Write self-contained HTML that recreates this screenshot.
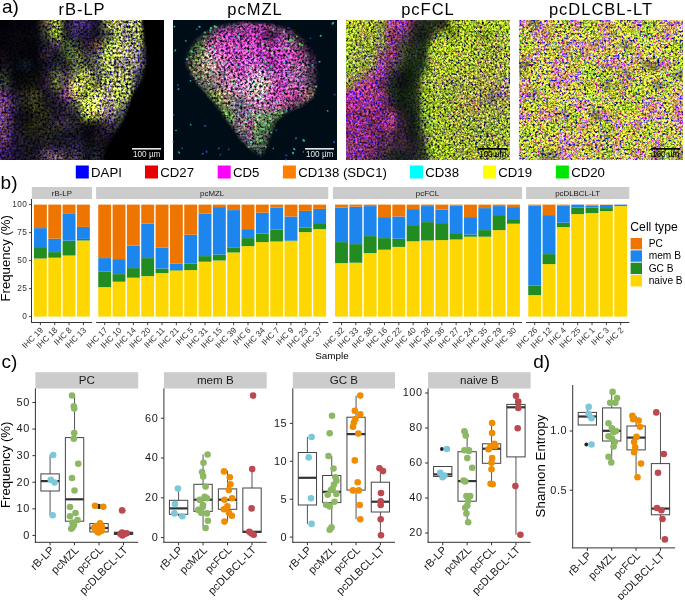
<!DOCTYPE html>
<html><head><meta charset="utf-8"><title>Figure</title>
<style>
html,body{margin:0;padding:0;background:#fff;}
body{width:685px;height:600px;overflow:hidden;}
svg{display:block;font-family:'Liberation Sans', sans-serif;will-change:transform;}
</style></head><body>
<svg width="685" height="600" viewBox="0 0 685 600">
<rect width="685" height="600" fill="#fff"/>
<defs>
<clipPath id="ic0"><rect x="0" y="20" width="164" height="140"/></clipPath>
<filter id="if0" filterUnits="userSpaceOnUse" x="0" y="20" width="164" height="140" color-interpolation-filters="sRGB"><feGaussianBlur in="SourceGraphic" stdDeviation="3.0" result="base"/><feTurbulence type="fractalNoise" baseFrequency="0.42" numOctaves="2" seed="3" result="n"/><feComponentTransfer in="n" result="m"><feFuncR type="linear" slope="-8" intercept="3.76"/><feFuncG type="linear" slope="8" intercept="-4.8"/><feFuncA type="linear" slope="0" intercept="1"/></feComponentTransfer><feColorMatrix in="m" type="matrix" values="-0.3 0.05 1.6 0 -0.245  -0.3 -0.15 1.6 0 -0.225  0.3 0.25 1.6 0 -0.385  0 0 0 0 1" result="nm"/><feComposite in="base" in2="nm" operator="arithmetic" k1="2" k2="0" k3="0" k4="0"/></filter>
<clipPath id="ic1"><rect x="173" y="20" width="164" height="140"/></clipPath>
<filter id="if1" filterUnits="userSpaceOnUse" x="173" y="20" width="164" height="140" color-interpolation-filters="sRGB"><feGaussianBlur in="SourceGraphic" stdDeviation="3.0" result="base"/><feTurbulence type="fractalNoise" baseFrequency="0.42" numOctaves="2" seed="10" result="n"/><feComponentTransfer in="n" result="m"><feFuncR type="linear" slope="-8" intercept="3.76"/><feFuncG type="linear" slope="8" intercept="-4.8"/><feFuncA type="linear" slope="0" intercept="1"/></feComponentTransfer><feColorMatrix in="m" type="matrix" values="-0.3 0.05 1.6 0 -0.245  -0.1 -0.15 1.6 0 -0.265  -0.1 0.25 1.6 0 -0.305  0 0 0 0 1" result="nm"/><feComposite in="base" in2="nm" operator="arithmetic" k1="2" k2="0" k3="0" k4="0"/></filter>
<clipPath id="ic2"><rect x="346" y="20" width="164" height="140"/></clipPath>
<filter id="if2" filterUnits="userSpaceOnUse" x="346" y="20" width="164" height="140" color-interpolation-filters="sRGB"><feGaussianBlur in="SourceGraphic" stdDeviation="3.0" result="base"/><feTurbulence type="fractalNoise" baseFrequency="0.45" numOctaves="2" seed="17" result="n"/><feComponentTransfer in="n" result="m"><feFuncR type="linear" slope="-8" intercept="3.76"/><feFuncG type="linear" slope="8" intercept="-4.8"/><feFuncA type="linear" slope="0" intercept="1"/></feComponentTransfer><feColorMatrix in="m" type="matrix" values="-0.28 0.1 1.3 0 -0.104  -0.28 -0.22 1.3 0 -0.072  0.4 0.35 1.3 0 -0.265  0 0 0 0 1" result="nm"/><feComposite in="base" in2="nm" operator="arithmetic" k1="2" k2="0" k3="0" k4="0"/></filter>
<clipPath id="ic3"><rect x="519" y="20" width="164" height="140"/></clipPath>
<filter id="if3" filterUnits="userSpaceOnUse" x="519" y="20" width="164" height="140" color-interpolation-filters="sRGB"><feGaussianBlur in="SourceGraphic" stdDeviation="2.0" result="base"/><feTurbulence type="fractalNoise" baseFrequency="0.45" numOctaves="2" seed="24" result="n"/><feComponentTransfer in="n" result="m"><feFuncR type="linear" slope="-8" intercept="3.76"/><feFuncG type="linear" slope="8" intercept="-4.8"/><feFuncA type="linear" slope="0" intercept="1"/></feComponentTransfer><feColorMatrix in="m" type="matrix" values="-0.32 0.16 1.1 0 -0.002  -0.32 -0.35 1.1 0 0.049  0.6 0.6 1.1 0 -0.230  0 0 0 0 1" result="nm"/><feComposite in="base" in2="nm" operator="arithmetic" k1="2" k2="0" k3="0" k4="0"/></filter>
</defs>
<g clip-path="url(#ic0)"><g filter="url(#if0)">
<rect x="-10.25" y="10.00" width="10.65" height="10.40" fill="rgb(2, 2, 6)"/>
<rect x="0.00" y="10.00" width="10.65" height="10.40" fill="rgb(2, 2, 6)"/>
<rect x="10.25" y="10.00" width="10.65" height="10.40" fill="rgb(4, 4, 9)"/>
<rect x="20.50" y="10.00" width="10.65" height="10.40" fill="rgb(4, 4, 9)"/>
<rect x="30.75" y="10.00" width="10.65" height="10.40" fill="rgb(6, 4, 11)"/>
<rect x="41.00" y="10.00" width="10.65" height="10.40" fill="rgb(80, 70, 50)"/>
<rect x="51.25" y="10.00" width="10.65" height="10.40" fill="rgb(140, 155, 51)"/>
<rect x="61.50" y="10.00" width="10.65" height="10.40" fill="rgb(27, 20, 41)"/>
<rect x="71.75" y="10.00" width="10.65" height="10.40" fill="rgb(65, 47, 103)"/>
<rect x="82.00" y="10.00" width="10.65" height="10.40" fill="rgb(51, 34, 85)"/>
<rect x="92.25" y="10.00" width="10.65" height="10.40" fill="rgb(18, 15, 37)"/>
<rect x="102.50" y="10.00" width="10.65" height="10.40" fill="rgb(138, 140, 80)"/>
<rect x="112.75" y="10.00" width="10.65" height="10.40" fill="rgb(158, 160, 95)"/>
<rect x="123.00" y="10.00" width="10.65" height="10.40" fill="rgb(139, 142, 101)"/>
<rect x="133.25" y="10.00" width="10.65" height="10.40" fill="rgb(159, 161, 106)"/>
<rect x="143.50" y="10.00" width="10.65" height="10.40" fill="rgb(10, 10, 10)"/>
<rect x="153.75" y="10.00" width="10.65" height="10.40" fill="rgb(0, 0, 0)"/>
<rect x="164.00" y="10.00" width="10.65" height="10.40" fill="rgb(0, 0, 0)"/>
<rect x="-10.25" y="20.00" width="10.65" height="10.40" fill="rgb(2, 2, 6)"/>
<rect x="0.00" y="20.00" width="10.65" height="10.40" fill="rgb(2, 2, 6)"/>
<rect x="10.25" y="20.00" width="10.65" height="10.40" fill="rgb(4, 4, 9)"/>
<rect x="20.50" y="20.00" width="10.65" height="10.40" fill="rgb(4, 4, 9)"/>
<rect x="30.75" y="20.00" width="10.65" height="10.40" fill="rgb(6, 4, 11)"/>
<rect x="41.00" y="20.00" width="10.65" height="10.40" fill="rgb(80, 70, 50)"/>
<rect x="51.25" y="20.00" width="10.65" height="10.40" fill="rgb(140, 155, 51)"/>
<rect x="61.50" y="20.00" width="10.65" height="10.40" fill="rgb(27, 20, 41)"/>
<rect x="71.75" y="20.00" width="10.65" height="10.40" fill="rgb(65, 47, 103)"/>
<rect x="82.00" y="20.00" width="10.65" height="10.40" fill="rgb(51, 34, 85)"/>
<rect x="92.25" y="20.00" width="10.65" height="10.40" fill="rgb(18, 15, 37)"/>
<rect x="102.50" y="20.00" width="10.65" height="10.40" fill="rgb(138, 140, 80)"/>
<rect x="112.75" y="20.00" width="10.65" height="10.40" fill="rgb(158, 160, 95)"/>
<rect x="123.00" y="20.00" width="10.65" height="10.40" fill="rgb(139, 142, 101)"/>
<rect x="133.25" y="20.00" width="10.65" height="10.40" fill="rgb(159, 161, 106)"/>
<rect x="143.50" y="20.00" width="10.65" height="10.40" fill="rgb(10, 10, 10)"/>
<rect x="153.75" y="20.00" width="10.65" height="10.40" fill="rgb(0, 0, 0)"/>
<rect x="164.00" y="20.00" width="10.65" height="10.40" fill="rgb(0, 0, 0)"/>
<rect x="-10.25" y="30.00" width="10.65" height="10.40" fill="rgb(4, 4, 11)"/>
<rect x="0.00" y="30.00" width="10.65" height="10.40" fill="rgb(4, 4, 11)"/>
<rect x="10.25" y="30.00" width="10.65" height="10.40" fill="rgb(9, 7, 16)"/>
<rect x="20.50" y="30.00" width="10.65" height="10.40" fill="rgb(6, 6, 11)"/>
<rect x="30.75" y="30.00" width="10.65" height="10.40" fill="rgb(9, 7, 16)"/>
<rect x="41.00" y="30.00" width="10.65" height="10.40" fill="rgb(44, 53, 44)"/>
<rect x="51.25" y="30.00" width="10.65" height="10.40" fill="rgb(125, 152, 40)"/>
<rect x="61.50" y="30.00" width="10.65" height="10.40" fill="rgb(29, 29, 37)"/>
<rect x="71.75" y="30.00" width="10.65" height="10.40" fill="rgb(52, 39, 78)"/>
<rect x="82.00" y="30.00" width="10.65" height="10.40" fill="rgb(28, 21, 49)"/>
<rect x="92.25" y="30.00" width="10.65" height="10.40" fill="rgb(19, 19, 32)"/>
<rect x="102.50" y="30.00" width="10.65" height="10.40" fill="rgb(55, 55, 64)"/>
<rect x="112.75" y="30.00" width="10.65" height="10.40" fill="rgb(142, 158, 82)"/>
<rect x="123.00" y="30.00" width="10.65" height="10.40" fill="rgb(116, 105, 105)"/>
<rect x="133.25" y="30.00" width="10.65" height="10.40" fill="rgb(142, 158, 82)"/>
<rect x="143.50" y="30.00" width="10.65" height="10.40" fill="rgb(4, 4, 9)"/>
<rect x="153.75" y="30.00" width="10.65" height="10.40" fill="rgb(0, 0, 0)"/>
<rect x="164.00" y="30.00" width="10.65" height="10.40" fill="rgb(0, 0, 0)"/>
<rect x="-10.25" y="40.00" width="10.65" height="10.40" fill="rgb(4, 4, 9)"/>
<rect x="0.00" y="40.00" width="10.65" height="10.40" fill="rgb(4, 4, 9)"/>
<rect x="10.25" y="40.00" width="10.65" height="10.40" fill="rgb(7, 9, 14)"/>
<rect x="20.50" y="40.00" width="10.65" height="10.40" fill="rgb(6, 6, 11)"/>
<rect x="30.75" y="40.00" width="10.65" height="10.40" fill="rgb(4, 4, 9)"/>
<rect x="41.00" y="40.00" width="10.65" height="10.40" fill="rgb(30, 30, 45)"/>
<rect x="51.25" y="40.00" width="10.65" height="10.40" fill="rgb(63, 45, 73)"/>
<rect x="61.50" y="40.00" width="10.65" height="10.40" fill="rgb(60, 80, 50)"/>
<rect x="71.75" y="40.00" width="10.65" height="10.40" fill="rgb(43, 52, 34)"/>
<rect x="82.00" y="40.00" width="10.65" height="10.40" fill="rgb(36, 21, 43)"/>
<rect x="92.25" y="40.00" width="10.65" height="10.40" fill="rgb(89, 59, 59)"/>
<rect x="102.50" y="40.00" width="10.65" height="10.40" fill="rgb(126, 154, 60)"/>
<rect x="112.75" y="40.00" width="10.65" height="10.40" fill="rgb(179, 183, 99)"/>
<rect x="123.00" y="40.00" width="10.65" height="10.40" fill="rgb(159, 161, 106)"/>
<rect x="133.25" y="40.00" width="10.65" height="10.40" fill="rgb(138, 141, 90)"/>
<rect x="143.50" y="40.00" width="10.65" height="10.40" fill="rgb(18, 15, 30)"/>
<rect x="153.75" y="40.00" width="10.65" height="10.40" fill="rgb(0, 0, 0)"/>
<rect x="164.00" y="40.00" width="10.65" height="10.40" fill="rgb(0, 0, 0)"/>
<rect x="-10.25" y="50.00" width="10.65" height="10.40" fill="rgb(15, 7, 18)"/>
<rect x="0.00" y="50.00" width="10.65" height="10.40" fill="rgb(15, 7, 18)"/>
<rect x="10.25" y="50.00" width="10.65" height="10.40" fill="rgb(6, 6, 13)"/>
<rect x="20.50" y="50.00" width="10.65" height="10.40" fill="rgb(4, 4, 9)"/>
<rect x="30.75" y="50.00" width="10.65" height="10.40" fill="rgb(4, 4, 9)"/>
<rect x="41.00" y="50.00" width="10.65" height="10.40" fill="rgb(48, 32, 48)"/>
<rect x="51.25" y="50.00" width="10.65" height="10.40" fill="rgb(19, 19, 25)"/>
<rect x="61.50" y="50.00" width="10.65" height="10.40" fill="rgb(59, 79, 39)"/>
<rect x="71.75" y="50.00" width="10.65" height="10.40" fill="rgb(104, 115, 57)"/>
<rect x="82.00" y="50.00" width="10.65" height="10.40" fill="rgb(52, 43, 52)"/>
<rect x="92.25" y="50.00" width="10.65" height="10.40" fill="rgb(86, 86, 86)"/>
<rect x="102.50" y="50.00" width="10.65" height="10.40" fill="rgb(162, 180, 86)"/>
<rect x="112.75" y="50.00" width="10.65" height="10.40" fill="rgb(179, 183, 110)"/>
<rect x="123.00" y="50.00" width="10.65" height="10.40" fill="rgb(156, 143, 143)"/>
<rect x="133.25" y="50.00" width="10.65" height="10.40" fill="rgb(118, 106, 130)"/>
<rect x="143.50" y="50.00" width="10.65" height="10.40" fill="rgb(10, 10, 21)"/>
<rect x="153.75" y="50.00" width="10.65" height="10.40" fill="rgb(0, 0, 0)"/>
<rect x="164.00" y="50.00" width="10.65" height="10.40" fill="rgb(0, 0, 0)"/>
<rect x="-10.25" y="60.00" width="10.65" height="10.40" fill="rgb(18, 15, 24)"/>
<rect x="0.00" y="60.00" width="10.65" height="10.40" fill="rgb(18, 15, 24)"/>
<rect x="10.25" y="60.00" width="10.65" height="10.40" fill="rgb(6, 6, 13)"/>
<rect x="20.50" y="60.00" width="10.65" height="10.40" fill="rgb(13, 27, 34)"/>
<rect x="30.75" y="60.00" width="10.65" height="10.40" fill="rgb(4, 4, 9)"/>
<rect x="41.00" y="60.00" width="10.65" height="10.40" fill="rgb(18, 15, 30)"/>
<rect x="51.25" y="60.00" width="10.65" height="10.40" fill="rgb(30, 30, 45)"/>
<rect x="61.50" y="60.00" width="10.65" height="10.40" fill="rgb(29, 29, 29)"/>
<rect x="71.75" y="60.00" width="10.65" height="10.40" fill="rgb(88, 99, 66)"/>
<rect x="82.00" y="60.00" width="10.65" height="10.40" fill="rgb(57, 67, 47)"/>
<rect x="92.25" y="60.00" width="10.65" height="10.40" fill="rgb(85, 85, 74)"/>
<rect x="102.50" y="60.00" width="10.65" height="10.40" fill="rgb(183, 203, 90)"/>
<rect x="112.75" y="60.00" width="10.65" height="10.40" fill="rgb(98, 87, 87)"/>
<rect x="123.00" y="60.00" width="10.65" height="10.40" fill="rgb(139, 142, 101)"/>
<rect x="133.25" y="60.00" width="10.65" height="10.40" fill="rgb(118, 106, 130)"/>
<rect x="143.50" y="60.00" width="10.65" height="10.40" fill="rgb(2, 2, 4)"/>
<rect x="153.75" y="60.00" width="10.65" height="10.40" fill="rgb(0, 0, 0)"/>
<rect x="164.00" y="60.00" width="10.65" height="10.40" fill="rgb(0, 0, 0)"/>
<rect x="-10.25" y="70.00" width="10.65" height="10.40" fill="rgb(31, 39, 31)"/>
<rect x="0.00" y="70.00" width="10.65" height="10.40" fill="rgb(31, 39, 31)"/>
<rect x="10.25" y="70.00" width="10.65" height="10.40" fill="rgb(6, 6, 11)"/>
<rect x="20.50" y="70.00" width="10.65" height="10.40" fill="rgb(6, 6, 11)"/>
<rect x="30.75" y="70.00" width="10.65" height="10.40" fill="rgb(10, 10, 10)"/>
<rect x="41.00" y="70.00" width="10.65" height="10.40" fill="rgb(27, 20, 38)"/>
<rect x="51.25" y="70.00" width="10.65" height="10.40" fill="rgb(87, 98, 54)"/>
<rect x="61.50" y="70.00" width="10.65" height="10.40" fill="rgb(63, 45, 73)"/>
<rect x="71.75" y="70.00" width="10.65" height="10.40" fill="rgb(137, 140, 70)"/>
<rect x="82.00" y="70.00" width="10.65" height="10.40" fill="rgb(161, 178, 64)"/>
<rect x="92.25" y="70.00" width="10.65" height="10.40" fill="rgb(85, 85, 74)"/>
<rect x="102.50" y="70.00" width="10.65" height="10.40" fill="rgb(143, 158, 93)"/>
<rect x="112.75" y="70.00" width="10.65" height="10.40" fill="rgb(159, 161, 106)"/>
<rect x="123.00" y="70.00" width="10.65" height="10.40" fill="rgb(138, 141, 90)"/>
<rect x="133.25" y="70.00" width="10.65" height="10.40" fill="rgb(55, 55, 64)"/>
<rect x="143.50" y="70.00" width="10.65" height="10.40" fill="rgb(0, 0, 0)"/>
<rect x="153.75" y="70.00" width="10.65" height="10.40" fill="rgb(0, 0, 0)"/>
<rect x="164.00" y="70.00" width="10.65" height="10.40" fill="rgb(0, 0, 0)"/>
<rect x="-10.25" y="80.00" width="10.65" height="10.40" fill="rgb(44, 53, 44)"/>
<rect x="0.00" y="80.00" width="10.65" height="10.40" fill="rgb(44, 53, 44)"/>
<rect x="10.25" y="80.00" width="10.65" height="10.40" fill="rgb(10, 10, 12)"/>
<rect x="20.50" y="80.00" width="10.65" height="10.40" fill="rgb(14, 14, 11)"/>
<rect x="30.75" y="80.00" width="10.65" height="10.40" fill="rgb(18, 18, 12)"/>
<rect x="41.00" y="80.00" width="10.65" height="10.40" fill="rgb(36, 21, 43)"/>
<rect x="51.25" y="80.00" width="10.65" height="10.40" fill="rgb(87, 98, 54)"/>
<rect x="61.50" y="80.00" width="10.65" height="10.40" fill="rgb(94, 73, 84)"/>
<rect x="71.75" y="80.00" width="10.65" height="10.40" fill="rgb(199, 205, 79)"/>
<rect x="82.00" y="80.00" width="10.65" height="10.40" fill="rgb(141, 156, 61)"/>
<rect x="92.25" y="80.00" width="10.65" height="10.40" fill="rgb(84, 84, 63)"/>
<rect x="102.50" y="80.00" width="10.65" height="10.40" fill="rgb(143, 158, 93)"/>
<rect x="112.75" y="80.00" width="10.65" height="10.40" fill="rgb(158, 160, 95)"/>
<rect x="123.00" y="80.00" width="10.65" height="10.40" fill="rgb(142, 158, 82)"/>
<rect x="133.25" y="80.00" width="10.65" height="10.40" fill="rgb(42, 42, 50)"/>
<rect x="143.50" y="80.00" width="10.65" height="10.40" fill="rgb(0, 0, 0)"/>
<rect x="153.75" y="80.00" width="10.65" height="10.40" fill="rgb(0, 0, 0)"/>
<rect x="164.00" y="80.00" width="10.65" height="10.40" fill="rgb(0, 0, 0)"/>
<rect x="-10.25" y="90.00" width="10.65" height="10.40" fill="rgb(84, 37, 103)"/>
<rect x="0.00" y="90.00" width="10.65" height="10.40" fill="rgb(84, 37, 103)"/>
<rect x="10.25" y="90.00" width="10.65" height="10.40" fill="rgb(27, 20, 41)"/>
<rect x="20.50" y="90.00" width="10.65" height="10.40" fill="rgb(40, 40, 24)"/>
<rect x="30.75" y="90.00" width="10.65" height="10.40" fill="rgb(53, 53, 26)"/>
<rect x="41.00" y="90.00" width="10.65" height="10.40" fill="rgb(19, 19, 25)"/>
<rect x="51.25" y="90.00" width="10.65" height="10.40" fill="rgb(39, 31, 47)"/>
<rect x="61.50" y="90.00" width="10.65" height="10.40" fill="rgb(118, 64, 118)"/>
<rect x="71.75" y="90.00" width="10.65" height="10.40" fill="rgb(173, 162, 85)"/>
<rect x="82.00" y="90.00" width="10.65" height="10.40" fill="rgb(122, 137, 58)"/>
<rect x="92.25" y="90.00" width="10.65" height="10.40" fill="rgb(223, 230, 107)"/>
<rect x="102.50" y="90.00" width="10.65" height="10.40" fill="rgb(136, 124, 136)"/>
<rect x="112.75" y="90.00" width="10.65" height="10.40" fill="rgb(162, 180, 86)"/>
<rect x="123.00" y="90.00" width="10.65" height="10.40" fill="rgb(142, 158, 82)"/>
<rect x="133.25" y="90.00" width="10.65" height="10.40" fill="rgb(0, 0, 0)"/>
<rect x="143.50" y="90.00" width="10.65" height="10.40" fill="rgb(0, 0, 0)"/>
<rect x="153.75" y="90.00" width="10.65" height="10.40" fill="rgb(0, 0, 0)"/>
<rect x="164.00" y="90.00" width="10.65" height="10.40" fill="rgb(0, 0, 0)"/>
<rect x="-10.25" y="100.00" width="10.65" height="10.40" fill="rgb(105, 63, 116)"/>
<rect x="0.00" y="100.00" width="10.65" height="10.40" fill="rgb(105, 63, 116)"/>
<rect x="10.25" y="100.00" width="10.65" height="10.40" fill="rgb(39, 31, 55)"/>
<rect x="20.50" y="100.00" width="10.65" height="10.40" fill="rgb(28, 28, 21)"/>
<rect x="30.75" y="100.00" width="10.65" height="10.40" fill="rgb(53, 53, 22)"/>
<rect x="41.00" y="100.00" width="10.65" height="10.40" fill="rgb(28, 24, 28)"/>
<rect x="51.25" y="100.00" width="10.65" height="10.40" fill="rgb(27, 20, 41)"/>
<rect x="61.50" y="100.00" width="10.65" height="10.40" fill="rgb(39, 31, 47)"/>
<rect x="71.75" y="100.00" width="10.65" height="10.40" fill="rgb(84, 84, 52)"/>
<rect x="82.00" y="100.00" width="10.65" height="10.40" fill="rgb(225, 249, 96)"/>
<rect x="92.25" y="100.00" width="10.65" height="10.40" fill="rgb(224, 231, 119)"/>
<rect x="102.50" y="100.00" width="10.65" height="10.40" fill="rgb(151, 126, 138)"/>
<rect x="112.75" y="100.00" width="10.65" height="10.40" fill="rgb(143, 158, 93)"/>
<rect x="123.00" y="100.00" width="10.65" height="10.40" fill="rgb(55, 55, 55)"/>
<rect x="133.25" y="100.00" width="10.65" height="10.40" fill="rgb(0, 0, 0)"/>
<rect x="143.50" y="100.00" width="10.65" height="10.40" fill="rgb(0, 0, 0)"/>
<rect x="153.75" y="100.00" width="10.65" height="10.40" fill="rgb(0, 0, 0)"/>
<rect x="164.00" y="100.00" width="10.65" height="10.40" fill="rgb(0, 0, 0)"/>
<rect x="-10.25" y="110.00" width="10.65" height="10.40" fill="rgb(89, 49, 108)"/>
<rect x="0.00" y="110.00" width="10.65" height="10.40" fill="rgb(89, 49, 108)"/>
<rect x="10.25" y="110.00" width="10.65" height="10.40" fill="rgb(27, 20, 41)"/>
<rect x="20.50" y="110.00" width="10.65" height="10.40" fill="rgb(10, 10, 15)"/>
<rect x="30.75" y="110.00" width="10.65" height="10.40" fill="rgb(28, 28, 14)"/>
<rect x="41.00" y="110.00" width="10.65" height="10.40" fill="rgb(40, 40, 24)"/>
<rect x="51.25" y="110.00" width="10.65" height="10.40" fill="rgb(27, 20, 34)"/>
<rect x="61.50" y="110.00" width="10.65" height="10.40" fill="rgb(39, 31, 55)"/>
<rect x="71.75" y="110.00" width="10.65" height="10.40" fill="rgb(29, 29, 37)"/>
<rect x="82.00" y="110.00" width="10.65" height="10.40" fill="rgb(161, 178, 64)"/>
<rect x="92.25" y="110.00" width="10.65" height="10.40" fill="rgb(138, 140, 80)"/>
<rect x="102.50" y="110.00" width="10.65" height="10.40" fill="rgb(113, 90, 113)"/>
<rect x="112.75" y="110.00" width="10.65" height="10.40" fill="rgb(86, 86, 86)"/>
<rect x="123.00" y="110.00" width="10.65" height="10.40" fill="rgb(30, 30, 45)"/>
<rect x="133.25" y="110.00" width="10.65" height="10.40" fill="rgb(0, 0, 0)"/>
<rect x="143.50" y="110.00" width="10.65" height="10.40" fill="rgb(0, 0, 0)"/>
<rect x="153.75" y="110.00" width="10.65" height="10.40" fill="rgb(0, 0, 0)"/>
<rect x="164.00" y="110.00" width="10.65" height="10.40" fill="rgb(0, 0, 0)"/>
<rect x="-10.25" y="120.00" width="10.65" height="10.40" fill="rgb(92, 61, 102)"/>
<rect x="0.00" y="120.00" width="10.65" height="10.40" fill="rgb(92, 61, 102)"/>
<rect x="10.25" y="120.00" width="10.65" height="10.40" fill="rgb(27, 20, 41)"/>
<rect x="20.50" y="120.00" width="10.65" height="10.40" fill="rgb(18, 18, 12)"/>
<rect x="30.75" y="120.00" width="10.65" height="10.40" fill="rgb(40, 40, 20)"/>
<rect x="41.00" y="120.00" width="10.65" height="10.40" fill="rgb(28, 28, 21)"/>
<rect x="51.25" y="120.00" width="10.65" height="10.40" fill="rgb(51, 42, 42)"/>
<rect x="61.50" y="120.00" width="10.65" height="10.40" fill="rgb(52, 43, 52)"/>
<rect x="71.75" y="120.00" width="10.65" height="10.40" fill="rgb(29, 29, 37)"/>
<rect x="82.00" y="120.00" width="10.65" height="10.40" fill="rgb(11, 13, 16)"/>
<rect x="92.25" y="120.00" width="10.65" height="10.40" fill="rgb(19, 19, 25)"/>
<rect x="102.50" y="120.00" width="10.65" height="10.40" fill="rgb(52, 43, 61)"/>
<rect x="112.75" y="120.00" width="10.65" height="10.40" fill="rgb(42, 42, 50)"/>
<rect x="123.00" y="120.00" width="10.65" height="10.40" fill="rgb(4, 4, 9)"/>
<rect x="133.25" y="120.00" width="10.65" height="10.40" fill="rgb(0, 0, 0)"/>
<rect x="143.50" y="120.00" width="10.65" height="10.40" fill="rgb(0, 0, 0)"/>
<rect x="153.75" y="120.00" width="10.65" height="10.40" fill="rgb(0, 0, 0)"/>
<rect x="164.00" y="120.00" width="10.65" height="10.40" fill="rgb(0, 0, 0)"/>
<rect x="-10.25" y="130.00" width="10.65" height="10.40" fill="rgb(89, 49, 108)"/>
<rect x="0.00" y="130.00" width="10.65" height="10.40" fill="rgb(89, 49, 108)"/>
<rect x="10.25" y="130.00" width="10.65" height="10.40" fill="rgb(28, 21, 49)"/>
<rect x="20.50" y="130.00" width="10.65" height="10.40" fill="rgb(29, 29, 29)"/>
<rect x="30.75" y="130.00" width="10.65" height="10.40" fill="rgb(28, 28, 21)"/>
<rect x="41.00" y="130.00" width="10.65" height="10.40" fill="rgb(29, 29, 29)"/>
<rect x="51.25" y="130.00" width="10.65" height="10.40" fill="rgb(21, 28, 28)"/>
<rect x="61.50" y="130.00" width="10.65" height="10.40" fill="rgb(19, 19, 32)"/>
<rect x="71.75" y="130.00" width="10.65" height="10.40" fill="rgb(19, 19, 32)"/>
<rect x="82.00" y="130.00" width="10.65" height="10.40" fill="rgb(6, 6, 13)"/>
<rect x="92.25" y="130.00" width="10.65" height="10.40" fill="rgb(25, 16, 29)"/>
<rect x="102.50" y="130.00" width="10.65" height="10.40" fill="rgb(27, 20, 34)"/>
<rect x="112.75" y="130.00" width="10.65" height="10.40" fill="rgb(10, 10, 21)"/>
<rect x="123.00" y="130.00" width="10.65" height="10.40" fill="rgb(2, 2, 4)"/>
<rect x="133.25" y="130.00" width="10.65" height="10.40" fill="rgb(0, 0, 0)"/>
<rect x="143.50" y="130.00" width="10.65" height="10.40" fill="rgb(0, 0, 0)"/>
<rect x="153.75" y="130.00" width="10.65" height="10.40" fill="rgb(0, 0, 0)"/>
<rect x="164.00" y="130.00" width="10.65" height="10.40" fill="rgb(0, 0, 0)"/>
<rect x="-10.25" y="140.00" width="10.65" height="10.40" fill="rgb(72, 36, 90)"/>
<rect x="0.00" y="140.00" width="10.65" height="10.40" fill="rgb(72, 36, 90)"/>
<rect x="10.25" y="140.00" width="10.65" height="10.40" fill="rgb(27, 20, 41)"/>
<rect x="20.50" y="140.00" width="10.65" height="10.40" fill="rgb(27, 20, 34)"/>
<rect x="30.75" y="140.00" width="10.65" height="10.40" fill="rgb(18, 15, 24)"/>
<rect x="41.00" y="140.00" width="10.65" height="10.40" fill="rgb(38, 31, 38)"/>
<rect x="51.25" y="140.00" width="10.65" height="10.40" fill="rgb(27, 20, 41)"/>
<rect x="61.50" y="140.00" width="10.65" height="10.40" fill="rgb(27, 20, 41)"/>
<rect x="71.75" y="140.00" width="10.65" height="10.40" fill="rgb(39, 31, 55)"/>
<rect x="82.00" y="140.00" width="10.65" height="10.40" fill="rgb(15, 18, 21)"/>
<rect x="92.25" y="140.00" width="10.65" height="10.40" fill="rgb(19, 19, 25)"/>
<rect x="102.50" y="140.00" width="10.65" height="10.40" fill="rgb(17, 11, 22)"/>
<rect x="112.75" y="140.00" width="10.65" height="10.40" fill="rgb(2, 2, 6)"/>
<rect x="123.00" y="140.00" width="10.65" height="10.40" fill="rgb(0, 0, 0)"/>
<rect x="133.25" y="140.00" width="10.65" height="10.40" fill="rgb(0, 0, 0)"/>
<rect x="143.50" y="140.00" width="10.65" height="10.40" fill="rgb(0, 0, 0)"/>
<rect x="153.75" y="140.00" width="10.65" height="10.40" fill="rgb(0, 0, 0)"/>
<rect x="164.00" y="140.00" width="10.65" height="10.40" fill="rgb(0, 0, 0)"/>
<rect x="-10.25" y="150.00" width="10.65" height="10.40" fill="rgb(47, 23, 71)"/>
<rect x="0.00" y="150.00" width="10.65" height="10.40" fill="rgb(47, 23, 71)"/>
<rect x="10.25" y="150.00" width="10.65" height="10.40" fill="rgb(27, 16, 47)"/>
<rect x="20.50" y="150.00" width="10.65" height="10.40" fill="rgb(19, 19, 32)"/>
<rect x="30.75" y="150.00" width="10.65" height="10.40" fill="rgb(27, 20, 41)"/>
<rect x="41.00" y="150.00" width="10.65" height="10.40" fill="rgb(78, 59, 78)"/>
<rect x="51.25" y="150.00" width="10.65" height="10.40" fill="rgb(95, 74, 95)"/>
<rect x="61.50" y="150.00" width="10.65" height="10.40" fill="rgb(52, 43, 61)"/>
<rect x="71.75" y="150.00" width="10.65" height="10.40" fill="rgb(53, 44, 70)"/>
<rect x="82.00" y="150.00" width="10.65" height="10.40" fill="rgb(19, 19, 32)"/>
<rect x="92.25" y="150.00" width="10.65" height="10.40" fill="rgb(29, 29, 37)"/>
<rect x="102.50" y="150.00" width="10.65" height="10.40" fill="rgb(10, 10, 15)"/>
<rect x="112.75" y="150.00" width="10.65" height="10.40" fill="rgb(0, 0, 2)"/>
<rect x="123.00" y="150.00" width="10.65" height="10.40" fill="rgb(0, 0, 0)"/>
<rect x="133.25" y="150.00" width="10.65" height="10.40" fill="rgb(0, 0, 0)"/>
<rect x="143.50" y="150.00" width="10.65" height="10.40" fill="rgb(0, 0, 0)"/>
<rect x="153.75" y="150.00" width="10.65" height="10.40" fill="rgb(0, 0, 0)"/>
<rect x="164.00" y="150.00" width="10.65" height="10.40" fill="rgb(0, 0, 0)"/>
<rect x="-10.25" y="160.00" width="10.65" height="10.40" fill="rgb(47, 23, 71)"/>
<rect x="0.00" y="160.00" width="10.65" height="10.40" fill="rgb(47, 23, 71)"/>
<rect x="10.25" y="160.00" width="10.65" height="10.40" fill="rgb(27, 16, 47)"/>
<rect x="20.50" y="160.00" width="10.65" height="10.40" fill="rgb(19, 19, 32)"/>
<rect x="30.75" y="160.00" width="10.65" height="10.40" fill="rgb(27, 20, 41)"/>
<rect x="41.00" y="160.00" width="10.65" height="10.40" fill="rgb(78, 59, 78)"/>
<rect x="51.25" y="160.00" width="10.65" height="10.40" fill="rgb(95, 74, 95)"/>
<rect x="61.50" y="160.00" width="10.65" height="10.40" fill="rgb(52, 43, 61)"/>
<rect x="71.75" y="160.00" width="10.65" height="10.40" fill="rgb(53, 44, 70)"/>
<rect x="82.00" y="160.00" width="10.65" height="10.40" fill="rgb(19, 19, 32)"/>
<rect x="92.25" y="160.00" width="10.65" height="10.40" fill="rgb(29, 29, 37)"/>
<rect x="102.50" y="160.00" width="10.65" height="10.40" fill="rgb(10, 10, 15)"/>
<rect x="112.75" y="160.00" width="10.65" height="10.40" fill="rgb(0, 0, 2)"/>
<rect x="123.00" y="160.00" width="10.65" height="10.40" fill="rgb(0, 0, 0)"/>
<rect x="133.25" y="160.00" width="10.65" height="10.40" fill="rgb(0, 0, 0)"/>
<rect x="143.50" y="160.00" width="10.65" height="10.40" fill="rgb(0, 0, 0)"/>
<rect x="153.75" y="160.00" width="10.65" height="10.40" fill="rgb(0, 0, 0)"/>
<rect x="164.00" y="160.00" width="10.65" height="10.40" fill="rgb(0, 0, 0)"/>
</g></g>
<g clip-path="url(#ic1)"><g filter="url(#if1)">
<rect x="162.75" y="10.00" width="10.65" height="10.40" fill="rgb(5, 10, 25)"/>
<rect x="173.00" y="10.00" width="10.65" height="10.40" fill="rgb(5, 10, 25)"/>
<rect x="183.25" y="10.00" width="10.65" height="10.40" fill="rgb(15, 20, 35)"/>
<rect x="193.50" y="10.00" width="10.65" height="10.40" fill="rgb(5, 10, 25)"/>
<rect x="203.75" y="10.00" width="10.65" height="10.40" fill="rgb(10, 15, 30)"/>
<rect x="214.00" y="10.00" width="10.65" height="10.40" fill="rgb(40, 40, 60)"/>
<rect x="224.25" y="10.00" width="10.65" height="10.40" fill="rgb(80, 60, 90)"/>
<rect x="234.50" y="10.00" width="10.65" height="10.40" fill="rgb(130, 70, 120)"/>
<rect x="244.75" y="10.00" width="10.65" height="10.40" fill="rgb(140, 60, 130)"/>
<rect x="255.00" y="10.00" width="10.65" height="10.40" fill="rgb(140, 50, 140)"/>
<rect x="265.25" y="10.00" width="10.65" height="10.40" fill="rgb(130, 60, 110)"/>
<rect x="275.50" y="10.00" width="10.65" height="10.40" fill="rgb(40, 40, 60)"/>
<rect x="285.75" y="10.00" width="10.65" height="10.40" fill="rgb(10, 15, 30)"/>
<rect x="296.00" y="10.00" width="10.65" height="10.40" fill="rgb(5, 10, 25)"/>
<rect x="306.25" y="10.00" width="10.65" height="10.40" fill="rgb(10, 15, 30)"/>
<rect x="316.50" y="10.00" width="10.65" height="10.40" fill="rgb(5, 10, 25)"/>
<rect x="326.75" y="10.00" width="10.65" height="10.40" fill="rgb(5, 10, 25)"/>
<rect x="337.00" y="10.00" width="10.65" height="10.40" fill="rgb(5, 10, 25)"/>
<rect x="162.75" y="20.00" width="10.65" height="10.40" fill="rgb(5, 10, 25)"/>
<rect x="173.00" y="20.00" width="10.65" height="10.40" fill="rgb(5, 10, 25)"/>
<rect x="183.25" y="20.00" width="10.65" height="10.40" fill="rgb(15, 20, 35)"/>
<rect x="193.50" y="20.00" width="10.65" height="10.40" fill="rgb(5, 10, 25)"/>
<rect x="203.75" y="20.00" width="10.65" height="10.40" fill="rgb(10, 15, 30)"/>
<rect x="214.00" y="20.00" width="10.65" height="10.40" fill="rgb(40, 40, 60)"/>
<rect x="224.25" y="20.00" width="10.65" height="10.40" fill="rgb(80, 60, 90)"/>
<rect x="234.50" y="20.00" width="10.65" height="10.40" fill="rgb(130, 70, 120)"/>
<rect x="244.75" y="20.00" width="10.65" height="10.40" fill="rgb(140, 60, 130)"/>
<rect x="255.00" y="20.00" width="10.65" height="10.40" fill="rgb(140, 50, 140)"/>
<rect x="265.25" y="20.00" width="10.65" height="10.40" fill="rgb(130, 60, 110)"/>
<rect x="275.50" y="20.00" width="10.65" height="10.40" fill="rgb(40, 40, 60)"/>
<rect x="285.75" y="20.00" width="10.65" height="10.40" fill="rgb(10, 15, 30)"/>
<rect x="296.00" y="20.00" width="10.65" height="10.40" fill="rgb(5, 10, 25)"/>
<rect x="306.25" y="20.00" width="10.65" height="10.40" fill="rgb(10, 15, 30)"/>
<rect x="316.50" y="20.00" width="10.65" height="10.40" fill="rgb(5, 10, 25)"/>
<rect x="326.75" y="20.00" width="10.65" height="10.40" fill="rgb(5, 10, 25)"/>
<rect x="337.00" y="20.00" width="10.65" height="10.40" fill="rgb(5, 10, 25)"/>
<rect x="162.75" y="30.00" width="10.65" height="10.40" fill="rgb(20, 40, 50)"/>
<rect x="173.00" y="30.00" width="10.65" height="10.40" fill="rgb(20, 40, 50)"/>
<rect x="183.25" y="30.00" width="10.65" height="10.40" fill="rgb(10, 15, 30)"/>
<rect x="193.50" y="30.00" width="10.65" height="10.40" fill="rgb(30, 40, 40)"/>
<rect x="203.75" y="30.00" width="10.65" height="10.40" fill="rgb(70, 70, 60)"/>
<rect x="214.00" y="30.00" width="10.65" height="10.40" fill="rgb(150, 60, 140)"/>
<rect x="224.25" y="30.00" width="10.65" height="10.40" fill="rgb(170, 60, 160)"/>
<rect x="234.50" y="30.00" width="10.65" height="10.40" fill="rgb(130, 40, 120)"/>
<rect x="244.75" y="30.00" width="10.65" height="10.40" fill="rgb(170, 50, 160)"/>
<rect x="255.00" y="30.00" width="10.65" height="10.40" fill="rgb(140, 40, 140)"/>
<rect x="265.25" y="30.00" width="10.65" height="10.40" fill="rgb(40, 20, 50)"/>
<rect x="275.50" y="30.00" width="10.65" height="10.40" fill="rgb(130, 60, 120)"/>
<rect x="285.75" y="30.00" width="10.65" height="10.40" fill="rgb(80, 50, 80)"/>
<rect x="296.00" y="30.00" width="10.65" height="10.40" fill="rgb(15, 20, 35)"/>
<rect x="306.25" y="30.00" width="10.65" height="10.40" fill="rgb(10, 20, 35)"/>
<rect x="316.50" y="30.00" width="10.65" height="10.40" fill="rgb(5, 10, 25)"/>
<rect x="326.75" y="30.00" width="10.65" height="10.40" fill="rgb(5, 10, 25)"/>
<rect x="337.00" y="30.00" width="10.65" height="10.40" fill="rgb(5, 10, 25)"/>
<rect x="162.75" y="40.00" width="10.65" height="10.40" fill="rgb(5, 10, 25)"/>
<rect x="173.00" y="40.00" width="10.65" height="10.40" fill="rgb(5, 10, 25)"/>
<rect x="183.25" y="40.00" width="10.65" height="10.40" fill="rgb(20, 30, 40)"/>
<rect x="193.50" y="40.00" width="10.65" height="10.40" fill="rgb(60, 90, 50)"/>
<rect x="203.75" y="40.00" width="10.65" height="10.40" fill="rgb(140, 80, 120)"/>
<rect x="214.00" y="40.00" width="10.65" height="10.40" fill="rgb(180, 70, 170)"/>
<rect x="224.25" y="40.00" width="10.65" height="10.40" fill="rgb(190, 70, 170)"/>
<rect x="234.50" y="40.00" width="10.65" height="10.40" fill="rgb(180, 60, 170)"/>
<rect x="244.75" y="40.00" width="10.65" height="10.40" fill="rgb(190, 70, 180)"/>
<rect x="255.00" y="40.00" width="10.65" height="10.40" fill="rgb(170, 50, 170)"/>
<rect x="265.25" y="40.00" width="10.65" height="10.40" fill="rgb(150, 50, 140)"/>
<rect x="275.50" y="40.00" width="10.65" height="10.40" fill="rgb(170, 70, 160)"/>
<rect x="285.75" y="40.00" width="10.65" height="10.40" fill="rgb(150, 90, 130)"/>
<rect x="296.00" y="40.00" width="10.65" height="10.40" fill="rgb(60, 40, 60)"/>
<rect x="306.25" y="40.00" width="10.65" height="10.40" fill="rgb(5, 10, 25)"/>
<rect x="316.50" y="40.00" width="10.65" height="10.40" fill="rgb(5, 10, 25)"/>
<rect x="326.75" y="40.00" width="10.65" height="10.40" fill="rgb(5, 10, 25)"/>
<rect x="337.00" y="40.00" width="10.65" height="10.40" fill="rgb(5, 10, 25)"/>
<rect x="162.75" y="50.00" width="10.65" height="10.40" fill="rgb(5, 10, 25)"/>
<rect x="173.00" y="50.00" width="10.65" height="10.40" fill="rgb(5, 10, 25)"/>
<rect x="183.25" y="50.00" width="10.65" height="10.40" fill="rgb(30, 40, 40)"/>
<rect x="193.50" y="50.00" width="10.65" height="10.40" fill="rgb(90, 110, 70)"/>
<rect x="203.75" y="50.00" width="10.65" height="10.40" fill="rgb(190, 150, 170)"/>
<rect x="214.00" y="50.00" width="10.65" height="10.40" fill="rgb(190, 100, 170)"/>
<rect x="224.25" y="50.00" width="10.65" height="10.40" fill="rgb(190, 80, 170)"/>
<rect x="234.50" y="50.00" width="10.65" height="10.40" fill="rgb(180, 70, 170)"/>
<rect x="244.75" y="50.00" width="10.65" height="10.40" fill="rgb(190, 80, 180)"/>
<rect x="255.00" y="50.00" width="10.65" height="10.40" fill="rgb(170, 50, 170)"/>
<rect x="265.25" y="50.00" width="10.65" height="10.40" fill="rgb(160, 40, 160)"/>
<rect x="275.50" y="50.00" width="10.65" height="10.40" fill="rgb(180, 50, 170)"/>
<rect x="285.75" y="50.00" width="10.65" height="10.40" fill="rgb(180, 60, 170)"/>
<rect x="296.00" y="50.00" width="10.65" height="10.40" fill="rgb(140, 60, 120)"/>
<rect x="306.25" y="50.00" width="10.65" height="10.40" fill="rgb(30, 25, 40)"/>
<rect x="316.50" y="50.00" width="10.65" height="10.40" fill="rgb(10, 20, 35)"/>
<rect x="326.75" y="50.00" width="10.65" height="10.40" fill="rgb(20, 40, 50)"/>
<rect x="337.00" y="50.00" width="10.65" height="10.40" fill="rgb(20, 40, 50)"/>
<rect x="162.75" y="60.00" width="10.65" height="10.40" fill="rgb(5, 10, 25)"/>
<rect x="173.00" y="60.00" width="10.65" height="10.40" fill="rgb(5, 10, 25)"/>
<rect x="183.25" y="60.00" width="10.65" height="10.40" fill="rgb(60, 50, 50)"/>
<rect x="193.50" y="60.00" width="10.65" height="10.40" fill="rgb(120, 120, 80)"/>
<rect x="203.75" y="60.00" width="10.65" height="10.40" fill="rgb(170, 150, 140)"/>
<rect x="214.00" y="60.00" width="10.65" height="10.40" fill="rgb(170, 110, 150)"/>
<rect x="224.25" y="60.00" width="10.65" height="10.40" fill="rgb(160, 80, 150)"/>
<rect x="234.50" y="60.00" width="10.65" height="10.40" fill="rgb(170, 70, 160)"/>
<rect x="244.75" y="60.00" width="10.65" height="10.40" fill="rgb(200, 100, 190)"/>
<rect x="255.00" y="60.00" width="10.65" height="10.40" fill="rgb(170, 80, 170)"/>
<rect x="265.25" y="60.00" width="10.65" height="10.40" fill="rgb(130, 40, 130)"/>
<rect x="275.50" y="60.00" width="10.65" height="10.40" fill="rgb(180, 60, 170)"/>
<rect x="285.75" y="60.00" width="10.65" height="10.40" fill="rgb(160, 80, 150)"/>
<rect x="296.00" y="60.00" width="10.65" height="10.40" fill="rgb(150, 80, 140)"/>
<rect x="306.25" y="60.00" width="10.65" height="10.40" fill="rgb(70, 40, 80)"/>
<rect x="316.50" y="60.00" width="10.65" height="10.40" fill="rgb(5, 10, 25)"/>
<rect x="326.75" y="60.00" width="10.65" height="10.40" fill="rgb(5, 10, 25)"/>
<rect x="337.00" y="60.00" width="10.65" height="10.40" fill="rgb(5, 10, 25)"/>
<rect x="162.75" y="70.00" width="10.65" height="10.40" fill="rgb(5, 10, 25)"/>
<rect x="173.00" y="70.00" width="10.65" height="10.40" fill="rgb(5, 10, 25)"/>
<rect x="183.25" y="70.00" width="10.65" height="10.40" fill="rgb(60, 50, 60)"/>
<rect x="193.50" y="70.00" width="10.65" height="10.40" fill="rgb(100, 90, 70)"/>
<rect x="203.75" y="70.00" width="10.65" height="10.40" fill="rgb(140, 130, 120)"/>
<rect x="214.00" y="70.00" width="10.65" height="10.40" fill="rgb(150, 110, 130)"/>
<rect x="224.25" y="70.00" width="10.65" height="10.40" fill="rgb(180, 110, 160)"/>
<rect x="234.50" y="70.00" width="10.65" height="10.40" fill="rgb(170, 70, 160)"/>
<rect x="244.75" y="70.00" width="10.65" height="10.40" fill="rgb(190, 110, 180)"/>
<rect x="255.00" y="70.00" width="10.65" height="10.40" fill="rgb(200, 150, 190)"/>
<rect x="265.25" y="70.00" width="10.65" height="10.40" fill="rgb(160, 90, 160)"/>
<rect x="275.50" y="70.00" width="10.65" height="10.40" fill="rgb(170, 60, 170)"/>
<rect x="285.75" y="70.00" width="10.65" height="10.40" fill="rgb(160, 100, 160)"/>
<rect x="296.00" y="70.00" width="10.65" height="10.40" fill="rgb(140, 90, 140)"/>
<rect x="306.25" y="70.00" width="10.65" height="10.40" fill="rgb(70, 50, 70)"/>
<rect x="316.50" y="70.00" width="10.65" height="10.40" fill="rgb(5, 10, 25)"/>
<rect x="326.75" y="70.00" width="10.65" height="10.40" fill="rgb(5, 10, 25)"/>
<rect x="337.00" y="70.00" width="10.65" height="10.40" fill="rgb(5, 10, 25)"/>
<rect x="162.75" y="80.00" width="10.65" height="10.40" fill="rgb(5, 10, 25)"/>
<rect x="173.00" y="80.00" width="10.65" height="10.40" fill="rgb(5, 10, 25)"/>
<rect x="183.25" y="80.00" width="10.65" height="10.40" fill="rgb(20, 20, 40)"/>
<rect x="193.50" y="80.00" width="10.65" height="10.40" fill="rgb(80, 80, 70)"/>
<rect x="203.75" y="80.00" width="10.65" height="10.40" fill="rgb(100, 100, 100)"/>
<rect x="214.00" y="80.00" width="10.65" height="10.40" fill="rgb(120, 90, 110)"/>
<rect x="224.25" y="80.00" width="10.65" height="10.40" fill="rgb(190, 120, 170)"/>
<rect x="234.50" y="80.00" width="10.65" height="10.40" fill="rgb(190, 120, 170)"/>
<rect x="244.75" y="80.00" width="10.65" height="10.40" fill="rgb(200, 140, 180)"/>
<rect x="255.00" y="80.00" width="10.65" height="10.40" fill="rgb(210, 200, 160)"/>
<rect x="265.25" y="80.00" width="10.65" height="10.40" fill="rgb(170, 130, 150)"/>
<rect x="275.50" y="80.00" width="10.65" height="10.40" fill="rgb(160, 60, 160)"/>
<rect x="285.75" y="80.00" width="10.65" height="10.40" fill="rgb(150, 80, 150)"/>
<rect x="296.00" y="80.00" width="10.65" height="10.40" fill="rgb(130, 80, 130)"/>
<rect x="306.25" y="80.00" width="10.65" height="10.40" fill="rgb(60, 50, 70)"/>
<rect x="316.50" y="80.00" width="10.65" height="10.40" fill="rgb(10, 15, 30)"/>
<rect x="326.75" y="80.00" width="10.65" height="10.40" fill="rgb(5, 10, 25)"/>
<rect x="337.00" y="80.00" width="10.65" height="10.40" fill="rgb(5, 10, 25)"/>
<rect x="162.75" y="90.00" width="10.65" height="10.40" fill="rgb(5, 8, 20)"/>
<rect x="173.00" y="90.00" width="10.65" height="10.40" fill="rgb(5, 8, 20)"/>
<rect x="183.25" y="90.00" width="10.65" height="10.40" fill="rgb(5, 8, 20)"/>
<rect x="193.50" y="90.00" width="10.65" height="10.40" fill="rgb(10, 10, 25)"/>
<rect x="203.75" y="90.00" width="10.65" height="10.40" fill="rgb(80, 110, 60)"/>
<rect x="214.00" y="90.00" width="10.65" height="10.40" fill="rgb(130, 140, 80)"/>
<rect x="224.25" y="90.00" width="10.65" height="10.40" fill="rgb(150, 120, 120)"/>
<rect x="234.50" y="90.00" width="10.65" height="10.40" fill="rgb(160, 110, 140)"/>
<rect x="244.75" y="90.00" width="10.65" height="10.40" fill="rgb(170, 140, 150)"/>
<rect x="255.00" y="90.00" width="10.65" height="10.40" fill="rgb(190, 160, 170)"/>
<rect x="265.25" y="90.00" width="10.65" height="10.40" fill="rgb(190, 80, 170)"/>
<rect x="275.50" y="90.00" width="10.65" height="10.40" fill="rgb(190, 60, 160)"/>
<rect x="285.75" y="90.00" width="10.65" height="10.40" fill="rgb(170, 60, 140)"/>
<rect x="296.00" y="90.00" width="10.65" height="10.40" fill="rgb(160, 60, 130)"/>
<rect x="306.25" y="90.00" width="10.65" height="10.40" fill="rgb(130, 110, 80)"/>
<rect x="316.50" y="90.00" width="10.65" height="10.40" fill="rgb(30, 30, 40)"/>
<rect x="326.75" y="90.00" width="10.65" height="10.40" fill="rgb(5, 8, 20)"/>
<rect x="337.00" y="90.00" width="10.65" height="10.40" fill="rgb(5, 8, 20)"/>
<rect x="162.75" y="100.00" width="10.65" height="10.40" fill="rgb(5, 8, 20)"/>
<rect x="173.00" y="100.00" width="10.65" height="10.40" fill="rgb(5, 8, 20)"/>
<rect x="183.25" y="100.00" width="10.65" height="10.40" fill="rgb(15, 25, 40)"/>
<rect x="193.50" y="100.00" width="10.65" height="10.40" fill="rgb(15, 20, 35)"/>
<rect x="203.75" y="100.00" width="10.65" height="10.40" fill="rgb(20, 25, 30)"/>
<rect x="214.00" y="100.00" width="10.65" height="10.40" fill="rgb(100, 110, 70)"/>
<rect x="224.25" y="100.00" width="10.65" height="10.40" fill="rgb(120, 110, 100)"/>
<rect x="234.50" y="100.00" width="10.65" height="10.40" fill="rgb(80, 80, 120)"/>
<rect x="244.75" y="100.00" width="10.65" height="10.40" fill="rgb(160, 100, 150)"/>
<rect x="255.00" y="100.00" width="10.65" height="10.40" fill="rgb(170, 100, 160)"/>
<rect x="265.25" y="100.00" width="10.65" height="10.40" fill="rgb(170, 90, 160)"/>
<rect x="275.50" y="100.00" width="10.65" height="10.40" fill="rgb(170, 90, 150)"/>
<rect x="285.75" y="100.00" width="10.65" height="10.40" fill="rgb(100, 60, 90)"/>
<rect x="296.00" y="100.00" width="10.65" height="10.40" fill="rgb(60, 60, 60)"/>
<rect x="306.25" y="100.00" width="10.65" height="10.40" fill="rgb(30, 40, 50)"/>
<rect x="316.50" y="100.00" width="10.65" height="10.40" fill="rgb(5, 8, 20)"/>
<rect x="326.75" y="100.00" width="10.65" height="10.40" fill="rgb(15, 20, 40)"/>
<rect x="337.00" y="100.00" width="10.65" height="10.40" fill="rgb(15, 20, 40)"/>
<rect x="162.75" y="110.00" width="10.65" height="10.40" fill="rgb(10, 15, 30)"/>
<rect x="173.00" y="110.00" width="10.65" height="10.40" fill="rgb(10, 15, 30)"/>
<rect x="183.25" y="110.00" width="10.65" height="10.40" fill="rgb(15, 20, 35)"/>
<rect x="193.50" y="110.00" width="10.65" height="10.40" fill="rgb(5, 8, 20)"/>
<rect x="203.75" y="110.00" width="10.65" height="10.40" fill="rgb(5, 8, 20)"/>
<rect x="214.00" y="110.00" width="10.65" height="10.40" fill="rgb(39, 91, 40)"/>
<rect x="224.25" y="110.00" width="10.65" height="10.40" fill="rgb(101, 144, 72)"/>
<rect x="234.50" y="110.00" width="10.65" height="10.40" fill="rgb(109, 91, 104)"/>
<rect x="244.75" y="110.00" width="10.65" height="10.40" fill="rgb(124, 102, 128)"/>
<rect x="255.00" y="110.00" width="10.65" height="10.40" fill="rgb(117, 133, 112)"/>
<rect x="265.25" y="110.00" width="10.65" height="10.40" fill="rgb(109, 123, 96)"/>
<rect x="275.50" y="110.00" width="10.65" height="10.40" fill="rgb(54, 102, 48)"/>
<rect x="285.75" y="110.00" width="10.65" height="10.40" fill="rgb(10, 15, 25)"/>
<rect x="296.00" y="110.00" width="10.65" height="10.40" fill="rgb(20, 25, 40)"/>
<rect x="306.25" y="110.00" width="10.65" height="10.40" fill="rgb(10, 15, 30)"/>
<rect x="316.50" y="110.00" width="10.65" height="10.40" fill="rgb(5, 8, 20)"/>
<rect x="326.75" y="110.00" width="10.65" height="10.40" fill="rgb(10, 20, 35)"/>
<rect x="337.00" y="110.00" width="10.65" height="10.40" fill="rgb(10, 20, 35)"/>
<rect x="162.75" y="120.00" width="10.65" height="10.40" fill="rgb(5, 8, 20)"/>
<rect x="173.00" y="120.00" width="10.65" height="10.40" fill="rgb(5, 8, 20)"/>
<rect x="183.25" y="120.00" width="10.65" height="10.40" fill="rgb(15, 15, 35)"/>
<rect x="193.50" y="120.00" width="10.65" height="10.40" fill="rgb(5, 10, 20)"/>
<rect x="203.75" y="120.00" width="10.65" height="10.40" fill="rgb(5, 8, 20)"/>
<rect x="214.00" y="120.00" width="10.65" height="10.40" fill="rgb(10, 15, 20)"/>
<rect x="224.25" y="120.00" width="10.65" height="10.40" fill="rgb(62, 91, 56)"/>
<rect x="234.50" y="120.00" width="10.65" height="10.40" fill="rgb(132, 91, 120)"/>
<rect x="244.75" y="120.00" width="10.65" height="10.40" fill="rgb(140, 91, 120)"/>
<rect x="255.00" y="120.00" width="10.65" height="10.40" fill="rgb(93, 133, 72)"/>
<rect x="265.25" y="120.00" width="10.65" height="10.40" fill="rgb(62, 91, 56)"/>
<rect x="275.50" y="120.00" width="10.65" height="10.40" fill="rgb(10, 15, 30)"/>
<rect x="285.75" y="120.00" width="10.65" height="10.40" fill="rgb(10, 15, 30)"/>
<rect x="296.00" y="120.00" width="10.65" height="10.40" fill="rgb(5, 8, 20)"/>
<rect x="306.25" y="120.00" width="10.65" height="10.40" fill="rgb(10, 15, 30)"/>
<rect x="316.50" y="120.00" width="10.65" height="10.40" fill="rgb(20, 30, 40)"/>
<rect x="326.75" y="120.00" width="10.65" height="10.40" fill="rgb(15, 25, 40)"/>
<rect x="337.00" y="120.00" width="10.65" height="10.40" fill="rgb(15, 25, 40)"/>
<rect x="162.75" y="130.00" width="10.65" height="10.40" fill="rgb(5, 8, 20)"/>
<rect x="173.00" y="130.00" width="10.65" height="10.40" fill="rgb(5, 8, 20)"/>
<rect x="183.25" y="130.00" width="10.65" height="10.40" fill="rgb(5, 8, 20)"/>
<rect x="193.50" y="130.00" width="10.65" height="10.40" fill="rgb(5, 8, 20)"/>
<rect x="203.75" y="130.00" width="10.65" height="10.40" fill="rgb(5, 8, 20)"/>
<rect x="214.00" y="130.00" width="10.65" height="10.40" fill="rgb(5, 8, 20)"/>
<rect x="224.25" y="130.00" width="10.65" height="10.40" fill="rgb(30, 40, 50)"/>
<rect x="234.50" y="130.00" width="10.65" height="10.40" fill="rgb(78, 91, 88)"/>
<rect x="244.75" y="130.00" width="10.65" height="10.40" fill="rgb(117, 81, 112)"/>
<rect x="255.00" y="130.00" width="10.65" height="10.40" fill="rgb(78, 112, 72)"/>
<rect x="265.25" y="130.00" width="10.65" height="10.40" fill="rgb(60, 60, 60)"/>
<rect x="275.50" y="130.00" width="10.65" height="10.40" fill="rgb(5, 10, 25)"/>
<rect x="285.75" y="130.00" width="10.65" height="10.40" fill="rgb(5, 8, 20)"/>
<rect x="296.00" y="130.00" width="10.65" height="10.40" fill="rgb(20, 40, 30)"/>
<rect x="306.25" y="130.00" width="10.65" height="10.40" fill="rgb(5, 8, 20)"/>
<rect x="316.50" y="130.00" width="10.65" height="10.40" fill="rgb(10, 15, 30)"/>
<rect x="326.75" y="130.00" width="10.65" height="10.40" fill="rgb(5, 8, 20)"/>
<rect x="337.00" y="130.00" width="10.65" height="10.40" fill="rgb(5, 8, 20)"/>
<rect x="162.75" y="140.00" width="10.65" height="10.40" fill="rgb(5, 8, 20)"/>
<rect x="173.00" y="140.00" width="10.65" height="10.40" fill="rgb(5, 8, 20)"/>
<rect x="183.25" y="140.00" width="10.65" height="10.40" fill="rgb(15, 20, 40)"/>
<rect x="193.50" y="140.00" width="10.65" height="10.40" fill="rgb(5, 8, 20)"/>
<rect x="203.75" y="140.00" width="10.65" height="10.40" fill="rgb(5, 8, 20)"/>
<rect x="214.00" y="140.00" width="10.65" height="10.40" fill="rgb(5, 8, 20)"/>
<rect x="224.25" y="140.00" width="10.65" height="10.40" fill="rgb(5, 10, 25)"/>
<rect x="234.50" y="140.00" width="10.65" height="10.40" fill="rgb(40, 40, 70)"/>
<rect x="244.75" y="140.00" width="10.65" height="10.40" fill="rgb(93, 91, 96)"/>
<rect x="255.00" y="140.00" width="10.65" height="10.40" fill="rgb(62, 91, 64)"/>
<rect x="265.25" y="140.00" width="10.65" height="10.40" fill="rgb(40, 40, 50)"/>
<rect x="275.50" y="140.00" width="10.65" height="10.40" fill="rgb(5, 8, 20)"/>
<rect x="285.75" y="140.00" width="10.65" height="10.40" fill="rgb(20, 30, 40)"/>
<rect x="296.00" y="140.00" width="10.65" height="10.40" fill="rgb(5, 8, 20)"/>
<rect x="306.25" y="140.00" width="10.65" height="10.40" fill="rgb(5, 8, 20)"/>
<rect x="316.50" y="140.00" width="10.65" height="10.40" fill="rgb(5, 8, 20)"/>
<rect x="326.75" y="140.00" width="10.65" height="10.40" fill="rgb(5, 8, 20)"/>
<rect x="337.00" y="140.00" width="10.65" height="10.40" fill="rgb(5, 8, 20)"/>
<rect x="162.75" y="150.00" width="10.65" height="10.40" fill="rgb(5, 8, 20)"/>
<rect x="173.00" y="150.00" width="10.65" height="10.40" fill="rgb(5, 8, 20)"/>
<rect x="183.25" y="150.00" width="10.65" height="10.40" fill="rgb(5, 8, 20)"/>
<rect x="193.50" y="150.00" width="10.65" height="10.40" fill="rgb(5, 8, 20)"/>
<rect x="203.75" y="150.00" width="10.65" height="10.40" fill="rgb(5, 8, 20)"/>
<rect x="214.00" y="150.00" width="10.65" height="10.40" fill="rgb(5, 8, 20)"/>
<rect x="224.25" y="150.00" width="10.65" height="10.40" fill="rgb(5, 8, 20)"/>
<rect x="234.50" y="150.00" width="10.65" height="10.40" fill="rgb(10, 10, 25)"/>
<rect x="244.75" y="150.00" width="10.65" height="10.40" fill="rgb(50, 50, 60)"/>
<rect x="255.00" y="150.00" width="10.65" height="10.40" fill="rgb(50, 60, 60)"/>
<rect x="265.25" y="150.00" width="10.65" height="10.40" fill="rgb(20, 25, 30)"/>
<rect x="275.50" y="150.00" width="10.65" height="10.40" fill="rgb(5, 8, 20)"/>
<rect x="285.75" y="150.00" width="10.65" height="10.40" fill="rgb(5, 8, 20)"/>
<rect x="296.00" y="150.00" width="10.65" height="10.40" fill="rgb(5, 8, 20)"/>
<rect x="306.25" y="150.00" width="10.65" height="10.40" fill="rgb(5, 8, 20)"/>
<rect x="316.50" y="150.00" width="10.65" height="10.40" fill="rgb(5, 8, 20)"/>
<rect x="326.75" y="150.00" width="10.65" height="10.40" fill="rgb(5, 8, 20)"/>
<rect x="337.00" y="150.00" width="10.65" height="10.40" fill="rgb(5, 8, 20)"/>
<rect x="162.75" y="160.00" width="10.65" height="10.40" fill="rgb(5, 8, 20)"/>
<rect x="173.00" y="160.00" width="10.65" height="10.40" fill="rgb(5, 8, 20)"/>
<rect x="183.25" y="160.00" width="10.65" height="10.40" fill="rgb(5, 8, 20)"/>
<rect x="193.50" y="160.00" width="10.65" height="10.40" fill="rgb(5, 8, 20)"/>
<rect x="203.75" y="160.00" width="10.65" height="10.40" fill="rgb(5, 8, 20)"/>
<rect x="214.00" y="160.00" width="10.65" height="10.40" fill="rgb(5, 8, 20)"/>
<rect x="224.25" y="160.00" width="10.65" height="10.40" fill="rgb(5, 8, 20)"/>
<rect x="234.50" y="160.00" width="10.65" height="10.40" fill="rgb(10, 10, 25)"/>
<rect x="244.75" y="160.00" width="10.65" height="10.40" fill="rgb(50, 50, 60)"/>
<rect x="255.00" y="160.00" width="10.65" height="10.40" fill="rgb(50, 60, 60)"/>
<rect x="265.25" y="160.00" width="10.65" height="10.40" fill="rgb(20, 25, 30)"/>
<rect x="275.50" y="160.00" width="10.65" height="10.40" fill="rgb(5, 8, 20)"/>
<rect x="285.75" y="160.00" width="10.65" height="10.40" fill="rgb(5, 8, 20)"/>
<rect x="296.00" y="160.00" width="10.65" height="10.40" fill="rgb(5, 8, 20)"/>
<rect x="306.25" y="160.00" width="10.65" height="10.40" fill="rgb(5, 8, 20)"/>
<rect x="316.50" y="160.00" width="10.65" height="10.40" fill="rgb(5, 8, 20)"/>
<rect x="326.75" y="160.00" width="10.65" height="10.40" fill="rgb(5, 8, 20)"/>
<rect x="337.00" y="160.00" width="10.65" height="10.40" fill="rgb(5, 8, 20)"/>
</g></g>
<g clip-path="url(#ic2)"><g filter="url(#if2)">
<rect x="335.75" y="10.00" width="10.65" height="10.40" fill="rgb(160, 174, 51)"/>
<rect x="346.00" y="10.00" width="10.65" height="10.40" fill="rgb(160, 174, 51)"/>
<rect x="356.25" y="10.00" width="10.65" height="10.40" fill="rgb(170, 174, 51)"/>
<rect x="366.50" y="10.00" width="10.65" height="10.40" fill="rgb(150, 162, 59)"/>
<rect x="376.75" y="10.00" width="10.65" height="10.40" fill="rgb(130, 140, 68)"/>
<rect x="387.00" y="10.00" width="10.65" height="10.40" fill="rgb(160, 60, 140)"/>
<rect x="397.25" y="10.00" width="10.65" height="10.40" fill="rgb(170, 60, 150)"/>
<rect x="407.50" y="10.00" width="10.65" height="10.40" fill="rgb(80, 40, 80)"/>
<rect x="417.75" y="10.00" width="10.65" height="10.40" fill="rgb(50, 60, 40)"/>
<rect x="428.00" y="10.00" width="10.65" height="10.40" fill="rgb(60, 70, 40)"/>
<rect x="438.25" y="10.00" width="10.65" height="10.40" fill="rgb(40, 40, 20)"/>
<rect x="448.50" y="10.00" width="10.65" height="10.40" fill="rgb(130, 151, 34)"/>
<rect x="458.75" y="10.00" width="10.65" height="10.40" fill="rgb(160, 185, 42)"/>
<rect x="469.00" y="10.00" width="10.65" height="10.40" fill="rgb(160, 185, 51)"/>
<rect x="479.25" y="10.00" width="10.65" height="10.40" fill="rgb(160, 185, 51)"/>
<rect x="489.50" y="10.00" width="10.65" height="10.40" fill="rgb(160, 185, 51)"/>
<rect x="499.75" y="10.00" width="10.65" height="10.40" fill="rgb(160, 185, 51)"/>
<rect x="510.00" y="10.00" width="10.65" height="10.40" fill="rgb(160, 185, 51)"/>
<rect x="335.75" y="20.00" width="10.65" height="10.40" fill="rgb(160, 174, 51)"/>
<rect x="346.00" y="20.00" width="10.65" height="10.40" fill="rgb(160, 174, 51)"/>
<rect x="356.25" y="20.00" width="10.65" height="10.40" fill="rgb(170, 174, 51)"/>
<rect x="366.50" y="20.00" width="10.65" height="10.40" fill="rgb(150, 162, 59)"/>
<rect x="376.75" y="20.00" width="10.65" height="10.40" fill="rgb(130, 140, 68)"/>
<rect x="387.00" y="20.00" width="10.65" height="10.40" fill="rgb(160, 60, 140)"/>
<rect x="397.25" y="20.00" width="10.65" height="10.40" fill="rgb(170, 60, 150)"/>
<rect x="407.50" y="20.00" width="10.65" height="10.40" fill="rgb(80, 40, 80)"/>
<rect x="417.75" y="20.00" width="10.65" height="10.40" fill="rgb(50, 60, 40)"/>
<rect x="428.00" y="20.00" width="10.65" height="10.40" fill="rgb(60, 70, 40)"/>
<rect x="438.25" y="20.00" width="10.65" height="10.40" fill="rgb(40, 40, 20)"/>
<rect x="448.50" y="20.00" width="10.65" height="10.40" fill="rgb(130, 151, 34)"/>
<rect x="458.75" y="20.00" width="10.65" height="10.40" fill="rgb(160, 185, 42)"/>
<rect x="469.00" y="20.00" width="10.65" height="10.40" fill="rgb(160, 185, 51)"/>
<rect x="479.25" y="20.00" width="10.65" height="10.40" fill="rgb(160, 185, 51)"/>
<rect x="489.50" y="20.00" width="10.65" height="10.40" fill="rgb(160, 185, 51)"/>
<rect x="499.75" y="20.00" width="10.65" height="10.40" fill="rgb(160, 185, 51)"/>
<rect x="510.00" y="20.00" width="10.65" height="10.40" fill="rgb(160, 185, 51)"/>
<rect x="335.75" y="30.00" width="10.65" height="10.40" fill="rgb(170, 196, 51)"/>
<rect x="346.00" y="30.00" width="10.65" height="10.40" fill="rgb(170, 196, 51)"/>
<rect x="356.25" y="30.00" width="10.65" height="10.40" fill="rgb(150, 151, 68)"/>
<rect x="366.50" y="30.00" width="10.65" height="10.40" fill="rgb(150, 162, 59)"/>
<rect x="376.75" y="30.00" width="10.65" height="10.40" fill="rgb(130, 140, 68)"/>
<rect x="387.00" y="30.00" width="10.65" height="10.40" fill="rgb(120, 40, 100)"/>
<rect x="397.25" y="30.00" width="10.65" height="10.40" fill="rgb(100, 60, 100)"/>
<rect x="407.50" y="30.00" width="10.65" height="10.40" fill="rgb(60, 50, 60)"/>
<rect x="417.75" y="30.00" width="10.65" height="10.40" fill="rgb(20, 30, 20)"/>
<rect x="428.00" y="30.00" width="10.65" height="10.40" fill="rgb(80, 80, 50)"/>
<rect x="438.25" y="30.00" width="10.65" height="10.40" fill="rgb(140, 162, 42)"/>
<rect x="448.50" y="30.00" width="10.65" height="10.40" fill="rgb(110, 129, 34)"/>
<rect x="458.75" y="30.00" width="10.65" height="10.40" fill="rgb(160, 185, 42)"/>
<rect x="469.00" y="30.00" width="10.65" height="10.40" fill="rgb(150, 174, 42)"/>
<rect x="479.25" y="30.00" width="10.65" height="10.40" fill="rgb(110, 129, 34)"/>
<rect x="489.50" y="30.00" width="10.65" height="10.40" fill="rgb(160, 174, 59)"/>
<rect x="499.75" y="30.00" width="10.65" height="10.40" fill="rgb(160, 185, 51)"/>
<rect x="510.00" y="30.00" width="10.65" height="10.40" fill="rgb(160, 185, 51)"/>
<rect x="335.75" y="40.00" width="10.65" height="10.40" fill="rgb(160, 185, 51)"/>
<rect x="346.00" y="40.00" width="10.65" height="10.40" fill="rgb(160, 185, 51)"/>
<rect x="356.25" y="40.00" width="10.65" height="10.40" fill="rgb(150, 162, 68)"/>
<rect x="366.50" y="40.00" width="10.65" height="10.40" fill="rgb(150, 162, 59)"/>
<rect x="376.75" y="40.00" width="10.65" height="10.40" fill="rgb(120, 129, 76)"/>
<rect x="387.00" y="40.00" width="10.65" height="10.40" fill="rgb(120, 60, 110)"/>
<rect x="397.25" y="40.00" width="10.65" height="10.40" fill="rgb(60, 60, 50)"/>
<rect x="407.50" y="40.00" width="10.65" height="10.40" fill="rgb(70, 60, 60)"/>
<rect x="417.75" y="40.00" width="10.65" height="10.40" fill="rgb(40, 60, 40)"/>
<rect x="428.00" y="40.00" width="10.65" height="10.40" fill="rgb(160, 185, 42)"/>
<rect x="438.25" y="40.00" width="10.65" height="10.40" fill="rgb(170, 196, 42)"/>
<rect x="448.50" y="40.00" width="10.65" height="10.40" fill="rgb(170, 196, 42)"/>
<rect x="458.75" y="40.00" width="10.65" height="10.40" fill="rgb(165, 185, 51)"/>
<rect x="469.00" y="40.00" width="10.65" height="10.40" fill="rgb(160, 174, 59)"/>
<rect x="479.25" y="40.00" width="10.65" height="10.40" fill="rgb(160, 174, 59)"/>
<rect x="489.50" y="40.00" width="10.65" height="10.40" fill="rgb(150, 162, 68)"/>
<rect x="499.75" y="40.00" width="10.65" height="10.40" fill="rgb(160, 174, 59)"/>
<rect x="510.00" y="40.00" width="10.65" height="10.40" fill="rgb(160, 174, 59)"/>
<rect x="335.75" y="50.00" width="10.65" height="10.40" fill="rgb(150, 174, 59)"/>
<rect x="346.00" y="50.00" width="10.65" height="10.40" fill="rgb(150, 174, 59)"/>
<rect x="356.25" y="50.00" width="10.65" height="10.40" fill="rgb(140, 151, 68)"/>
<rect x="366.50" y="50.00" width="10.65" height="10.40" fill="rgb(140, 151, 68)"/>
<rect x="376.75" y="50.00" width="10.65" height="10.40" fill="rgb(130, 70, 120)"/>
<rect x="387.00" y="50.00" width="10.65" height="10.40" fill="rgb(140, 50, 130)"/>
<rect x="397.25" y="50.00" width="10.65" height="10.40" fill="rgb(60, 60, 50)"/>
<rect x="407.50" y="50.00" width="10.65" height="10.40" fill="rgb(60, 80, 40)"/>
<rect x="417.75" y="50.00" width="10.65" height="10.40" fill="rgb(40, 60, 40)"/>
<rect x="428.00" y="50.00" width="10.65" height="10.40" fill="rgb(165, 185, 51)"/>
<rect x="438.25" y="50.00" width="10.65" height="10.40" fill="rgb(170, 190, 46)"/>
<rect x="448.50" y="50.00" width="10.65" height="10.40" fill="rgb(165, 185, 51)"/>
<rect x="458.75" y="50.00" width="10.65" height="10.40" fill="rgb(165, 185, 51)"/>
<rect x="469.00" y="50.00" width="10.65" height="10.40" fill="rgb(160, 174, 59)"/>
<rect x="479.25" y="50.00" width="10.65" height="10.40" fill="rgb(160, 174, 59)"/>
<rect x="489.50" y="50.00" width="10.65" height="10.40" fill="rgb(130, 140, 76)"/>
<rect x="499.75" y="50.00" width="10.65" height="10.40" fill="rgb(160, 174, 59)"/>
<rect x="510.00" y="50.00" width="10.65" height="10.40" fill="rgb(160, 174, 59)"/>
<rect x="335.75" y="60.00" width="10.65" height="10.40" fill="rgb(150, 174, 59)"/>
<rect x="346.00" y="60.00" width="10.65" height="10.40" fill="rgb(150, 174, 59)"/>
<rect x="356.25" y="60.00" width="10.65" height="10.40" fill="rgb(140, 151, 68)"/>
<rect x="366.50" y="60.00" width="10.65" height="10.40" fill="rgb(130, 140, 76)"/>
<rect x="376.75" y="60.00" width="10.65" height="10.40" fill="rgb(160, 60, 140)"/>
<rect x="387.00" y="60.00" width="10.65" height="10.40" fill="rgb(90, 60, 80)"/>
<rect x="397.25" y="60.00" width="10.65" height="10.40" fill="rgb(50, 60, 40)"/>
<rect x="407.50" y="60.00" width="10.65" height="10.40" fill="rgb(30, 60, 30)"/>
<rect x="417.75" y="60.00" width="10.65" height="10.40" fill="rgb(40, 60, 40)"/>
<rect x="428.00" y="60.00" width="10.65" height="10.40" fill="rgb(160, 174, 59)"/>
<rect x="438.25" y="60.00" width="10.65" height="10.40" fill="rgb(165, 185, 51)"/>
<rect x="448.50" y="60.00" width="10.65" height="10.40" fill="rgb(165, 185, 51)"/>
<rect x="458.75" y="60.00" width="10.65" height="10.40" fill="rgb(160, 174, 59)"/>
<rect x="469.00" y="60.00" width="10.65" height="10.40" fill="rgb(160, 174, 59)"/>
<rect x="479.25" y="60.00" width="10.65" height="10.40" fill="rgb(160, 162, 68)"/>
<rect x="489.50" y="60.00" width="10.65" height="10.40" fill="rgb(160, 162, 68)"/>
<rect x="499.75" y="60.00" width="10.65" height="10.40" fill="rgb(160, 174, 59)"/>
<rect x="510.00" y="60.00" width="10.65" height="10.40" fill="rgb(160, 174, 59)"/>
<rect x="335.75" y="70.00" width="10.65" height="10.40" fill="rgb(140, 151, 68)"/>
<rect x="346.00" y="70.00" width="10.65" height="10.40" fill="rgb(140, 151, 68)"/>
<rect x="356.25" y="70.00" width="10.65" height="10.40" fill="rgb(140, 140, 76)"/>
<rect x="366.50" y="70.00" width="10.65" height="10.40" fill="rgb(150, 70, 130)"/>
<rect x="376.75" y="70.00" width="10.65" height="10.40" fill="rgb(140, 50, 130)"/>
<rect x="387.00" y="70.00" width="10.65" height="10.40" fill="rgb(40, 40, 50)"/>
<rect x="397.25" y="70.00" width="10.65" height="10.40" fill="rgb(20, 20, 20)"/>
<rect x="407.50" y="70.00" width="10.65" height="10.40" fill="rgb(20, 40, 20)"/>
<rect x="417.75" y="70.00" width="10.65" height="10.40" fill="rgb(100, 129, 42)"/>
<rect x="428.00" y="70.00" width="10.65" height="10.40" fill="rgb(160, 174, 59)"/>
<rect x="438.25" y="70.00" width="10.65" height="10.40" fill="rgb(160, 174, 59)"/>
<rect x="448.50" y="70.00" width="10.65" height="10.40" fill="rgb(160, 174, 59)"/>
<rect x="458.75" y="70.00" width="10.65" height="10.40" fill="rgb(160, 162, 68)"/>
<rect x="469.00" y="70.00" width="10.65" height="10.40" fill="rgb(160, 162, 68)"/>
<rect x="479.25" y="70.00" width="10.65" height="10.40" fill="rgb(160, 162, 68)"/>
<rect x="489.50" y="70.00" width="10.65" height="10.40" fill="rgb(160, 162, 68)"/>
<rect x="499.75" y="70.00" width="10.65" height="10.40" fill="rgb(150, 162, 76)"/>
<rect x="510.00" y="70.00" width="10.65" height="10.40" fill="rgb(150, 162, 76)"/>
<rect x="335.75" y="80.00" width="10.65" height="10.40" fill="rgb(130, 129, 76)"/>
<rect x="346.00" y="80.00" width="10.65" height="10.40" fill="rgb(130, 129, 76)"/>
<rect x="356.25" y="80.00" width="10.65" height="10.40" fill="rgb(160, 60, 140)"/>
<rect x="366.50" y="80.00" width="10.65" height="10.40" fill="rgb(160, 50, 140)"/>
<rect x="376.75" y="80.00" width="10.65" height="10.40" fill="rgb(80, 40, 90)"/>
<rect x="387.00" y="80.00" width="10.65" height="10.40" fill="rgb(30, 40, 30)"/>
<rect x="397.25" y="80.00" width="10.65" height="10.40" fill="rgb(10, 15, 10)"/>
<rect x="407.50" y="80.00" width="10.65" height="10.40" fill="rgb(30, 40, 30)"/>
<rect x="417.75" y="80.00" width="10.65" height="10.40" fill="rgb(140, 162, 51)"/>
<rect x="428.00" y="80.00" width="10.65" height="10.40" fill="rgb(160, 174, 59)"/>
<rect x="438.25" y="80.00" width="10.65" height="10.40" fill="rgb(150, 162, 68)"/>
<rect x="448.50" y="80.00" width="10.65" height="10.40" fill="rgb(120, 129, 76)"/>
<rect x="458.75" y="80.00" width="10.65" height="10.40" fill="rgb(160, 162, 68)"/>
<rect x="469.00" y="80.00" width="10.65" height="10.40" fill="rgb(160, 162, 68)"/>
<rect x="479.25" y="80.00" width="10.65" height="10.40" fill="rgb(160, 151, 76)"/>
<rect x="489.50" y="80.00" width="10.65" height="10.40" fill="rgb(160, 151, 76)"/>
<rect x="499.75" y="80.00" width="10.65" height="10.40" fill="rgb(160, 150, 120)"/>
<rect x="510.00" y="80.00" width="10.65" height="10.40" fill="rgb(160, 150, 120)"/>
<rect x="335.75" y="90.00" width="10.65" height="10.40" fill="rgb(170, 50, 160)"/>
<rect x="346.00" y="90.00" width="10.65" height="10.40" fill="rgb(170, 50, 160)"/>
<rect x="356.25" y="90.00" width="10.65" height="10.40" fill="rgb(160, 50, 150)"/>
<rect x="366.50" y="90.00" width="10.65" height="10.40" fill="rgb(150, 60, 140)"/>
<rect x="376.75" y="90.00" width="10.65" height="10.40" fill="rgb(140, 50, 130)"/>
<rect x="387.00" y="90.00" width="10.65" height="10.40" fill="rgb(30, 40, 30)"/>
<rect x="397.25" y="90.00" width="10.65" height="10.40" fill="rgb(20, 40, 20)"/>
<rect x="407.50" y="90.00" width="10.65" height="10.40" fill="rgb(40, 60, 30)"/>
<rect x="417.75" y="90.00" width="10.65" height="10.40" fill="rgb(130, 162, 42)"/>
<rect x="428.00" y="90.00" width="10.65" height="10.40" fill="rgb(150, 174, 51)"/>
<rect x="438.25" y="90.00" width="10.65" height="10.40" fill="rgb(150, 174, 51)"/>
<rect x="448.50" y="90.00" width="10.65" height="10.40" fill="rgb(150, 162, 59)"/>
<rect x="458.75" y="90.00" width="10.65" height="10.40" fill="rgb(160, 162, 68)"/>
<rect x="469.00" y="90.00" width="10.65" height="10.40" fill="rgb(160, 162, 68)"/>
<rect x="479.25" y="90.00" width="10.65" height="10.40" fill="rgb(150, 140, 76)"/>
<rect x="489.50" y="90.00" width="10.65" height="10.40" fill="rgb(110, 90, 110)"/>
<rect x="499.75" y="90.00" width="10.65" height="10.40" fill="rgb(160, 120, 110)"/>
<rect x="510.00" y="90.00" width="10.65" height="10.40" fill="rgb(160, 120, 110)"/>
<rect x="335.75" y="100.00" width="10.65" height="10.40" fill="rgb(170, 50, 160)"/>
<rect x="346.00" y="100.00" width="10.65" height="10.40" fill="rgb(170, 50, 160)"/>
<rect x="356.25" y="100.00" width="10.65" height="10.40" fill="rgb(140, 50, 140)"/>
<rect x="366.50" y="100.00" width="10.65" height="10.40" fill="rgb(150, 50, 140)"/>
<rect x="376.75" y="100.00" width="10.65" height="10.40" fill="rgb(120, 40, 110)"/>
<rect x="387.00" y="100.00" width="10.65" height="10.40" fill="rgb(40, 30, 40)"/>
<rect x="397.25" y="100.00" width="10.65" height="10.40" fill="rgb(20, 30, 25)"/>
<rect x="407.50" y="100.00" width="10.65" height="10.40" fill="rgb(30, 50, 40)"/>
<rect x="417.75" y="100.00" width="10.65" height="10.40" fill="rgb(120, 151, 51)"/>
<rect x="428.00" y="100.00" width="10.65" height="10.40" fill="rgb(140, 162, 51)"/>
<rect x="438.25" y="100.00" width="10.65" height="10.40" fill="rgb(150, 174, 51)"/>
<rect x="448.50" y="100.00" width="10.65" height="10.40" fill="rgb(150, 162, 59)"/>
<rect x="458.75" y="100.00" width="10.65" height="10.40" fill="rgb(160, 151, 68)"/>
<rect x="469.00" y="100.00" width="10.65" height="10.40" fill="rgb(160, 120, 90)"/>
<rect x="479.25" y="100.00" width="10.65" height="10.40" fill="rgb(150, 151, 76)"/>
<rect x="489.50" y="100.00" width="10.65" height="10.40" fill="rgb(140, 140, 85)"/>
<rect x="499.75" y="100.00" width="10.65" height="10.40" fill="rgb(150, 162, 68)"/>
<rect x="510.00" y="100.00" width="10.65" height="10.40" fill="rgb(150, 162, 68)"/>
<rect x="335.75" y="110.00" width="10.65" height="10.40" fill="rgb(130, 40, 120)"/>
<rect x="346.00" y="110.00" width="10.65" height="10.40" fill="rgb(130, 40, 120)"/>
<rect x="356.25" y="110.00" width="10.65" height="10.40" fill="rgb(120, 50, 110)"/>
<rect x="366.50" y="110.00" width="10.65" height="10.40" fill="rgb(130, 40, 120)"/>
<rect x="376.75" y="110.00" width="10.65" height="10.40" fill="rgb(110, 40, 100)"/>
<rect x="387.00" y="110.00" width="10.65" height="10.40" fill="rgb(150, 60, 140)"/>
<rect x="397.25" y="110.00" width="10.65" height="10.40" fill="rgb(60, 40, 60)"/>
<rect x="407.50" y="110.00" width="10.65" height="10.40" fill="rgb(20, 30, 30)"/>
<rect x="417.75" y="110.00" width="10.65" height="10.40" fill="rgb(110, 140, 51)"/>
<rect x="428.00" y="110.00" width="10.65" height="10.40" fill="rgb(150, 174, 51)"/>
<rect x="438.25" y="110.00" width="10.65" height="10.40" fill="rgb(150, 174, 51)"/>
<rect x="448.50" y="110.00" width="10.65" height="10.40" fill="rgb(150, 162, 59)"/>
<rect x="458.75" y="110.00" width="10.65" height="10.40" fill="rgb(160, 162, 68)"/>
<rect x="469.00" y="110.00" width="10.65" height="10.40" fill="rgb(150, 162, 68)"/>
<rect x="479.25" y="110.00" width="10.65" height="10.40" fill="rgb(150, 162, 68)"/>
<rect x="489.50" y="110.00" width="10.65" height="10.40" fill="rgb(150, 162, 68)"/>
<rect x="499.75" y="110.00" width="10.65" height="10.40" fill="rgb(150, 162, 68)"/>
<rect x="510.00" y="110.00" width="10.65" height="10.40" fill="rgb(150, 162, 68)"/>
<rect x="335.75" y="120.00" width="10.65" height="10.40" fill="rgb(150, 50, 140)"/>
<rect x="346.00" y="120.00" width="10.65" height="10.40" fill="rgb(150, 50, 140)"/>
<rect x="356.25" y="120.00" width="10.65" height="10.40" fill="rgb(150, 50, 140)"/>
<rect x="366.50" y="120.00" width="10.65" height="10.40" fill="rgb(100, 40, 100)"/>
<rect x="376.75" y="120.00" width="10.65" height="10.40" fill="rgb(130, 40, 120)"/>
<rect x="387.00" y="120.00" width="10.65" height="10.40" fill="rgb(160, 60, 150)"/>
<rect x="397.25" y="120.00" width="10.65" height="10.40" fill="rgb(90, 40, 80)"/>
<rect x="407.50" y="120.00" width="10.65" height="10.40" fill="rgb(20, 30, 30)"/>
<rect x="417.75" y="120.00" width="10.65" height="10.40" fill="rgb(100, 129, 51)"/>
<rect x="428.00" y="120.00" width="10.65" height="10.40" fill="rgb(150, 174, 51)"/>
<rect x="438.25" y="120.00" width="10.65" height="10.40" fill="rgb(150, 174, 51)"/>
<rect x="448.50" y="120.00" width="10.65" height="10.40" fill="rgb(150, 162, 59)"/>
<rect x="458.75" y="120.00" width="10.65" height="10.40" fill="rgb(150, 162, 68)"/>
<rect x="469.00" y="120.00" width="10.65" height="10.40" fill="rgb(130, 151, 59)"/>
<rect x="479.25" y="120.00" width="10.65" height="10.40" fill="rgb(150, 162, 68)"/>
<rect x="489.50" y="120.00" width="10.65" height="10.40" fill="rgb(140, 162, 68)"/>
<rect x="499.75" y="120.00" width="10.65" height="10.40" fill="rgb(150, 174, 59)"/>
<rect x="510.00" y="120.00" width="10.65" height="10.40" fill="rgb(150, 174, 59)"/>
<rect x="335.75" y="130.00" width="10.65" height="10.40" fill="rgb(120, 40, 120)"/>
<rect x="346.00" y="130.00" width="10.65" height="10.40" fill="rgb(120, 40, 120)"/>
<rect x="356.25" y="130.00" width="10.65" height="10.40" fill="rgb(140, 50, 130)"/>
<rect x="366.50" y="130.00" width="10.65" height="10.40" fill="rgb(120, 40, 110)"/>
<rect x="376.75" y="130.00" width="10.65" height="10.40" fill="rgb(80, 40, 80)"/>
<rect x="387.00" y="130.00" width="10.65" height="10.40" fill="rgb(100, 40, 90)"/>
<rect x="397.25" y="130.00" width="10.65" height="10.40" fill="rgb(80, 40, 80)"/>
<rect x="407.50" y="130.00" width="10.65" height="10.40" fill="rgb(20, 20, 30)"/>
<rect x="417.75" y="130.00" width="10.65" height="10.40" fill="rgb(90, 100, 60)"/>
<rect x="428.00" y="130.00" width="10.65" height="10.40" fill="rgb(150, 174, 51)"/>
<rect x="438.25" y="130.00" width="10.65" height="10.40" fill="rgb(150, 174, 51)"/>
<rect x="448.50" y="130.00" width="10.65" height="10.40" fill="rgb(150, 162, 59)"/>
<rect x="458.75" y="130.00" width="10.65" height="10.40" fill="rgb(150, 162, 68)"/>
<rect x="469.00" y="130.00" width="10.65" height="10.40" fill="rgb(150, 162, 68)"/>
<rect x="479.25" y="130.00" width="10.65" height="10.40" fill="rgb(130, 151, 68)"/>
<rect x="489.50" y="130.00" width="10.65" height="10.40" fill="rgb(150, 162, 68)"/>
<rect x="499.75" y="130.00" width="10.65" height="10.40" fill="rgb(150, 174, 59)"/>
<rect x="510.00" y="130.00" width="10.65" height="10.40" fill="rgb(150, 174, 59)"/>
<rect x="335.75" y="140.00" width="10.65" height="10.40" fill="rgb(140, 60, 130)"/>
<rect x="346.00" y="140.00" width="10.65" height="10.40" fill="rgb(140, 60, 130)"/>
<rect x="356.25" y="140.00" width="10.65" height="10.40" fill="rgb(130, 50, 120)"/>
<rect x="366.50" y="140.00" width="10.65" height="10.40" fill="rgb(110, 40, 110)"/>
<rect x="376.75" y="140.00" width="10.65" height="10.40" fill="rgb(70, 40, 70)"/>
<rect x="387.00" y="140.00" width="10.65" height="10.40" fill="rgb(90, 50, 90)"/>
<rect x="397.25" y="140.00" width="10.65" height="10.40" fill="rgb(110, 60, 100)"/>
<rect x="407.50" y="140.00" width="10.65" height="10.40" fill="rgb(50, 30, 50)"/>
<rect x="417.75" y="140.00" width="10.65" height="10.40" fill="rgb(80, 80, 60)"/>
<rect x="428.00" y="140.00" width="10.65" height="10.40" fill="rgb(150, 174, 46)"/>
<rect x="438.25" y="140.00" width="10.65" height="10.40" fill="rgb(160, 185, 46)"/>
<rect x="448.50" y="140.00" width="10.65" height="10.40" fill="rgb(150, 174, 51)"/>
<rect x="458.75" y="140.00" width="10.65" height="10.40" fill="rgb(150, 162, 59)"/>
<rect x="469.00" y="140.00" width="10.65" height="10.40" fill="rgb(150, 162, 59)"/>
<rect x="479.25" y="140.00" width="10.65" height="10.40" fill="rgb(150, 162, 59)"/>
<rect x="489.50" y="140.00" width="10.65" height="10.40" fill="rgb(150, 162, 59)"/>
<rect x="499.75" y="140.00" width="10.65" height="10.40" fill="rgb(150, 162, 59)"/>
<rect x="510.00" y="140.00" width="10.65" height="10.40" fill="rgb(150, 162, 59)"/>
<rect x="335.75" y="150.00" width="10.65" height="10.40" fill="rgb(130, 50, 130)"/>
<rect x="346.00" y="150.00" width="10.65" height="10.40" fill="rgb(130, 50, 130)"/>
<rect x="356.25" y="150.00" width="10.65" height="10.40" fill="rgb(120, 50, 120)"/>
<rect x="366.50" y="150.00" width="10.65" height="10.40" fill="rgb(100, 40, 100)"/>
<rect x="376.75" y="150.00" width="10.65" height="10.40" fill="rgb(60, 40, 60)"/>
<rect x="387.00" y="150.00" width="10.65" height="10.40" fill="rgb(50, 50, 50)"/>
<rect x="397.25" y="150.00" width="10.65" height="10.40" fill="rgb(30, 40, 40)"/>
<rect x="407.50" y="150.00" width="10.65" height="10.40" fill="rgb(50, 40, 60)"/>
<rect x="417.75" y="150.00" width="10.65" height="10.40" fill="rgb(70, 80, 60)"/>
<rect x="428.00" y="150.00" width="10.65" height="10.40" fill="rgb(130, 162, 51)"/>
<rect x="438.25" y="150.00" width="10.65" height="10.40" fill="rgb(150, 174, 46)"/>
<rect x="448.50" y="150.00" width="10.65" height="10.40" fill="rgb(150, 174, 51)"/>
<rect x="458.75" y="150.00" width="10.65" height="10.40" fill="rgb(150, 162, 59)"/>
<rect x="469.00" y="150.00" width="10.65" height="10.40" fill="rgb(150, 162, 59)"/>
<rect x="479.25" y="150.00" width="10.65" height="10.40" fill="rgb(150, 162, 59)"/>
<rect x="489.50" y="150.00" width="10.65" height="10.40" fill="rgb(150, 162, 59)"/>
<rect x="499.75" y="150.00" width="10.65" height="10.40" fill="rgb(150, 162, 59)"/>
<rect x="510.00" y="150.00" width="10.65" height="10.40" fill="rgb(150, 162, 59)"/>
<rect x="335.75" y="160.00" width="10.65" height="10.40" fill="rgb(130, 50, 130)"/>
<rect x="346.00" y="160.00" width="10.65" height="10.40" fill="rgb(130, 50, 130)"/>
<rect x="356.25" y="160.00" width="10.65" height="10.40" fill="rgb(120, 50, 120)"/>
<rect x="366.50" y="160.00" width="10.65" height="10.40" fill="rgb(100, 40, 100)"/>
<rect x="376.75" y="160.00" width="10.65" height="10.40" fill="rgb(60, 40, 60)"/>
<rect x="387.00" y="160.00" width="10.65" height="10.40" fill="rgb(50, 50, 50)"/>
<rect x="397.25" y="160.00" width="10.65" height="10.40" fill="rgb(30, 40, 40)"/>
<rect x="407.50" y="160.00" width="10.65" height="10.40" fill="rgb(50, 40, 60)"/>
<rect x="417.75" y="160.00" width="10.65" height="10.40" fill="rgb(70, 80, 60)"/>
<rect x="428.00" y="160.00" width="10.65" height="10.40" fill="rgb(130, 162, 51)"/>
<rect x="438.25" y="160.00" width="10.65" height="10.40" fill="rgb(150, 174, 46)"/>
<rect x="448.50" y="160.00" width="10.65" height="10.40" fill="rgb(150, 174, 51)"/>
<rect x="458.75" y="160.00" width="10.65" height="10.40" fill="rgb(150, 162, 59)"/>
<rect x="469.00" y="160.00" width="10.65" height="10.40" fill="rgb(150, 162, 59)"/>
<rect x="479.25" y="160.00" width="10.65" height="10.40" fill="rgb(150, 162, 59)"/>
<rect x="489.50" y="160.00" width="10.65" height="10.40" fill="rgb(150, 162, 59)"/>
<rect x="499.75" y="160.00" width="10.65" height="10.40" fill="rgb(150, 162, 59)"/>
<rect x="510.00" y="160.00" width="10.65" height="10.40" fill="rgb(150, 162, 59)"/>
</g></g>
<g clip-path="url(#ic3)"><g filter="url(#if3)">
<rect x="508.75" y="10.00" width="10.65" height="10.40" fill="rgb(204, 144, 154)"/>
<rect x="519.00" y="10.00" width="10.65" height="10.40" fill="rgb(204, 144, 154)"/>
<rect x="529.25" y="10.00" width="10.65" height="10.40" fill="rgb(134, 124, 94)"/>
<rect x="539.50" y="10.00" width="10.65" height="10.40" fill="rgb(207, 147, 157)"/>
<rect x="549.75" y="10.00" width="10.65" height="10.40" fill="rgb(195, 185, 85)"/>
<rect x="560.00" y="10.00" width="10.65" height="10.40" fill="rgb(163, 188, 68)"/>
<rect x="570.25" y="10.00" width="10.65" height="10.40" fill="rgb(196, 136, 146)"/>
<rect x="580.50" y="10.00" width="10.65" height="10.40" fill="rgb(159, 184, 64)"/>
<rect x="590.75" y="10.00" width="10.65" height="10.40" fill="rgb(188, 178, 78)"/>
<rect x="601.00" y="10.00" width="10.65" height="10.40" fill="rgb(189, 129, 139)"/>
<rect x="611.25" y="10.00" width="10.65" height="10.40" fill="rgb(200, 190, 90)"/>
<rect x="621.50" y="10.00" width="10.65" height="10.40" fill="rgb(197, 187, 87)"/>
<rect x="631.75" y="10.00" width="10.65" height="10.40" fill="rgb(195, 135, 145)"/>
<rect x="642.00" y="10.00" width="10.65" height="10.40" fill="rgb(160, 185, 65)"/>
<rect x="652.25" y="10.00" width="10.65" height="10.40" fill="rgb(191, 181, 81)"/>
<rect x="662.50" y="10.00" width="10.65" height="10.40" fill="rgb(207, 147, 157)"/>
<rect x="672.75" y="10.00" width="10.65" height="10.40" fill="rgb(210, 150, 160)"/>
<rect x="683.00" y="10.00" width="10.65" height="10.40" fill="rgb(210, 150, 160)"/>
<rect x="508.75" y="20.00" width="10.65" height="10.40" fill="rgb(204, 144, 154)"/>
<rect x="519.00" y="20.00" width="10.65" height="10.40" fill="rgb(204, 144, 154)"/>
<rect x="529.25" y="20.00" width="10.65" height="10.40" fill="rgb(134, 124, 94)"/>
<rect x="539.50" y="20.00" width="10.65" height="10.40" fill="rgb(207, 147, 157)"/>
<rect x="549.75" y="20.00" width="10.65" height="10.40" fill="rgb(195, 185, 85)"/>
<rect x="560.00" y="20.00" width="10.65" height="10.40" fill="rgb(163, 188, 68)"/>
<rect x="570.25" y="20.00" width="10.65" height="10.40" fill="rgb(196, 136, 146)"/>
<rect x="580.50" y="20.00" width="10.65" height="10.40" fill="rgb(159, 184, 64)"/>
<rect x="590.75" y="20.00" width="10.65" height="10.40" fill="rgb(188, 178, 78)"/>
<rect x="601.00" y="20.00" width="10.65" height="10.40" fill="rgb(189, 129, 139)"/>
<rect x="611.25" y="20.00" width="10.65" height="10.40" fill="rgb(200, 190, 90)"/>
<rect x="621.50" y="20.00" width="10.65" height="10.40" fill="rgb(197, 187, 87)"/>
<rect x="631.75" y="20.00" width="10.65" height="10.40" fill="rgb(195, 135, 145)"/>
<rect x="642.00" y="20.00" width="10.65" height="10.40" fill="rgb(160, 185, 65)"/>
<rect x="652.25" y="20.00" width="10.65" height="10.40" fill="rgb(191, 181, 81)"/>
<rect x="662.50" y="20.00" width="10.65" height="10.40" fill="rgb(207, 147, 157)"/>
<rect x="672.75" y="20.00" width="10.65" height="10.40" fill="rgb(210, 150, 160)"/>
<rect x="683.00" y="20.00" width="10.65" height="10.40" fill="rgb(210, 150, 160)"/>
<rect x="508.75" y="30.00" width="10.65" height="10.40" fill="rgb(171, 196, 76)"/>
<rect x="519.00" y="30.00" width="10.65" height="10.40" fill="rgb(171, 196, 76)"/>
<rect x="529.25" y="30.00" width="10.65" height="10.40" fill="rgb(199, 139, 149)"/>
<rect x="539.50" y="30.00" width="10.65" height="10.40" fill="rgb(188, 128, 138)"/>
<rect x="549.75" y="30.00" width="10.65" height="10.40" fill="rgb(188, 178, 78)"/>
<rect x="560.00" y="30.00" width="10.65" height="10.40" fill="rgb(188, 178, 78)"/>
<rect x="570.25" y="30.00" width="10.65" height="10.40" fill="rgb(204, 194, 94)"/>
<rect x="580.50" y="30.00" width="10.65" height="10.40" fill="rgb(201, 191, 91)"/>
<rect x="590.75" y="30.00" width="10.65" height="10.40" fill="rgb(175, 200, 80)"/>
<rect x="601.00" y="30.00" width="10.65" height="10.40" fill="rgb(199, 139, 149)"/>
<rect x="611.25" y="30.00" width="10.65" height="10.40" fill="rgb(187, 177, 77)"/>
<rect x="621.50" y="30.00" width="10.65" height="10.40" fill="rgb(204, 194, 94)"/>
<rect x="631.75" y="30.00" width="10.65" height="10.40" fill="rgb(166, 191, 71)"/>
<rect x="642.00" y="30.00" width="10.65" height="10.40" fill="rgb(167, 192, 72)"/>
<rect x="652.25" y="30.00" width="10.65" height="10.40" fill="rgb(192, 182, 82)"/>
<rect x="662.50" y="30.00" width="10.65" height="10.40" fill="rgb(190, 130, 140)"/>
<rect x="672.75" y="30.00" width="10.65" height="10.40" fill="rgb(206, 196, 96)"/>
<rect x="683.00" y="30.00" width="10.65" height="10.40" fill="rgb(206, 196, 96)"/>
<rect x="508.75" y="40.00" width="10.65" height="10.40" fill="rgb(169, 194, 74)"/>
<rect x="519.00" y="40.00" width="10.65" height="10.40" fill="rgb(169, 194, 74)"/>
<rect x="529.25" y="40.00" width="10.65" height="10.40" fill="rgb(175, 200, 80)"/>
<rect x="539.50" y="40.00" width="10.65" height="10.40" fill="rgb(202, 142, 152)"/>
<rect x="549.75" y="40.00" width="10.65" height="10.40" fill="rgb(172, 197, 77)"/>
<rect x="560.00" y="40.00" width="10.65" height="10.40" fill="rgb(192, 132, 142)"/>
<rect x="570.25" y="40.00" width="10.65" height="10.40" fill="rgb(210, 150, 160)"/>
<rect x="580.50" y="40.00" width="10.65" height="10.40" fill="rgb(202, 142, 152)"/>
<rect x="590.75" y="40.00" width="10.65" height="10.40" fill="rgb(190, 130, 140)"/>
<rect x="601.00" y="40.00" width="10.65" height="10.40" fill="rgb(207, 147, 157)"/>
<rect x="611.25" y="40.00" width="10.65" height="10.40" fill="rgb(191, 181, 81)"/>
<rect x="621.50" y="40.00" width="10.65" height="10.40" fill="rgb(139, 129, 99)"/>
<rect x="631.75" y="40.00" width="10.65" height="10.40" fill="rgb(205, 195, 95)"/>
<rect x="642.00" y="40.00" width="10.65" height="10.40" fill="rgb(181, 206, 86)"/>
<rect x="652.25" y="40.00" width="10.65" height="10.40" fill="rgb(197, 187, 87)"/>
<rect x="662.50" y="40.00" width="10.65" height="10.40" fill="rgb(194, 184, 84)"/>
<rect x="672.75" y="40.00" width="10.65" height="10.40" fill="rgb(163, 188, 68)"/>
<rect x="683.00" y="40.00" width="10.65" height="10.40" fill="rgb(163, 188, 68)"/>
<rect x="508.75" y="50.00" width="10.65" height="10.40" fill="rgb(186, 176, 76)"/>
<rect x="519.00" y="50.00" width="10.65" height="10.40" fill="rgb(186, 176, 76)"/>
<rect x="529.25" y="50.00" width="10.65" height="10.40" fill="rgb(207, 147, 157)"/>
<rect x="539.50" y="50.00" width="10.65" height="10.40" fill="rgb(194, 184, 84)"/>
<rect x="549.75" y="50.00" width="10.65" height="10.40" fill="rgb(184, 174, 74)"/>
<rect x="560.00" y="50.00" width="10.65" height="10.40" fill="rgb(194, 134, 144)"/>
<rect x="570.25" y="50.00" width="10.65" height="10.40" fill="rgb(162, 187, 67)"/>
<rect x="580.50" y="50.00" width="10.65" height="10.40" fill="rgb(196, 136, 146)"/>
<rect x="590.75" y="50.00" width="10.65" height="10.40" fill="rgb(206, 196, 96)"/>
<rect x="601.00" y="50.00" width="10.65" height="10.40" fill="rgb(194, 184, 84)"/>
<rect x="611.25" y="50.00" width="10.65" height="10.40" fill="rgb(211, 151, 161)"/>
<rect x="621.50" y="50.00" width="10.65" height="10.40" fill="rgb(175, 200, 80)"/>
<rect x="631.75" y="50.00" width="10.65" height="10.40" fill="rgb(193, 133, 143)"/>
<rect x="642.00" y="50.00" width="10.65" height="10.40" fill="rgb(202, 192, 92)"/>
<rect x="652.25" y="50.00" width="10.65" height="10.40" fill="rgb(197, 187, 87)"/>
<rect x="662.50" y="50.00" width="10.65" height="10.40" fill="rgb(171, 196, 76)"/>
<rect x="672.75" y="50.00" width="10.65" height="10.40" fill="rgb(190, 180, 80)"/>
<rect x="683.00" y="50.00" width="10.65" height="10.40" fill="rgb(190, 180, 80)"/>
<rect x="508.75" y="60.00" width="10.65" height="10.40" fill="rgb(129, 119, 89)"/>
<rect x="519.00" y="60.00" width="10.65" height="10.40" fill="rgb(129, 119, 89)"/>
<rect x="529.25" y="60.00" width="10.65" height="10.40" fill="rgb(183, 173, 73)"/>
<rect x="539.50" y="60.00" width="10.65" height="10.40" fill="rgb(205, 195, 95)"/>
<rect x="549.75" y="60.00" width="10.65" height="10.40" fill="rgb(202, 142, 152)"/>
<rect x="560.00" y="60.00" width="10.65" height="10.40" fill="rgb(203, 193, 93)"/>
<rect x="570.25" y="60.00" width="10.65" height="10.40" fill="rgb(189, 179, 79)"/>
<rect x="580.50" y="60.00" width="10.65" height="10.40" fill="rgb(181, 206, 86)"/>
<rect x="590.75" y="60.00" width="10.65" height="10.40" fill="rgb(186, 176, 76)"/>
<rect x="601.00" y="60.00" width="10.65" height="10.40" fill="rgb(190, 130, 140)"/>
<rect x="611.25" y="60.00" width="10.65" height="10.40" fill="rgb(198, 138, 148)"/>
<rect x="621.50" y="60.00" width="10.65" height="10.40" fill="rgb(208, 148, 158)"/>
<rect x="631.75" y="60.00" width="10.65" height="10.40" fill="rgb(186, 176, 76)"/>
<rect x="642.00" y="60.00" width="10.65" height="10.40" fill="rgb(130, 120, 90)"/>
<rect x="652.25" y="60.00" width="10.65" height="10.40" fill="rgb(128, 118, 88)"/>
<rect x="662.50" y="60.00" width="10.65" height="10.40" fill="rgb(192, 132, 142)"/>
<rect x="672.75" y="60.00" width="10.65" height="10.40" fill="rgb(175, 200, 80)"/>
<rect x="683.00" y="60.00" width="10.65" height="10.40" fill="rgb(175, 200, 80)"/>
<rect x="508.75" y="70.00" width="10.65" height="10.40" fill="rgb(184, 174, 74)"/>
<rect x="519.00" y="70.00" width="10.65" height="10.40" fill="rgb(184, 174, 74)"/>
<rect x="529.25" y="70.00" width="10.65" height="10.40" fill="rgb(203, 193, 93)"/>
<rect x="539.50" y="70.00" width="10.65" height="10.40" fill="rgb(201, 191, 91)"/>
<rect x="549.75" y="70.00" width="10.65" height="10.40" fill="rgb(199, 139, 149)"/>
<rect x="560.00" y="70.00" width="10.65" height="10.40" fill="rgb(206, 146, 156)"/>
<rect x="570.25" y="70.00" width="10.65" height="10.40" fill="rgb(205, 145, 155)"/>
<rect x="580.50" y="70.00" width="10.65" height="10.40" fill="rgb(174, 199, 79)"/>
<rect x="590.75" y="70.00" width="10.65" height="10.40" fill="rgb(159, 184, 64)"/>
<rect x="601.00" y="70.00" width="10.65" height="10.40" fill="rgb(165, 190, 70)"/>
<rect x="611.25" y="70.00" width="10.65" height="10.40" fill="rgb(190, 180, 80)"/>
<rect x="621.50" y="70.00" width="10.65" height="10.40" fill="rgb(136, 126, 96)"/>
<rect x="631.75" y="70.00" width="10.65" height="10.40" fill="rgb(185, 175, 75)"/>
<rect x="642.00" y="70.00" width="10.65" height="10.40" fill="rgb(195, 185, 85)"/>
<rect x="652.25" y="70.00" width="10.65" height="10.40" fill="rgb(206, 196, 96)"/>
<rect x="662.50" y="70.00" width="10.65" height="10.40" fill="rgb(174, 199, 79)"/>
<rect x="672.75" y="70.00" width="10.65" height="10.40" fill="rgb(136, 126, 96)"/>
<rect x="683.00" y="70.00" width="10.65" height="10.40" fill="rgb(136, 126, 96)"/>
<rect x="508.75" y="80.00" width="10.65" height="10.40" fill="rgb(207, 147, 157)"/>
<rect x="519.00" y="80.00" width="10.65" height="10.40" fill="rgb(207, 147, 157)"/>
<rect x="529.25" y="80.00" width="10.65" height="10.40" fill="rgb(191, 181, 81)"/>
<rect x="539.50" y="80.00" width="10.65" height="10.40" fill="rgb(181, 206, 86)"/>
<rect x="549.75" y="80.00" width="10.65" height="10.40" fill="rgb(189, 129, 139)"/>
<rect x="560.00" y="80.00" width="10.65" height="10.40" fill="rgb(207, 147, 157)"/>
<rect x="570.25" y="80.00" width="10.65" height="10.40" fill="rgb(193, 183, 83)"/>
<rect x="580.50" y="80.00" width="10.65" height="10.40" fill="rgb(183, 173, 73)"/>
<rect x="590.75" y="80.00" width="10.65" height="10.40" fill="rgb(193, 183, 83)"/>
<rect x="601.00" y="80.00" width="10.65" height="10.40" fill="rgb(132, 122, 92)"/>
<rect x="611.25" y="80.00" width="10.65" height="10.40" fill="rgb(163, 188, 68)"/>
<rect x="621.50" y="80.00" width="10.65" height="10.40" fill="rgb(198, 138, 148)"/>
<rect x="631.75" y="80.00" width="10.65" height="10.40" fill="rgb(174, 199, 79)"/>
<rect x="642.00" y="80.00" width="10.65" height="10.40" fill="rgb(200, 190, 90)"/>
<rect x="652.25" y="80.00" width="10.65" height="10.40" fill="rgb(128, 118, 88)"/>
<rect x="662.50" y="80.00" width="10.65" height="10.40" fill="rgb(169, 194, 74)"/>
<rect x="672.75" y="80.00" width="10.65" height="10.40" fill="rgb(206, 196, 96)"/>
<rect x="683.00" y="80.00" width="10.65" height="10.40" fill="rgb(206, 196, 96)"/>
<rect x="508.75" y="90.00" width="10.65" height="10.40" fill="rgb(199, 139, 149)"/>
<rect x="519.00" y="90.00" width="10.65" height="10.40" fill="rgb(199, 139, 149)"/>
<rect x="529.25" y="90.00" width="10.65" height="10.40" fill="rgb(140, 130, 100)"/>
<rect x="539.50" y="90.00" width="10.65" height="10.40" fill="rgb(201, 191, 91)"/>
<rect x="549.75" y="90.00" width="10.65" height="10.40" fill="rgb(201, 191, 91)"/>
<rect x="560.00" y="90.00" width="10.65" height="10.40" fill="rgb(203, 193, 93)"/>
<rect x="570.25" y="90.00" width="10.65" height="10.40" fill="rgb(199, 189, 89)"/>
<rect x="580.50" y="90.00" width="10.65" height="10.40" fill="rgb(180, 205, 85)"/>
<rect x="590.75" y="90.00" width="10.65" height="10.40" fill="rgb(172, 197, 77)"/>
<rect x="601.00" y="90.00" width="10.65" height="10.40" fill="rgb(206, 196, 96)"/>
<rect x="611.25" y="90.00" width="10.65" height="10.40" fill="rgb(183, 173, 73)"/>
<rect x="621.50" y="90.00" width="10.65" height="10.40" fill="rgb(165, 190, 70)"/>
<rect x="631.75" y="90.00" width="10.65" height="10.40" fill="rgb(161, 186, 66)"/>
<rect x="642.00" y="90.00" width="10.65" height="10.40" fill="rgb(184, 174, 74)"/>
<rect x="652.25" y="90.00" width="10.65" height="10.40" fill="rgb(180, 205, 85)"/>
<rect x="662.50" y="90.00" width="10.65" height="10.40" fill="rgb(194, 184, 84)"/>
<rect x="672.75" y="90.00" width="10.65" height="10.40" fill="rgb(210, 150, 160)"/>
<rect x="683.00" y="90.00" width="10.65" height="10.40" fill="rgb(210, 150, 160)"/>
<rect x="508.75" y="100.00" width="10.65" height="10.40" fill="rgb(187, 177, 77)"/>
<rect x="519.00" y="100.00" width="10.65" height="10.40" fill="rgb(187, 177, 77)"/>
<rect x="529.25" y="100.00" width="10.65" height="10.40" fill="rgb(173, 198, 78)"/>
<rect x="539.50" y="100.00" width="10.65" height="10.40" fill="rgb(189, 179, 79)"/>
<rect x="549.75" y="100.00" width="10.65" height="10.40" fill="rgb(190, 180, 80)"/>
<rect x="560.00" y="100.00" width="10.65" height="10.40" fill="rgb(178, 203, 83)"/>
<rect x="570.25" y="100.00" width="10.65" height="10.40" fill="rgb(204, 144, 154)"/>
<rect x="580.50" y="100.00" width="10.65" height="10.40" fill="rgb(202, 142, 152)"/>
<rect x="590.75" y="100.00" width="10.65" height="10.40" fill="rgb(167, 192, 72)"/>
<rect x="601.00" y="100.00" width="10.65" height="10.40" fill="rgb(194, 184, 84)"/>
<rect x="611.25" y="100.00" width="10.65" height="10.40" fill="rgb(172, 197, 77)"/>
<rect x="621.50" y="100.00" width="10.65" height="10.40" fill="rgb(162, 187, 67)"/>
<rect x="631.75" y="100.00" width="10.65" height="10.40" fill="rgb(164, 189, 69)"/>
<rect x="642.00" y="100.00" width="10.65" height="10.40" fill="rgb(211, 151, 161)"/>
<rect x="652.25" y="100.00" width="10.65" height="10.40" fill="rgb(207, 147, 157)"/>
<rect x="662.50" y="100.00" width="10.65" height="10.40" fill="rgb(199, 189, 89)"/>
<rect x="672.75" y="100.00" width="10.65" height="10.40" fill="rgb(200, 140, 150)"/>
<rect x="683.00" y="100.00" width="10.65" height="10.40" fill="rgb(200, 140, 150)"/>
<rect x="508.75" y="110.00" width="10.65" height="10.40" fill="rgb(202, 142, 152)"/>
<rect x="519.00" y="110.00" width="10.65" height="10.40" fill="rgb(202, 142, 152)"/>
<rect x="529.25" y="110.00" width="10.65" height="10.40" fill="rgb(188, 178, 78)"/>
<rect x="539.50" y="110.00" width="10.65" height="10.40" fill="rgb(201, 141, 151)"/>
<rect x="549.75" y="110.00" width="10.65" height="10.40" fill="rgb(195, 135, 145)"/>
<rect x="560.00" y="110.00" width="10.65" height="10.40" fill="rgb(144, 134, 104)"/>
<rect x="570.25" y="110.00" width="10.65" height="10.40" fill="rgb(161, 186, 66)"/>
<rect x="580.50" y="110.00" width="10.65" height="10.40" fill="rgb(202, 192, 92)"/>
<rect x="590.75" y="110.00" width="10.65" height="10.40" fill="rgb(124, 114, 84)"/>
<rect x="601.00" y="110.00" width="10.65" height="10.40" fill="rgb(197, 137, 147)"/>
<rect x="611.25" y="110.00" width="10.65" height="10.40" fill="rgb(188, 178, 78)"/>
<rect x="621.50" y="110.00" width="10.65" height="10.40" fill="rgb(203, 193, 93)"/>
<rect x="631.75" y="110.00" width="10.65" height="10.40" fill="rgb(204, 194, 94)"/>
<rect x="642.00" y="110.00" width="10.65" height="10.40" fill="rgb(201, 141, 151)"/>
<rect x="652.25" y="110.00" width="10.65" height="10.40" fill="rgb(209, 149, 159)"/>
<rect x="662.50" y="110.00" width="10.65" height="10.40" fill="rgb(201, 191, 91)"/>
<rect x="672.75" y="110.00" width="10.65" height="10.40" fill="rgb(189, 129, 139)"/>
<rect x="683.00" y="110.00" width="10.65" height="10.40" fill="rgb(189, 129, 139)"/>
<rect x="508.75" y="120.00" width="10.65" height="10.40" fill="rgb(197, 187, 87)"/>
<rect x="519.00" y="120.00" width="10.65" height="10.40" fill="rgb(197, 187, 87)"/>
<rect x="529.25" y="120.00" width="10.65" height="10.40" fill="rgb(194, 184, 84)"/>
<rect x="539.50" y="120.00" width="10.65" height="10.40" fill="rgb(191, 181, 81)"/>
<rect x="549.75" y="120.00" width="10.65" height="10.40" fill="rgb(166, 191, 71)"/>
<rect x="560.00" y="120.00" width="10.65" height="10.40" fill="rgb(173, 198, 78)"/>
<rect x="570.25" y="120.00" width="10.65" height="10.40" fill="rgb(184, 174, 74)"/>
<rect x="580.50" y="120.00" width="10.65" height="10.40" fill="rgb(200, 140, 150)"/>
<rect x="590.75" y="120.00" width="10.65" height="10.40" fill="rgb(187, 177, 77)"/>
<rect x="601.00" y="120.00" width="10.65" height="10.40" fill="rgb(159, 184, 64)"/>
<rect x="611.25" y="120.00" width="10.65" height="10.40" fill="rgb(199, 139, 149)"/>
<rect x="621.50" y="120.00" width="10.65" height="10.40" fill="rgb(198, 188, 88)"/>
<rect x="631.75" y="120.00" width="10.65" height="10.40" fill="rgb(190, 130, 140)"/>
<rect x="642.00" y="120.00" width="10.65" height="10.40" fill="rgb(195, 185, 85)"/>
<rect x="652.25" y="120.00" width="10.65" height="10.40" fill="rgb(174, 199, 79)"/>
<rect x="662.50" y="120.00" width="10.65" height="10.40" fill="rgb(195, 185, 85)"/>
<rect x="672.75" y="120.00" width="10.65" height="10.40" fill="rgb(207, 147, 157)"/>
<rect x="683.00" y="120.00" width="10.65" height="10.40" fill="rgb(207, 147, 157)"/>
<rect x="508.75" y="130.00" width="10.65" height="10.40" fill="rgb(158, 183, 63)"/>
<rect x="519.00" y="130.00" width="10.65" height="10.40" fill="rgb(158, 183, 63)"/>
<rect x="529.25" y="130.00" width="10.65" height="10.40" fill="rgb(170, 195, 75)"/>
<rect x="539.50" y="130.00" width="10.65" height="10.40" fill="rgb(187, 177, 77)"/>
<rect x="549.75" y="130.00" width="10.65" height="10.40" fill="rgb(194, 184, 84)"/>
<rect x="560.00" y="130.00" width="10.65" height="10.40" fill="rgb(208, 148, 158)"/>
<rect x="570.25" y="130.00" width="10.65" height="10.40" fill="rgb(204, 194, 94)"/>
<rect x="580.50" y="130.00" width="10.65" height="10.40" fill="rgb(188, 178, 78)"/>
<rect x="590.75" y="130.00" width="10.65" height="10.40" fill="rgb(204, 194, 94)"/>
<rect x="601.00" y="130.00" width="10.65" height="10.40" fill="rgb(144, 134, 104)"/>
<rect x="611.25" y="130.00" width="10.65" height="10.40" fill="rgb(192, 182, 82)"/>
<rect x="621.50" y="130.00" width="10.65" height="10.40" fill="rgb(205, 195, 95)"/>
<rect x="631.75" y="130.00" width="10.65" height="10.40" fill="rgb(183, 173, 73)"/>
<rect x="642.00" y="130.00" width="10.65" height="10.40" fill="rgb(172, 197, 77)"/>
<rect x="652.25" y="130.00" width="10.65" height="10.40" fill="rgb(201, 191, 91)"/>
<rect x="662.50" y="130.00" width="10.65" height="10.40" fill="rgb(186, 176, 76)"/>
<rect x="672.75" y="130.00" width="10.65" height="10.40" fill="rgb(195, 185, 85)"/>
<rect x="683.00" y="130.00" width="10.65" height="10.40" fill="rgb(195, 185, 85)"/>
<rect x="508.75" y="140.00" width="10.65" height="10.40" fill="rgb(187, 177, 77)"/>
<rect x="519.00" y="140.00" width="10.65" height="10.40" fill="rgb(187, 177, 77)"/>
<rect x="529.25" y="140.00" width="10.65" height="10.40" fill="rgb(196, 186, 86)"/>
<rect x="539.50" y="140.00" width="10.65" height="10.40" fill="rgb(200, 190, 90)"/>
<rect x="549.75" y="140.00" width="10.65" height="10.40" fill="rgb(191, 181, 81)"/>
<rect x="560.00" y="140.00" width="10.65" height="10.40" fill="rgb(197, 137, 147)"/>
<rect x="570.25" y="140.00" width="10.65" height="10.40" fill="rgb(200, 140, 150)"/>
<rect x="580.50" y="140.00" width="10.65" height="10.40" fill="rgb(191, 181, 81)"/>
<rect x="590.75" y="140.00" width="10.65" height="10.40" fill="rgb(188, 128, 138)"/>
<rect x="601.00" y="140.00" width="10.65" height="10.40" fill="rgb(171, 196, 76)"/>
<rect x="611.25" y="140.00" width="10.65" height="10.40" fill="rgb(203, 143, 153)"/>
<rect x="621.50" y="140.00" width="10.65" height="10.40" fill="rgb(160, 185, 65)"/>
<rect x="631.75" y="140.00" width="10.65" height="10.40" fill="rgb(195, 185, 85)"/>
<rect x="642.00" y="140.00" width="10.65" height="10.40" fill="rgb(195, 185, 85)"/>
<rect x="652.25" y="140.00" width="10.65" height="10.40" fill="rgb(193, 133, 143)"/>
<rect x="662.50" y="140.00" width="10.65" height="10.40" fill="rgb(173, 198, 78)"/>
<rect x="672.75" y="140.00" width="10.65" height="10.40" fill="rgb(201, 191, 91)"/>
<rect x="683.00" y="140.00" width="10.65" height="10.40" fill="rgb(201, 191, 91)"/>
<rect x="508.75" y="150.00" width="10.65" height="10.40" fill="rgb(189, 179, 79)"/>
<rect x="519.00" y="150.00" width="10.65" height="10.40" fill="rgb(189, 179, 79)"/>
<rect x="529.25" y="150.00" width="10.65" height="10.40" fill="rgb(167, 192, 72)"/>
<rect x="539.50" y="150.00" width="10.65" height="10.40" fill="rgb(129, 119, 89)"/>
<rect x="549.75" y="150.00" width="10.65" height="10.40" fill="rgb(134, 124, 94)"/>
<rect x="560.00" y="150.00" width="10.65" height="10.40" fill="rgb(207, 147, 157)"/>
<rect x="570.25" y="150.00" width="10.65" height="10.40" fill="rgb(202, 192, 92)"/>
<rect x="580.50" y="150.00" width="10.65" height="10.40" fill="rgb(200, 190, 90)"/>
<rect x="590.75" y="150.00" width="10.65" height="10.40" fill="rgb(192, 182, 82)"/>
<rect x="601.00" y="150.00" width="10.65" height="10.40" fill="rgb(158, 183, 63)"/>
<rect x="611.25" y="150.00" width="10.65" height="10.40" fill="rgb(196, 186, 86)"/>
<rect x="621.50" y="150.00" width="10.65" height="10.40" fill="rgb(206, 196, 96)"/>
<rect x="631.75" y="150.00" width="10.65" height="10.40" fill="rgb(193, 133, 143)"/>
<rect x="642.00" y="150.00" width="10.65" height="10.40" fill="rgb(202, 192, 92)"/>
<rect x="652.25" y="150.00" width="10.65" height="10.40" fill="rgb(124, 114, 84)"/>
<rect x="662.50" y="150.00" width="10.65" height="10.40" fill="rgb(177, 202, 82)"/>
<rect x="672.75" y="150.00" width="10.65" height="10.40" fill="rgb(134, 124, 94)"/>
<rect x="683.00" y="150.00" width="10.65" height="10.40" fill="rgb(134, 124, 94)"/>
<rect x="508.75" y="160.00" width="10.65" height="10.40" fill="rgb(189, 179, 79)"/>
<rect x="519.00" y="160.00" width="10.65" height="10.40" fill="rgb(189, 179, 79)"/>
<rect x="529.25" y="160.00" width="10.65" height="10.40" fill="rgb(167, 192, 72)"/>
<rect x="539.50" y="160.00" width="10.65" height="10.40" fill="rgb(129, 119, 89)"/>
<rect x="549.75" y="160.00" width="10.65" height="10.40" fill="rgb(134, 124, 94)"/>
<rect x="560.00" y="160.00" width="10.65" height="10.40" fill="rgb(207, 147, 157)"/>
<rect x="570.25" y="160.00" width="10.65" height="10.40" fill="rgb(202, 192, 92)"/>
<rect x="580.50" y="160.00" width="10.65" height="10.40" fill="rgb(200, 190, 90)"/>
<rect x="590.75" y="160.00" width="10.65" height="10.40" fill="rgb(192, 182, 82)"/>
<rect x="601.00" y="160.00" width="10.65" height="10.40" fill="rgb(158, 183, 63)"/>
<rect x="611.25" y="160.00" width="10.65" height="10.40" fill="rgb(196, 186, 86)"/>
<rect x="621.50" y="160.00" width="10.65" height="10.40" fill="rgb(206, 196, 96)"/>
<rect x="631.75" y="160.00" width="10.65" height="10.40" fill="rgb(193, 133, 143)"/>
<rect x="642.00" y="160.00" width="10.65" height="10.40" fill="rgb(202, 192, 92)"/>
<rect x="652.25" y="160.00" width="10.65" height="10.40" fill="rgb(124, 114, 84)"/>
<rect x="662.50" y="160.00" width="10.65" height="10.40" fill="rgb(177, 202, 82)"/>
<rect x="672.75" y="160.00" width="10.65" height="10.40" fill="rgb(134, 124, 94)"/>
<rect x="683.00" y="160.00" width="10.65" height="10.40" fill="rgb(134, 124, 94)"/>
</g></g>
<filter id="sb" x="-5%" y="-5%" width="110%" height="110%"><feGaussianBlur stdDeviation="1.2"/></filter>
<g clip-path="url(#ic0)"><path filter="url(#sb)" fill="#000" d="M142,20 L144,35 L146,50 L147,62 L145,72 L141,82 L134,92 L130,102 L126,115 L120,127 L112,138 L106,150 L103,160 L170,160 L170,14 L142,14 Z"/></g>
<g clip-path="url(#ic1)"><path filter="url(#sb)" fill="rgb(6,9,22)" fill-rule="evenodd" d="M167,14 L343,14 L343,166 L167,166 Z M195.7,39.2 L213.7,26 L244.8,22.4 L273.5,24.8 L292.7,29.6 L307.1,41.5 L316.6,55.9 L317.8,79.9 L314.2,96.6 L302.3,106.2 L285.5,113.4 L275.9,122.9 L271.2,134.9 L266.4,149.3 L261.6,156.5 L252,150.5 L242.4,142.1 L230.5,125.3 L218.5,108.6 L204.1,91.8 L192.2,77.5 L185,63.1 L187.4,51.1 Z"/></g>
<g clip-path="url(#ic2)"><path filter="url(#sb)" fill="rgb(12,22,14)" opacity="0.45" d="M415,20 L442,20 L434,30 L429,45 L424,60 L421,80 L421,100 L421,120 L424,140 L428,160 L388,160 L392,140 L395,120 L398,100 L401,85 L405,62 L409,42 L412,30 Z"/></g>
<ellipse cx="303.4" cy="151.9" rx="0.8" ry="0.8" fill="#2AA7C0" opacity="0.8" transform="rotate(36 303.4 151.9)"/>
<ellipse cx="294.3" cy="149.1" rx="1.5" ry="0.9" fill="#36D0C8" opacity="0.8" transform="rotate(43 294.3 149.1)"/>
<ellipse cx="177.8" cy="85.2" rx="1.1" ry="0.8" fill="#2060B0" opacity="0.8" transform="rotate(81 177.8 85.2)"/>
<ellipse cx="327.7" cy="110.9" rx="0.9" ry="0.8" fill="#36D0C8" opacity="0.8" transform="rotate(37 327.7 110.9)"/>
<ellipse cx="320.7" cy="35.8" rx="1.0" ry="1.1" fill="#3FC8D8" opacity="0.8" transform="rotate(45 320.7 35.8)"/>
<ellipse cx="175.2" cy="50.3" rx="1.5" ry="0.7" fill="#36D0C8" opacity="0.8" transform="rotate(125 175.2 50.3)"/>
<ellipse cx="218.8" cy="148.3" rx="1.2" ry="0.9" fill="#3050C0" opacity="0.8" transform="rotate(128 218.8 148.3)"/>
<ellipse cx="173.3" cy="142.0" rx="0.8" ry="1.0" fill="#3050C0" opacity="0.8" transform="rotate(91 173.3 142.0)"/>
<ellipse cx="334.1" cy="142.1" rx="1.3" ry="1.0" fill="#2060B0" opacity="0.8" transform="rotate(93 334.1 142.1)"/>
<ellipse cx="220.4" cy="154.6" rx="1.3" ry="0.7" fill="#2060B0" opacity="0.8" transform="rotate(124 220.4 154.6)"/>
<ellipse cx="206.6" cy="151.7" rx="1.4" ry="0.9" fill="#3050C0" opacity="0.8" transform="rotate(75 206.6 151.7)"/>
<ellipse cx="286.3" cy="155.3" rx="1.3" ry="0.9" fill="#3050C0" opacity="0.8" transform="rotate(2 286.3 155.3)"/>
<ellipse cx="319.6" cy="61.8" rx="1.2" ry="0.7" fill="#36D0C8" opacity="0.8" transform="rotate(171 319.6 61.8)"/>
<ellipse cx="196.9" cy="29.1" rx="1.1" ry="1.0" fill="#3050C0" opacity="0.8" transform="rotate(165 196.9 29.1)"/>
<ellipse cx="173.6" cy="114.9" rx="1.0" ry="0.9" fill="#3050C0" opacity="0.8" transform="rotate(104 173.6 114.9)"/>
<ellipse cx="288.6" cy="28.0" rx="1.5" ry="0.7" fill="#3050C0" opacity="0.8" transform="rotate(176 288.6 28.0)"/>
<ellipse cx="332.9" cy="23.2" rx="1.6" ry="1.1" fill="#36D0C8" opacity="0.8" transform="rotate(132 332.9 23.2)"/>
<ellipse cx="296.0" cy="138.3" rx="1.2" ry="0.7" fill="#2AA7C0" opacity="0.8" transform="rotate(92 296.0 138.3)"/>
<ellipse cx="176.0" cy="130.3" rx="1.0" ry="0.6" fill="#36D0C8" opacity="0.8" transform="rotate(171 176.0 130.3)"/>
<ellipse cx="174.5" cy="26.5" rx="0.9" ry="1.0" fill="#36D0C8" opacity="0.8" transform="rotate(148 174.5 26.5)"/>
<ellipse cx="202.7" cy="153.7" rx="1.3" ry="0.8" fill="#2060B0" opacity="0.8" transform="rotate(159 202.7 153.7)"/>
<ellipse cx="205.2" cy="125.8" rx="1.4" ry="0.9" fill="#2060B0" opacity="0.8" transform="rotate(7 205.2 125.8)"/>
<ellipse cx="325.5" cy="151.9" rx="0.8" ry="0.8" fill="#2AA7C0" opacity="0.8" transform="rotate(166 325.5 151.9)"/>
<ellipse cx="190.7" cy="124.8" rx="0.9" ry="0.9" fill="#2AA7C0" opacity="0.8" transform="rotate(161 190.7 124.8)"/>
<ellipse cx="303.7" cy="140.4" rx="1.6" ry="1.1" fill="#3FC8D8" opacity="0.8" transform="rotate(42 303.7 140.4)"/>
<ellipse cx="179.0" cy="152.4" rx="1.5" ry="0.7" fill="#3FC8D8" opacity="0.8" transform="rotate(46 179.0 152.4)"/>
<ellipse cx="273.2" cy="148.5" rx="0.9" ry="0.6" fill="#36D0C8" opacity="0.8" transform="rotate(119 273.2 148.5)"/>
<ellipse cx="228.8" cy="149.4" rx="1.0" ry="0.9" fill="#3050C0" opacity="0.8" transform="rotate(151 228.8 149.4)"/>
<ellipse cx="185.8" cy="40.8" rx="0.9" ry="1.1" fill="#2AA7C0" opacity="0.8" transform="rotate(0 185.8 40.8)"/>
<ellipse cx="286.0" cy="159.5" rx="1.1" ry="0.7" fill="#3050C0" opacity="0.8" transform="rotate(104 286.0 159.5)"/>
<ellipse cx="199.5" cy="26.8" rx="1.3" ry="0.9" fill="#3FC8D8" opacity="0.8" transform="rotate(9 199.5 26.8)"/>
<ellipse cx="334.8" cy="94.7" rx="1.3" ry="0.6" fill="#2060B0" opacity="0.8" transform="rotate(139 334.8 94.7)"/>
<ellipse cx="182.1" cy="148.2" rx="1.0" ry="0.9" fill="#2060B0" opacity="0.8" transform="rotate(90 182.1 148.2)"/>
<ellipse cx="178.4" cy="89.1" rx="1.1" ry="1.0" fill="#2AA7C0" opacity="0.8" transform="rotate(164 178.4 89.1)"/>
<ellipse cx="310.5" cy="38.3" rx="1.0" ry="0.7" fill="#2060B0" opacity="0.8" transform="rotate(152 310.5 38.3)"/>
<ellipse cx="293.0" cy="153.0" rx="1.2" ry="1.1" fill="#36D0C8" opacity="0.8" transform="rotate(34 293.0 153.0)"/>
<ellipse cx="276.4" cy="130.3" rx="0.8" ry="1.0" fill="#2060B0" opacity="0.8" transform="rotate(169 276.4 130.3)"/>
<ellipse cx="190.5" cy="80.8" rx="1.0" ry="0.8" fill="#3FC8D8" opacity="0.8" transform="rotate(157 190.5 80.8)"/>
<circle cx="266.2" cy="42.0" r="0.8" fill="#50E0D0" opacity="0.75"/>
<circle cx="263.9" cy="128.9" r="1.2" fill="#50E0D0" opacity="0.75"/>
<circle cx="289.0" cy="57.8" r="0.8" fill="#48D8A8" opacity="0.75"/>
<circle cx="248.2" cy="115.5" r="0.9" fill="#50E0D0" opacity="0.75"/>
<circle cx="196.3" cy="78.9" r="1.2" fill="#48D8A8" opacity="0.75"/>
<circle cx="264.3" cy="100.8" r="0.9" fill="#7CF07C" opacity="0.75"/>
<circle cx="226.1" cy="61.5" r="0.9" fill="#5CE65C" opacity="0.75"/>
<circle cx="231.6" cy="107.1" r="1.0" fill="#50E0D0" opacity="0.75"/>
<circle cx="260.4" cy="141.3" r="1.0" fill="#7CF07C" opacity="0.75"/>
<circle cx="257.6" cy="116.2" r="1.1" fill="#A8F060" opacity="0.75"/>
<circle cx="239.0" cy="34.5" r="0.9" fill="#48D8A8" opacity="0.75"/>
<circle cx="263.5" cy="61.1" r="0.9" fill="#5CE65C" opacity="0.75"/>
<circle cx="214.9" cy="26.5" r="1.1" fill="#50E0D0" opacity="0.75"/>
<circle cx="276.8" cy="101.8" r="1.3" fill="#5CE65C" opacity="0.75"/>
<circle cx="223.5" cy="39.1" r="1.1" fill="#A8F060" opacity="0.75"/>
<circle cx="225.8" cy="113.2" r="1.2" fill="#A8F060" opacity="0.75"/>
<circle cx="285.6" cy="48.0" r="1.1" fill="#7CF07C" opacity="0.75"/>
<circle cx="243.3" cy="30.5" r="0.8" fill="#50E0D0" opacity="0.75"/>
<circle cx="199.0" cy="83.7" r="0.9" fill="#48D8A8" opacity="0.75"/>
<circle cx="246.1" cy="120.0" r="1.2" fill="#48D8A8" opacity="0.75"/>
<circle cx="234.3" cy="83.1" r="1.0" fill="#5CE65C" opacity="0.75"/>
<circle cx="255.2" cy="130.7" r="1.0" fill="#5CE65C" opacity="0.75"/>
<circle cx="257.0" cy="127.6" r="0.9" fill="#5CE65C" opacity="0.75"/>
<circle cx="301.5" cy="80.1" r="1.0" fill="#50E0D0" opacity="0.75"/>
<circle cx="290.3" cy="39.7" r="1.3" fill="#50E0D0" opacity="0.75"/>
<circle cx="252.5" cy="114.9" r="1.1" fill="#A8F060" opacity="0.75"/>
<circle cx="265.3" cy="62.6" r="1.1" fill="#50E0D0" opacity="0.75"/>
<circle cx="250.4" cy="104.7" r="1.1" fill="#5CE65C" opacity="0.75"/>
<circle cx="248.7" cy="116.7" r="1.0" fill="#50E0D0" opacity="0.75"/>
<circle cx="267.9" cy="68.7" r="1.0" fill="#50E0D0" opacity="0.75"/>
<circle cx="239.0" cy="130.6" r="1.1" fill="#A8F060" opacity="0.75"/>
<circle cx="265.9" cy="146.7" r="0.9" fill="#7CF07C" opacity="0.75"/>
<circle cx="240.2" cy="104.1" r="1.2" fill="#5CE65C" opacity="0.75"/>
<circle cx="236.7" cy="47.3" r="1.2" fill="#50E0D0" opacity="0.75"/>
<circle cx="231.8" cy="80.4" r="1.2" fill="#7CF07C" opacity="0.75"/>
<circle cx="189.9" cy="67.8" r="1.2" fill="#5CE65C" opacity="0.75"/>
<circle cx="252.1" cy="89.7" r="1.2" fill="#5CE65C" opacity="0.75"/>
<circle cx="266.2" cy="123.4" r="1.1" fill="#A8F060" opacity="0.75"/>
<circle cx="286.6" cy="110.7" r="0.9" fill="#48D8A8" opacity="0.75"/>
<circle cx="214.3" cy="26.0" r="0.8" fill="#A8F060" opacity="0.75"/>
<circle cx="269.5" cy="115.5" r="1.2" fill="#50E0D0" opacity="0.75"/>
<circle cx="199.2" cy="60.6" r="0.9" fill="#A8F060" opacity="0.75"/>
<circle cx="268.6" cy="125.5" r="1.1" fill="#7CF07C" opacity="0.75"/>
<circle cx="242.2" cy="124.6" r="1.0" fill="#7CF07C" opacity="0.75"/>
<circle cx="277.2" cy="59.6" r="1.1" fill="#48D8A8" opacity="0.75"/>
<circle cx="282.2" cy="92.3" r="0.8" fill="#48D8A8" opacity="0.75"/>
<circle cx="204.8" cy="32.6" r="1.2" fill="#48D8A8" opacity="0.75"/>
<circle cx="211.0" cy="28.1" r="1.3" fill="#48D8A8" opacity="0.75"/>
<circle cx="271.2" cy="132.6" r="1.0" fill="#50E0D0" opacity="0.75"/>
<circle cx="194.8" cy="63.9" r="0.8" fill="#7CF07C" opacity="0.75"/>
<circle cx="248.5" cy="147.1" r="1.0" fill="#A8F060" opacity="0.75"/>
<circle cx="203.5" cy="48.6" r="0.9" fill="#48D8A8" opacity="0.75"/>
<circle cx="292.1" cy="63.8" r="0.9" fill="#48D8A8" opacity="0.75"/>
<circle cx="263.3" cy="51.4" r="1.0" fill="#48D8A8" opacity="0.75"/>
<circle cx="257.1" cy="139.5" r="1.3" fill="#A8F060" opacity="0.75"/>
<circle cx="247.6" cy="50.9" r="1.2" fill="#7CF07C" opacity="0.75"/>
<circle cx="272.1" cy="53.3" r="1.3" fill="#A8F060" opacity="0.75"/>
<circle cx="266.7" cy="92.2" r="1.2" fill="#50E0D0" opacity="0.75"/>
<circle cx="262.1" cy="140.0" r="1.0" fill="#7CF07C" opacity="0.75"/>
<circle cx="223.6" cy="63.5" r="1.3" fill="#48D8A8" opacity="0.75"/>
<circle cx="273.4" cy="29.4" r="0.9" fill="#7CF07C" opacity="0.75"/>
<circle cx="273.3" cy="55.9" r="1.0" fill="#5CE65C" opacity="0.75"/>
<circle cx="297.2" cy="103.0" r="0.8" fill="#7CF07C" opacity="0.75"/>
<circle cx="254.2" cy="56.5" r="1.1" fill="#48D8A8" opacity="0.75"/>
<circle cx="267.8" cy="47.7" r="1.0" fill="#7CF07C" opacity="0.75"/>
<circle cx="238.4" cy="66.7" r="0.9" fill="#48D8A8" opacity="0.75"/>
<circle cx="305.6" cy="66.9" r="0.9" fill="#5CE65C" opacity="0.75"/>
<circle cx="263.7" cy="125.3" r="1.2" fill="#50E0D0" opacity="0.75"/>
<circle cx="316.2" cy="86.6" r="1.1" fill="#7CF07C" opacity="0.75"/>
<circle cx="239.0" cy="37.2" r="1.2" fill="#50E0D0" opacity="0.75"/>
<circle cx="214.2" cy="61.9" r="1.0" fill="#5CE65C" opacity="0.75"/>
<circle cx="243.0" cy="94.3" r="0.9" fill="#50E0D0" opacity="0.75"/>
<circle cx="289.0" cy="78.1" r="0.9" fill="#48D8A8" opacity="0.75"/>
<circle cx="292.5" cy="93.4" r="0.9" fill="#50E0D0" opacity="0.75"/>
<circle cx="244.6" cy="125.1" r="0.8" fill="#A8F060" opacity="0.75"/>
<circle cx="264.5" cy="56.6" r="1.1" fill="#5CE65C" opacity="0.75"/>
<circle cx="302.2" cy="45.2" r="1.1" fill="#5CE65C" opacity="0.75"/>
<circle cx="265.7" cy="61.4" r="1.0" fill="#7CF07C" opacity="0.75"/>
<circle cx="192.0" cy="51.8" r="0.9" fill="#50E0D0" opacity="0.75"/>
<circle cx="209.9" cy="73.0" r="1.0" fill="#A8F060" opacity="0.75"/>
<circle cx="202.9" cy="48.5" r="1.2" fill="#A8F060" opacity="0.75"/>
<circle cx="259.4" cy="110.9" r="1.0" fill="#5CE65C" opacity="0.75"/>
<circle cx="239.4" cy="96.2" r="0.9" fill="#50E0D0" opacity="0.75"/>
<circle cx="281.6" cy="113.3" r="1.2" fill="#7CF07C" opacity="0.75"/>
<circle cx="254.9" cy="82.9" r="1.2" fill="#50E0D0" opacity="0.75"/>
<circle cx="211.6" cy="60.9" r="0.9" fill="#7CF07C" opacity="0.75"/>
<circle cx="258.1" cy="69.5" r="0.9" fill="#48D8A8" opacity="0.75"/>
<circle cx="202.2" cy="76.3" r="1.0" fill="#7CF07C" opacity="0.75"/>
<circle cx="210.3" cy="30.6" r="1.0" fill="#50E0D0" opacity="0.75"/>
<circle cx="288.1" cy="87.3" r="1.2" fill="#A8F060" opacity="0.75"/>
<circle cx="212.3" cy="45.9" r="1.1" fill="#50E0D0" opacity="0.75"/>
<circle cx="255.4" cy="132.2" r="1.2" fill="#5CE65C" opacity="0.75"/>
<circle cx="299.8" cy="44.0" r="1.2" fill="#A8F060" opacity="0.75"/>
<circle cx="292.0" cy="40.6" r="1.1" fill="#5CE65C" opacity="0.75"/>
<circle cx="236.0" cy="65.1" r="1.0" fill="#7CF07C" opacity="0.75"/>
<circle cx="216.3" cy="27.2" r="1.1" fill="#48D8A8" opacity="0.75"/>
<circle cx="258.4" cy="98.0" r="1.1" fill="#50E0D0" opacity="0.75"/>
<circle cx="203.6" cy="36.6" r="0.8" fill="#48D8A8" opacity="0.75"/>
<circle cx="247.5" cy="137.6" r="0.8" fill="#50E0D0" opacity="0.75"/>
<circle cx="256.5" cy="115.2" r="0.9" fill="#5CE65C" opacity="0.75"/>
<circle cx="232.2" cy="45.5" r="1.1" fill="#A8F060" opacity="0.75"/>
<circle cx="312.7" cy="65.1" r="1.1" fill="#48D8A8" opacity="0.75"/>
<circle cx="290.6" cy="39.9" r="1.1" fill="#5CE65C" opacity="0.75"/>
<circle cx="296.7" cy="36.4" r="0.8" fill="#A8F060" opacity="0.75"/>
<circle cx="272.2" cy="49.2" r="0.9" fill="#7CF07C" opacity="0.75"/>
<circle cx="219.1" cy="38.7" r="1.0" fill="#5CE65C" opacity="0.75"/>
<circle cx="262.7" cy="96.4" r="0.8" fill="#7CF07C" opacity="0.75"/>
<circle cx="236.2" cy="111.8" r="0.9" fill="#50E0D0" opacity="0.75"/>
<circle cx="283.9" cy="31.7" r="1.2" fill="#50E0D0" opacity="0.75"/>
<circle cx="262.4" cy="43.8" r="1.2" fill="#7CF07C" opacity="0.75"/>
<circle cx="191.0" cy="56.5" r="1.0" fill="#A8F060" opacity="0.75"/>
<circle cx="250.1" cy="146.5" r="0.9" fill="#48D8A8" opacity="0.75"/>
<circle cx="264.0" cy="50.8" r="1.0" fill="#A8F060" opacity="0.75"/>
<circle cx="270.8" cy="66.7" r="1.2" fill="#48D8A8" opacity="0.75"/>
<circle cx="193.9" cy="72.1" r="1.3" fill="#A8F060" opacity="0.75"/>
<circle cx="232.3" cy="103.1" r="1.0" fill="#50E0D0" opacity="0.75"/>
<circle cx="270.6" cy="72.3" r="1.1" fill="#50E0D0" opacity="0.75"/>
<circle cx="285.4" cy="101.2" r="1.0" fill="#A8F060" opacity="0.75"/>
<circle cx="256.7" cy="35.9" r="1.1" fill="#48D8A8" opacity="0.75"/>
<circle cx="193.6" cy="65.4" r="0.9" fill="#5CE65C" opacity="0.75"/>
<circle cx="244.7" cy="127.9" r="1.0" fill="#A8F060" opacity="0.75"/>
<circle cx="232.9" cy="120.3" r="0.8" fill="#50E0D0" opacity="0.75"/>
<circle cx="234.1" cy="36.5" r="0.9" fill="#50E0D0" opacity="0.75"/>
<circle cx="251.3" cy="142.3" r="1.2" fill="#50E0D0" opacity="0.75"/>
<circle cx="288.5" cy="56.4" r="1.1" fill="#48D8A8" opacity="0.75"/>
<circle cx="284.0" cy="62.3" r="1.3" fill="#50E0D0" opacity="0.75"/>
<circle cx="207.3" cy="71.4" r="0.8" fill="#7CF07C" opacity="0.75"/>
<circle cx="273.3" cy="29.5" r="0.9" fill="#50E0D0" opacity="0.75"/>
<circle cx="305.9" cy="55.8" r="1.3" fill="#48D8A8" opacity="0.75"/>
<circle cx="204.6" cy="41.0" r="0.9" fill="#A8F060" opacity="0.75"/>
<circle cx="283.5" cy="48.6" r="1.1" fill="#7CF07C" opacity="0.75"/>
<circle cx="214.2" cy="50.5" r="1.0" fill="#7CF07C" opacity="0.75"/>
<circle cx="191.4" cy="51.2" r="1.3" fill="#48D8A8" opacity="0.75"/>
<circle cx="245.7" cy="115.0" r="1.0" fill="#50E0D0" opacity="0.75"/>
<circle cx="249.9" cy="111.4" r="1.0" fill="#7CF07C" opacity="0.75"/>
<circle cx="258.7" cy="116.3" r="0.9" fill="#48D8A8" opacity="0.75"/>
<circle cx="276.0" cy="112.8" r="1.1" fill="#A8F060" opacity="0.75"/>
<circle cx="268.5" cy="84.7" r="1.1" fill="#A8F060" opacity="0.75"/>
<circle cx="187.0" cy="59.2" r="1.2" fill="#50E0D0" opacity="0.75"/>
<circle cx="250.4" cy="67.9" r="1.1" fill="#7CF07C" opacity="0.75"/>
<circle cx="202.4" cy="56.4" r="1.0" fill="#A8F060" opacity="0.75"/>
<circle cx="253.2" cy="88.3" r="0.8" fill="#50E0D0" opacity="0.75"/>
<circle cx="299.9" cy="94.4" r="1.2" fill="#7CF07C" opacity="0.75"/>
<circle cx="262.1" cy="78.8" r="0.9" fill="#5CE65C" opacity="0.75"/>
<circle cx="270.7" cy="118.8" r="1.3" fill="#A8F060" opacity="0.75"/>
<circle cx="214.3" cy="99.8" r="0.8" fill="#A8F060" opacity="0.75"/>
<circle cx="234.7" cy="85.6" r="1.2" fill="#7CF07C" opacity="0.75"/>
<rect x="132.00" y="148" width="29" height="1.6" fill="#E6E6E6"/>
<text x="146.70" y="156.7" font-size="8.2" text-anchor="middle" fill="#E6E6E6">100 µm</text>
<rect x="305.00" y="148" width="29" height="1.6" fill="#E6E6E6"/>
<text x="319.70" y="156.7" font-size="8.2" text-anchor="middle" fill="#E6E6E6">100 µm</text>
<rect x="478.00" y="148" width="29" height="1.6" fill="#000"/>
<text x="492.70" y="156.7" font-size="8.2" text-anchor="middle" fill="#000">100 µm</text>
<rect x="651.00" y="148" width="29" height="1.6" fill="#000"/>
<text x="665.70" y="156.7" font-size="8.2" text-anchor="middle" fill="#000">100 µm</text>
<text x="2.00" y="13.20" font-size="19" text-anchor="start" fill="#000" >a)</text>
<text x="82.00" y="14.90" font-size="16.5" text-anchor="middle" fill="#000" letter-spacing="1.0">rB-LP</text>
<text x="255.00" y="14.90" font-size="16.5" text-anchor="middle" fill="#000" letter-spacing="1.0">pcMZL</text>
<text x="428.00" y="14.90" font-size="16.5" text-anchor="middle" fill="#000" letter-spacing="1.0">pcFCL</text>
<text x="601.00" y="14.90" font-size="16.5" text-anchor="middle" fill="#000" letter-spacing="1.0">pcDLCBL-LT</text>
<rect x="75.80" y="165.50" width="13.00" height="13.00" fill="#0000FF" />
<text x="91.10" y="176.90" font-size="13.2" text-anchor="start" fill="#000" >DAPI</text>
<rect x="145.00" y="165.50" width="13.00" height="13.00" fill="#E60000" />
<text x="160.30" y="176.90" font-size="13.2" text-anchor="start" fill="#000" >CD27</text>
<rect x="217.70" y="165.50" width="13.00" height="13.00" fill="#FF00FF" />
<text x="233.00" y="176.90" font-size="13.2" text-anchor="start" fill="#000" >CD5</text>
<rect x="282.90" y="165.50" width="13.00" height="13.00" fill="#FF8000" />
<text x="298.20" y="176.90" font-size="13.2" text-anchor="start" fill="#000" >CD138 (SDC1)</text>
<rect x="410.00" y="165.50" width="13.00" height="13.00" fill="#00FFFF" />
<text x="425.30" y="176.90" font-size="13.2" text-anchor="start" fill="#000" >CD38</text>
<rect x="483.00" y="165.50" width="13.00" height="13.00" fill="#FFFF00" />
<text x="498.30" y="176.90" font-size="13.2" text-anchor="start" fill="#000" >CD19</text>
<rect x="555.90" y="165.50" width="13.00" height="13.00" fill="#00E600" />
<text x="571.20" y="176.90" font-size="13.2" text-anchor="start" fill="#000" >CD20</text>
<text x="0.60" y="189.10" font-size="19" text-anchor="start" fill="#000" >b)</text>
<rect x="31.80" y="187.00" width="60.19" height="12.00" fill="#CCCCCC" />
<text x="61.89" y="195.80" font-size="7.9" text-anchor="middle" fill="#1A1A1A" >rB-LP</text>
<rect x="33.95" y="258.50" width="12.90" height="58.10" fill="#FFD700" />
<rect x="33.95" y="247.10" width="12.90" height="11.40" fill="#228B22" />
<rect x="33.95" y="228.10" width="12.90" height="19.00" fill="#1C86EE" />
<rect x="33.95" y="204.60" width="12.90" height="23.50" fill="#EE7600" />
<line x1="40.40" y1="322.50" x2="40.40" y2="325.20" stroke="#333333" stroke-width="0.9" />
<text transform="translate(39.70,326.70) rotate(-45)" font-size="8.3" text-anchor="end" fill="#333" dy="5.6">IHC 19</text>
<rect x="48.28" y="257.70" width="12.90" height="58.90" fill="#FFD700" />
<rect x="48.28" y="252.10" width="12.90" height="5.60" fill="#228B22" />
<rect x="48.28" y="238.70" width="12.90" height="13.40" fill="#1C86EE" />
<rect x="48.28" y="204.60" width="12.90" height="34.10" fill="#EE7600" />
<line x1="54.73" y1="322.50" x2="54.73" y2="325.20" stroke="#333333" stroke-width="0.9" />
<text transform="translate(54.03,326.70) rotate(-45)" font-size="8.3" text-anchor="end" fill="#333" dy="5.6">IHC 18</text>
<rect x="62.61" y="255.50" width="12.90" height="61.10" fill="#FFD700" />
<rect x="62.61" y="240.70" width="12.90" height="14.80" fill="#228B22" />
<rect x="62.61" y="213.30" width="12.90" height="27.40" fill="#1C86EE" />
<rect x="62.61" y="204.60" width="12.90" height="8.70" fill="#EE7600" />
<line x1="69.06" y1="322.50" x2="69.06" y2="325.20" stroke="#333333" stroke-width="0.9" />
<text transform="translate(68.36,326.70) rotate(-45)" font-size="8.3" text-anchor="end" fill="#333" dy="5.6">IHC 8</text>
<rect x="76.94" y="240.50" width="12.90" height="76.10" fill="#FFD700" />
<rect x="76.94" y="238.90" width="12.90" height="1.60" fill="#228B22" />
<rect x="76.94" y="226.90" width="12.90" height="12.00" fill="#1C86EE" />
<rect x="76.94" y="204.60" width="12.90" height="22.30" fill="#EE7600" />
<line x1="83.39" y1="322.50" x2="83.39" y2="325.20" stroke="#333333" stroke-width="0.9" />
<text transform="translate(82.69,326.70) rotate(-45)" font-size="8.3" text-anchor="end" fill="#333" dy="5.6">IHC 13</text>
<line x1="31.80" y1="322.50" x2="91.99" y2="322.50" stroke="#333333" stroke-width="1.0" />
<rect x="96.10" y="187.00" width="232.15" height="12.00" fill="#CCCCCC" />
<text x="212.17" y="195.80" font-size="7.9" text-anchor="middle" fill="#1A1A1A" >pcMZL</text>
<rect x="98.25" y="287.10" width="12.90" height="29.50" fill="#FFD700" />
<rect x="98.25" y="271.70" width="12.90" height="15.40" fill="#228B22" />
<rect x="98.25" y="258.10" width="12.90" height="13.60" fill="#1C86EE" />
<rect x="98.25" y="204.60" width="12.90" height="53.50" fill="#EE7600" />
<line x1="104.70" y1="322.50" x2="104.70" y2="325.20" stroke="#333333" stroke-width="0.9" />
<text transform="translate(104.00,326.70) rotate(-45)" font-size="8.3" text-anchor="end" fill="#333" dy="5.6">IHC 17</text>
<rect x="112.58" y="281.70" width="12.90" height="34.90" fill="#FFD700" />
<rect x="112.58" y="274.10" width="12.90" height="7.60" fill="#228B22" />
<rect x="112.58" y="259.10" width="12.90" height="15.00" fill="#1C86EE" />
<rect x="112.58" y="204.60" width="12.90" height="54.50" fill="#EE7600" />
<line x1="119.03" y1="322.50" x2="119.03" y2="325.20" stroke="#333333" stroke-width="0.9" />
<text transform="translate(118.33,326.70) rotate(-45)" font-size="8.3" text-anchor="end" fill="#333" dy="5.6">IHC 10</text>
<rect x="126.91" y="277.70" width="12.90" height="38.90" fill="#FFD700" />
<rect x="126.91" y="268.10" width="12.90" height="9.60" fill="#228B22" />
<rect x="126.91" y="245.50" width="12.90" height="22.60" fill="#1C86EE" />
<rect x="126.91" y="204.60" width="12.90" height="40.90" fill="#EE7600" />
<line x1="133.36" y1="322.50" x2="133.36" y2="325.20" stroke="#333333" stroke-width="0.9" />
<text transform="translate(132.66,326.70) rotate(-45)" font-size="8.3" text-anchor="end" fill="#333" dy="5.6">IHC 14</text>
<rect x="141.24" y="276.10" width="12.90" height="40.50" fill="#FFD700" />
<rect x="141.24" y="258.10" width="12.90" height="18.00" fill="#228B22" />
<rect x="141.24" y="223.70" width="12.90" height="34.40" fill="#1C86EE" />
<rect x="141.24" y="204.60" width="12.90" height="19.10" fill="#EE7600" />
<line x1="147.69" y1="322.50" x2="147.69" y2="325.20" stroke="#333333" stroke-width="0.9" />
<text transform="translate(146.99,326.70) rotate(-45)" font-size="8.3" text-anchor="end" fill="#333" dy="5.6">IHC 20</text>
<rect x="155.57" y="273.10" width="12.90" height="43.50" fill="#FFD700" />
<rect x="155.57" y="268.50" width="12.90" height="4.60" fill="#228B22" />
<rect x="155.57" y="247.70" width="12.90" height="20.80" fill="#1C86EE" />
<rect x="155.57" y="204.60" width="12.90" height="43.10" fill="#EE7600" />
<line x1="162.02" y1="322.50" x2="162.02" y2="325.20" stroke="#333333" stroke-width="0.9" />
<text transform="translate(161.32,326.70) rotate(-45)" font-size="8.3" text-anchor="end" fill="#333" dy="5.6">IHC 11</text>
<rect x="169.90" y="270.50" width="12.90" height="46.10" fill="#FFD700" />
<rect x="169.90" y="269.10" width="12.90" height="1.40" fill="#228B22" />
<rect x="169.90" y="263.70" width="12.90" height="5.40" fill="#1C86EE" />
<rect x="169.90" y="204.60" width="12.90" height="59.10" fill="#EE7600" />
<line x1="176.35" y1="322.50" x2="176.35" y2="325.20" stroke="#333333" stroke-width="0.9" />
<text transform="translate(175.65,326.70) rotate(-45)" font-size="8.3" text-anchor="end" fill="#333" dy="5.6">IHC 21</text>
<rect x="184.23" y="270.10" width="12.90" height="46.50" fill="#FFD700" />
<rect x="184.23" y="263.70" width="12.90" height="6.40" fill="#228B22" />
<rect x="184.23" y="234.70" width="12.90" height="29.00" fill="#1C86EE" />
<rect x="184.23" y="204.60" width="12.90" height="30.10" fill="#EE7600" />
<line x1="190.68" y1="322.50" x2="190.68" y2="325.20" stroke="#333333" stroke-width="0.9" />
<text transform="translate(189.98,326.70) rotate(-45)" font-size="8.3" text-anchor="end" fill="#333" dy="5.6">IHC 5</text>
<rect x="198.56" y="261.70" width="12.90" height="54.90" fill="#FFD700" />
<rect x="198.56" y="256.10" width="12.90" height="5.60" fill="#228B22" />
<rect x="198.56" y="213.70" width="12.90" height="42.40" fill="#1C86EE" />
<rect x="198.56" y="204.60" width="12.90" height="9.10" fill="#EE7600" />
<line x1="205.01" y1="322.50" x2="205.01" y2="325.20" stroke="#333333" stroke-width="0.9" />
<text transform="translate(204.31,326.70) rotate(-45)" font-size="8.3" text-anchor="end" fill="#333" dy="5.6">IHC 31</text>
<rect x="212.89" y="260.50" width="12.90" height="56.10" fill="#FFD700" />
<rect x="212.89" y="254.50" width="12.90" height="6.00" fill="#228B22" />
<rect x="212.89" y="207.10" width="12.90" height="47.40" fill="#1C86EE" />
<rect x="212.89" y="204.60" width="12.90" height="2.50" fill="#EE7600" />
<line x1="219.34" y1="322.50" x2="219.34" y2="325.20" stroke="#333333" stroke-width="0.9" />
<text transform="translate(218.64,326.70) rotate(-45)" font-size="8.3" text-anchor="end" fill="#333" dy="5.6">IHC 15</text>
<rect x="227.22" y="252.50" width="12.90" height="64.10" fill="#FFD700" />
<rect x="227.22" y="247.30" width="12.90" height="5.20" fill="#228B22" />
<rect x="227.22" y="210.10" width="12.90" height="37.20" fill="#1C86EE" />
<rect x="227.22" y="204.60" width="12.90" height="5.50" fill="#EE7600" />
<line x1="233.67" y1="322.50" x2="233.67" y2="325.20" stroke="#333333" stroke-width="0.9" />
<text transform="translate(232.97,326.70) rotate(-45)" font-size="8.3" text-anchor="end" fill="#333" dy="5.6">IHC 39</text>
<rect x="241.55" y="246.10" width="12.90" height="70.50" fill="#FFD700" />
<rect x="241.55" y="238.10" width="12.90" height="8.00" fill="#228B22" />
<rect x="241.55" y="229.10" width="12.90" height="9.00" fill="#1C86EE" />
<rect x="241.55" y="204.60" width="12.90" height="24.50" fill="#EE7600" />
<line x1="248.00" y1="322.50" x2="248.00" y2="325.20" stroke="#333333" stroke-width="0.9" />
<text transform="translate(247.30,326.70) rotate(-45)" font-size="8.3" text-anchor="end" fill="#333" dy="5.6">IHC 6</text>
<rect x="255.88" y="242.10" width="12.90" height="74.50" fill="#FFD700" />
<rect x="255.88" y="233.70" width="12.90" height="8.40" fill="#228B22" />
<rect x="255.88" y="212.70" width="12.90" height="21.00" fill="#1C86EE" />
<rect x="255.88" y="204.60" width="12.90" height="8.10" fill="#EE7600" />
<line x1="262.33" y1="322.50" x2="262.33" y2="325.20" stroke="#333333" stroke-width="0.9" />
<text transform="translate(261.63,326.70) rotate(-45)" font-size="8.3" text-anchor="end" fill="#333" dy="5.6">IHC 34</text>
<rect x="270.21" y="241.50" width="12.90" height="75.10" fill="#FFD700" />
<rect x="270.21" y="229.50" width="12.90" height="12.00" fill="#228B22" />
<rect x="270.21" y="207.70" width="12.90" height="21.80" fill="#1C86EE" />
<rect x="270.21" y="204.60" width="12.90" height="3.10" fill="#EE7600" />
<line x1="276.66" y1="322.50" x2="276.66" y2="325.20" stroke="#333333" stroke-width="0.9" />
<text transform="translate(275.96,326.70) rotate(-45)" font-size="8.3" text-anchor="end" fill="#333" dy="5.6">IHC 7</text>
<rect x="284.54" y="241.10" width="12.90" height="75.50" fill="#FFD700" />
<rect x="284.54" y="240.50" width="12.90" height="0.60" fill="#228B22" />
<rect x="284.54" y="216.50" width="12.90" height="24.00" fill="#1C86EE" />
<rect x="284.54" y="204.60" width="12.90" height="11.90" fill="#EE7600" />
<line x1="290.99" y1="322.50" x2="290.99" y2="325.20" stroke="#333333" stroke-width="0.9" />
<text transform="translate(290.29,326.70) rotate(-45)" font-size="8.3" text-anchor="end" fill="#333" dy="5.6">IHC 9</text>
<rect x="298.87" y="232.10" width="12.90" height="84.50" fill="#FFD700" />
<rect x="298.87" y="227.70" width="12.90" height="4.40" fill="#228B22" />
<rect x="298.87" y="210.90" width="12.90" height="16.80" fill="#1C86EE" />
<rect x="298.87" y="204.60" width="12.90" height="6.30" fill="#EE7600" />
<line x1="305.32" y1="322.50" x2="305.32" y2="325.20" stroke="#333333" stroke-width="0.9" />
<text transform="translate(304.62,326.70) rotate(-45)" font-size="8.3" text-anchor="end" fill="#333" dy="5.6">IHC 23</text>
<rect x="313.20" y="229.10" width="12.90" height="87.50" fill="#FFD700" />
<rect x="313.20" y="223.10" width="12.90" height="6.00" fill="#228B22" />
<rect x="313.20" y="208.90" width="12.90" height="14.20" fill="#1C86EE" />
<rect x="313.20" y="204.60" width="12.90" height="4.30" fill="#EE7600" />
<line x1="319.65" y1="322.50" x2="319.65" y2="325.20" stroke="#333333" stroke-width="0.9" />
<text transform="translate(318.95,326.70) rotate(-45)" font-size="8.3" text-anchor="end" fill="#333" dy="5.6">IHC 37</text>
<line x1="96.10" y1="322.50" x2="328.25" y2="322.50" stroke="#333333" stroke-width="1.0" />
<rect x="332.90" y="187.00" width="189.16" height="12.00" fill="#CCCCCC" />
<text x="427.48" y="195.80" font-size="7.9" text-anchor="middle" fill="#1A1A1A" >pcFCL</text>
<rect x="335.05" y="263.10" width="12.90" height="53.50" fill="#FFD700" />
<rect x="335.05" y="242.10" width="12.90" height="21.00" fill="#228B22" />
<rect x="335.05" y="207.70" width="12.90" height="34.40" fill="#1C86EE" />
<rect x="335.05" y="204.60" width="12.90" height="3.10" fill="#EE7600" />
<line x1="341.50" y1="322.50" x2="341.50" y2="325.20" stroke="#333333" stroke-width="0.9" />
<text transform="translate(340.80,326.70) rotate(-45)" font-size="8.3" text-anchor="end" fill="#333" dy="5.6">IHC 32</text>
<rect x="349.38" y="262.70" width="12.90" height="53.90" fill="#FFD700" />
<rect x="349.38" y="244.10" width="12.90" height="18.60" fill="#228B22" />
<rect x="349.38" y="206.70" width="12.90" height="37.40" fill="#1C86EE" />
<rect x="349.38" y="204.60" width="12.90" height="2.10" fill="#EE7600" />
<line x1="355.83" y1="322.50" x2="355.83" y2="325.20" stroke="#333333" stroke-width="0.9" />
<text transform="translate(355.13,326.70) rotate(-45)" font-size="8.3" text-anchor="end" fill="#333" dy="5.6">IHC 33</text>
<rect x="363.71" y="253.10" width="12.90" height="63.50" fill="#FFD700" />
<rect x="363.71" y="236.10" width="12.90" height="17.00" fill="#228B22" />
<rect x="363.71" y="206.10" width="12.90" height="30.00" fill="#1C86EE" />
<rect x="363.71" y="204.60" width="12.90" height="1.50" fill="#EE7600" />
<line x1="370.16" y1="322.50" x2="370.16" y2="325.20" stroke="#333333" stroke-width="0.9" />
<text transform="translate(369.46,326.70) rotate(-45)" font-size="8.3" text-anchor="end" fill="#333" dy="5.6">IHC 38</text>
<rect x="378.04" y="249.70" width="12.90" height="66.90" fill="#FFD700" />
<rect x="378.04" y="238.10" width="12.90" height="11.60" fill="#228B22" />
<rect x="378.04" y="217.10" width="12.90" height="21.00" fill="#1C86EE" />
<rect x="378.04" y="204.60" width="12.90" height="12.50" fill="#EE7600" />
<line x1="384.49" y1="322.50" x2="384.49" y2="325.20" stroke="#333333" stroke-width="0.9" />
<text transform="translate(383.79,326.70) rotate(-45)" font-size="8.3" text-anchor="end" fill="#333" dy="5.6">IHC 16</text>
<rect x="392.37" y="246.90" width="12.90" height="69.70" fill="#FFD700" />
<rect x="392.37" y="238.70" width="12.90" height="8.20" fill="#228B22" />
<rect x="392.37" y="216.50" width="12.90" height="22.20" fill="#1C86EE" />
<rect x="392.37" y="204.60" width="12.90" height="11.90" fill="#EE7600" />
<line x1="398.82" y1="322.50" x2="398.82" y2="325.20" stroke="#333333" stroke-width="0.9" />
<text transform="translate(398.12,326.70) rotate(-45)" font-size="8.3" text-anchor="end" fill="#333" dy="5.6">IHC 22</text>
<rect x="406.70" y="241.30" width="12.90" height="75.30" fill="#FFD700" />
<rect x="406.70" y="225.10" width="12.90" height="16.20" fill="#228B22" />
<rect x="406.70" y="209.10" width="12.90" height="16.00" fill="#1C86EE" />
<rect x="406.70" y="204.60" width="12.90" height="4.50" fill="#EE7600" />
<line x1="413.15" y1="322.50" x2="413.15" y2="325.20" stroke="#333333" stroke-width="0.9" />
<text transform="translate(412.45,326.70) rotate(-45)" font-size="8.3" text-anchor="end" fill="#333" dy="5.6">IHC 40</text>
<rect x="421.03" y="240.50" width="12.90" height="76.10" fill="#FFD700" />
<rect x="421.03" y="222.10" width="12.90" height="18.40" fill="#228B22" />
<rect x="421.03" y="206.10" width="12.90" height="16.00" fill="#1C86EE" />
<rect x="421.03" y="204.60" width="12.90" height="1.50" fill="#EE7600" />
<line x1="427.48" y1="322.50" x2="427.48" y2="325.20" stroke="#333333" stroke-width="0.9" />
<text transform="translate(426.78,326.70) rotate(-45)" font-size="8.3" text-anchor="end" fill="#333" dy="5.6">IHC 28</text>
<rect x="435.36" y="240.10" width="12.90" height="76.50" fill="#FFD700" />
<rect x="435.36" y="223.10" width="12.90" height="17.00" fill="#228B22" />
<rect x="435.36" y="209.70" width="12.90" height="13.40" fill="#1C86EE" />
<rect x="435.36" y="204.60" width="12.90" height="5.10" fill="#EE7600" />
<line x1="441.81" y1="322.50" x2="441.81" y2="325.20" stroke="#333333" stroke-width="0.9" />
<text transform="translate(441.11,326.70) rotate(-45)" font-size="8.3" text-anchor="end" fill="#333" dy="5.6">IHC 36</text>
<rect x="449.69" y="239.50" width="12.90" height="77.10" fill="#FFD700" />
<rect x="449.69" y="233.10" width="12.90" height="6.40" fill="#228B22" />
<rect x="449.69" y="205.70" width="12.90" height="27.40" fill="#1C86EE" />
<rect x="449.69" y="204.60" width="12.90" height="1.10" fill="#EE7600" />
<line x1="456.14" y1="322.50" x2="456.14" y2="325.20" stroke="#333333" stroke-width="0.9" />
<text transform="translate(455.44,326.70) rotate(-45)" font-size="8.3" text-anchor="end" fill="#333" dy="5.6">IHC 27</text>
<rect x="464.02" y="236.70" width="12.90" height="79.90" fill="#FFD700" />
<rect x="464.02" y="234.50" width="12.90" height="2.20" fill="#228B22" />
<rect x="464.02" y="217.10" width="12.90" height="17.40" fill="#1C86EE" />
<rect x="464.02" y="204.60" width="12.90" height="12.50" fill="#EE7600" />
<line x1="470.47" y1="322.50" x2="470.47" y2="325.20" stroke="#333333" stroke-width="0.9" />
<text transform="translate(469.77,326.70) rotate(-45)" font-size="8.3" text-anchor="end" fill="#333" dy="5.6">IHC 24</text>
<rect x="478.35" y="236.70" width="12.90" height="79.90" fill="#FFD700" />
<rect x="478.35" y="230.10" width="12.90" height="6.60" fill="#228B22" />
<rect x="478.35" y="208.10" width="12.90" height="22.00" fill="#1C86EE" />
<rect x="478.35" y="204.60" width="12.90" height="3.50" fill="#EE7600" />
<line x1="484.80" y1="322.50" x2="484.80" y2="325.20" stroke="#333333" stroke-width="0.9" />
<text transform="translate(484.10,326.70) rotate(-45)" font-size="8.3" text-anchor="end" fill="#333" dy="5.6">IHC 35</text>
<rect x="492.68" y="230.10" width="12.90" height="86.50" fill="#FFD700" />
<rect x="492.68" y="215.10" width="12.90" height="15.00" fill="#228B22" />
<rect x="492.68" y="206.10" width="12.90" height="9.00" fill="#1C86EE" />
<rect x="492.68" y="204.60" width="12.90" height="1.50" fill="#EE7600" />
<line x1="499.13" y1="322.50" x2="499.13" y2="325.20" stroke="#333333" stroke-width="0.9" />
<text transform="translate(498.43,326.70) rotate(-45)" font-size="8.3" text-anchor="end" fill="#333" dy="5.6">IHC 29</text>
<rect x="507.01" y="223.70" width="12.90" height="92.90" fill="#FFD700" />
<rect x="507.01" y="219.10" width="12.90" height="4.60" fill="#228B22" />
<rect x="507.01" y="207.10" width="12.90" height="12.00" fill="#1C86EE" />
<rect x="507.01" y="204.60" width="12.90" height="2.50" fill="#EE7600" />
<line x1="513.46" y1="322.50" x2="513.46" y2="325.20" stroke="#333333" stroke-width="0.9" />
<text transform="translate(512.76,326.70) rotate(-45)" font-size="8.3" text-anchor="end" fill="#333" dy="5.6">IHC 30</text>
<line x1="332.90" y1="322.50" x2="522.06" y2="322.50" stroke="#333333" stroke-width="1.0" />
<rect x="526.10" y="187.00" width="103.18" height="12.00" fill="#CCCCCC" />
<text x="577.69" y="195.80" font-size="7.9" text-anchor="middle" fill="#1A1A1A" >pcDLBCL-LT</text>
<rect x="528.25" y="295.10" width="12.90" height="21.50" fill="#FFD700" />
<rect x="528.25" y="285.70" width="12.90" height="9.40" fill="#228B22" />
<rect x="528.25" y="205.50" width="12.90" height="80.20" fill="#1C86EE" />
<rect x="528.25" y="204.60" width="12.90" height="0.90" fill="#EE7600" />
<line x1="534.70" y1="322.50" x2="534.70" y2="325.20" stroke="#333333" stroke-width="0.9" />
<text transform="translate(534.00,326.70) rotate(-45)" font-size="8.3" text-anchor="end" fill="#333" dy="5.6">IHC 26</text>
<rect x="542.58" y="264.10" width="12.90" height="52.50" fill="#FFD700" />
<rect x="542.58" y="254.10" width="12.90" height="10.00" fill="#228B22" />
<rect x="542.58" y="215.10" width="12.90" height="39.00" fill="#1C86EE" />
<rect x="542.58" y="204.60" width="12.90" height="10.50" fill="#EE7600" />
<line x1="549.03" y1="322.50" x2="549.03" y2="325.20" stroke="#333333" stroke-width="0.9" />
<text transform="translate(548.33,326.70) rotate(-45)" font-size="8.3" text-anchor="end" fill="#333" dy="5.6">IHC 12</text>
<rect x="556.91" y="227.10" width="12.90" height="89.50" fill="#FFD700" />
<rect x="556.91" y="222.70" width="12.90" height="4.40" fill="#228B22" />
<rect x="556.91" y="205.70" width="12.90" height="17.00" fill="#1C86EE" />
<rect x="556.91" y="204.60" width="12.90" height="1.10" fill="#EE7600" />
<line x1="563.36" y1="322.50" x2="563.36" y2="325.20" stroke="#333333" stroke-width="0.9" />
<text transform="translate(562.66,326.70) rotate(-45)" font-size="8.3" text-anchor="end" fill="#333" dy="5.6">IHC 4</text>
<rect x="571.24" y="214.10" width="12.90" height="102.50" fill="#FFD700" />
<rect x="571.24" y="207.70" width="12.90" height="6.40" fill="#228B22" />
<rect x="571.24" y="204.60" width="12.90" height="3.10" fill="#1C86EE" />
<line x1="577.69" y1="322.50" x2="577.69" y2="325.20" stroke="#333333" stroke-width="0.9" />
<text transform="translate(576.99,326.70) rotate(-45)" font-size="8.3" text-anchor="end" fill="#333" dy="5.6">IHC 25</text>
<rect x="585.57" y="213.10" width="12.90" height="103.50" fill="#FFD700" />
<rect x="585.57" y="207.70" width="12.90" height="5.40" fill="#228B22" />
<rect x="585.57" y="205.70" width="12.90" height="2.00" fill="#1C86EE" />
<rect x="585.57" y="204.60" width="12.90" height="1.10" fill="#EE7600" />
<line x1="592.02" y1="322.50" x2="592.02" y2="325.20" stroke="#333333" stroke-width="0.9" />
<text transform="translate(591.32,326.70) rotate(-45)" font-size="8.3" text-anchor="end" fill="#333" dy="5.6">IHC 1</text>
<rect x="599.90" y="211.10" width="12.90" height="105.50" fill="#FFD700" />
<rect x="599.90" y="208.10" width="12.90" height="3.00" fill="#228B22" />
<rect x="599.90" y="204.90" width="12.90" height="3.20" fill="#1C86EE" />
<rect x="599.90" y="204.60" width="12.90" height="0.30" fill="#EE7600" />
<line x1="606.35" y1="322.50" x2="606.35" y2="325.20" stroke="#333333" stroke-width="0.9" />
<text transform="translate(605.65,326.70) rotate(-45)" font-size="8.3" text-anchor="end" fill="#333" dy="5.6">IHC 3</text>
<rect x="614.23" y="206.10" width="12.90" height="110.50" fill="#FFD700" />
<rect x="614.23" y="204.60" width="12.90" height="1.50" fill="#1C86EE" />
<line x1="620.68" y1="322.50" x2="620.68" y2="325.20" stroke="#333333" stroke-width="0.9" />
<text transform="translate(619.98,326.70) rotate(-45)" font-size="8.3" text-anchor="end" fill="#333" dy="5.6">IHC 2</text>
<line x1="526.10" y1="322.50" x2="629.28" y2="322.50" stroke="#333333" stroke-width="1.0" />
<line x1="31.50" y1="199.00" x2="31.50" y2="322.90" stroke="#333333" stroke-width="1.0" />
<line x1="29.00" y1="204.60" x2="31.50" y2="204.60" stroke="#333333" stroke-width="0.9" />
<text x="27.40" y="206.90" font-size="8.3" text-anchor="end" fill="#333" letter-spacing="0.45">100</text>
<line x1="29.00" y1="232.60" x2="31.50" y2="232.60" stroke="#333333" stroke-width="0.9" />
<text x="27.40" y="234.90" font-size="8.3" text-anchor="end" fill="#333" letter-spacing="0.45">75</text>
<line x1="29.00" y1="260.60" x2="31.50" y2="260.60" stroke="#333333" stroke-width="0.9" />
<text x="27.40" y="262.90" font-size="8.3" text-anchor="end" fill="#333" letter-spacing="0.45">50</text>
<line x1="29.00" y1="288.60" x2="31.50" y2="288.60" stroke="#333333" stroke-width="0.9" />
<text x="27.40" y="290.90" font-size="8.3" text-anchor="end" fill="#333" letter-spacing="0.45">25</text>
<line x1="29.00" y1="316.60" x2="31.50" y2="316.60" stroke="#333333" stroke-width="0.9" />
<text x="27.40" y="318.90" font-size="8.3" text-anchor="end" fill="#333" letter-spacing="0.45">0</text>
<text transform="translate(10.3,258.3) rotate(-90)" font-size="13.2" text-anchor="middle" fill="#000">Frequency (%)</text>
<text transform="translate(10.3,464.8) rotate(-90)" font-size="13.2" text-anchor="middle" fill="#000">Frequency (%)</text>
<text x="332.00" y="358.90" font-size="9.9" text-anchor="middle" fill="#000" >Sample</text>
<text x="630.30" y="230.70" font-size="12.2" text-anchor="start" fill="#000" >Cell type</text>
<rect x="630.60" y="238.00" width="11.40" height="11.40" fill="#EE7600" />
<text x="648.70" y="247.00" font-size="10.2" text-anchor="start" fill="#000" >PC</text>
<rect x="630.60" y="250.35" width="11.40" height="11.40" fill="#1C86EE" />
<text x="648.70" y="259.35" font-size="10.2" text-anchor="start" fill="#000" >mem B</text>
<rect x="630.60" y="262.70" width="11.40" height="11.40" fill="#228B22" />
<text x="648.70" y="271.70" font-size="10.2" text-anchor="start" fill="#000" >GC B</text>
<rect x="630.60" y="275.05" width="11.40" height="11.40" fill="#FFD700" />
<text x="648.70" y="284.05" font-size="10.2" text-anchor="start" fill="#000" >naive B</text>
<text x="1.50" y="368.40" font-size="19" text-anchor="start" fill="#000" >c)</text>
<rect x="35.40" y="372.20" width="102.80" height="16.30" fill="#CCCCCC" />
<text x="86.80" y="384.20" font-size="11.6" text-anchor="middle" fill="#1A1A1A" >PC</text>
<line x1="50.09" y1="455.00" x2="50.09" y2="473.90" stroke="#555" stroke-width="1.0" />
<line x1="50.09" y1="491.00" x2="50.09" y2="515.30" stroke="#555" stroke-width="1.0" />
<rect x="40.91" y="473.90" width="18.36" height="17.10" fill="none" stroke="#444" stroke-width="1.0"/>
<line x1="40.91" y1="481.10" x2="59.26" y2="481.10" stroke="#333" stroke-width="2.2" />
<line x1="74.56" y1="395.70" x2="74.56" y2="437.60" stroke="#555" stroke-width="1.0" />
<line x1="74.56" y1="521.20" x2="74.56" y2="529.20" stroke="#555" stroke-width="1.0" />
<rect x="65.38" y="437.60" width="18.36" height="83.60" fill="none" stroke="#444" stroke-width="1.0"/>
<line x1="65.38" y1="499.30" x2="83.74" y2="499.30" stroke="#333" stroke-width="2.2" />
<line x1="99.04" y1="523.60" x2="99.04" y2="523.60" stroke="#555" stroke-width="1.0" />
<line x1="99.04" y1="531.90" x2="99.04" y2="531.90" stroke="#555" stroke-width="1.0" />
<rect x="89.86" y="523.60" width="18.36" height="8.30" fill="none" stroke="#444" stroke-width="1.0"/>
<line x1="89.86" y1="528.00" x2="108.22" y2="528.00" stroke="#333" stroke-width="2.2" />
<line x1="123.51" y1="532.20" x2="123.51" y2="532.20" stroke="#555" stroke-width="1.0" />
<line x1="123.51" y1="534.50" x2="123.51" y2="534.50" stroke="#555" stroke-width="1.0" />
<rect x="114.34" y="532.20" width="18.36" height="2.30" fill="none" stroke="#444" stroke-width="1.0"/>
<line x1="114.34" y1="533.20" x2="132.69" y2="533.20" stroke="#333" stroke-width="2.2" />
<circle cx="99.00" cy="505.60" r="1.9" fill="#222"/>
<circle cx="99.00" cy="507.20" r="1.9" fill="#222"/>
<circle cx="123.50" cy="510.40" r="1.9" fill="#222"/>
<circle cx="53.20" cy="455.00" r="3.3" fill="#7CC8D8"/>
<circle cx="50.80" cy="479.80" r="3.3" fill="#7CC8D8"/>
<circle cx="54.60" cy="482.50" r="3.3" fill="#7CC8D8"/>
<circle cx="52.70" cy="515.30" r="3.3" fill="#7CC8D8"/>
<circle cx="72.00" cy="395.50" r="3.3" fill="#8CB864"/>
<circle cx="73.75" cy="406.25" r="3.3" fill="#8CB864"/>
<circle cx="74.25" cy="408.50" r="3.3" fill="#8CB864"/>
<circle cx="74.25" cy="433.00" r="3.3" fill="#8CB864"/>
<circle cx="73.75" cy="438.75" r="3.3" fill="#8CB864"/>
<circle cx="78.25" cy="463.75" r="3.3" fill="#8CB864"/>
<circle cx="72.00" cy="478.00" r="3.3" fill="#8CB864"/>
<circle cx="74.50" cy="490.50" r="3.3" fill="#8CB864"/>
<circle cx="70.00" cy="507.00" r="3.3" fill="#8CB864"/>
<circle cx="75.50" cy="513.00" r="3.3" fill="#8CB864"/>
<circle cx="70.00" cy="516.25" r="3.3" fill="#8CB864"/>
<circle cx="77.50" cy="520.00" r="3.3" fill="#8CB864"/>
<circle cx="72.50" cy="522.50" r="3.3" fill="#8CB864"/>
<circle cx="72.50" cy="527.50" r="3.3" fill="#8CB864"/>
<circle cx="71.25" cy="528.75" r="3.3" fill="#8CB864"/>
<circle cx="74.00" cy="525.00" r="3.3" fill="#8CB864"/>
<circle cx="95.00" cy="505.80" r="3.3" fill="#F08C00"/>
<circle cx="103.30" cy="506.70" r="3.3" fill="#F08C00"/>
<circle cx="100.00" cy="523.30" r="3.3" fill="#F08C00"/>
<circle cx="94.20" cy="527.50" r="3.3" fill="#F08C00"/>
<circle cx="97.50" cy="531.70" r="3.3" fill="#F08C00"/>
<circle cx="101.70" cy="530.80" r="3.3" fill="#F08C00"/>
<circle cx="96.50" cy="526.00" r="3.3" fill="#F08C00"/>
<circle cx="99.00" cy="529.00" r="3.3" fill="#F08C00"/>
<circle cx="95.50" cy="530.00" r="3.3" fill="#F08C00"/>
<circle cx="98.50" cy="532.50" r="3.3" fill="#F08C00"/>
<circle cx="102.00" cy="527.00" r="3.3" fill="#F08C00"/>
<circle cx="122.10" cy="510.40" r="3.3" fill="#BC4850"/>
<circle cx="122.10" cy="532.50" r="3.3" fill="#BC4850"/>
<circle cx="126.70" cy="533.30" r="3.3" fill="#BC4850"/>
<circle cx="122.50" cy="535.50" r="3.3" fill="#BC4850"/>
<circle cx="124.50" cy="534.00" r="3.3" fill="#BC4850"/>
<circle cx="120.50" cy="534.00" r="3.3" fill="#BC4850"/>
<line x1="35.40" y1="388.40" x2="35.40" y2="542.80" stroke="#333333" stroke-width="1.0" />
<line x1="34.90" y1="542.30" x2="138.20" y2="542.30" stroke="#333333" stroke-width="1.0" />
<line x1="32.40" y1="535.40" x2="35.40" y2="535.40" stroke="#333333" stroke-width="1.0" />
<text x="29.80" y="538.80" font-size="10.9" text-anchor="end" fill="#1A1A1A" letter-spacing="0.55">0</text>
<line x1="32.40" y1="508.82" x2="35.40" y2="508.82" stroke="#333333" stroke-width="1.0" />
<text x="29.80" y="512.22" font-size="10.9" text-anchor="end" fill="#1A1A1A" letter-spacing="0.55">10</text>
<line x1="32.40" y1="482.24" x2="35.40" y2="482.24" stroke="#333333" stroke-width="1.0" />
<text x="29.80" y="485.64" font-size="10.9" text-anchor="end" fill="#1A1A1A" letter-spacing="0.55">20</text>
<line x1="32.40" y1="455.66" x2="35.40" y2="455.66" stroke="#333333" stroke-width="1.0" />
<text x="29.80" y="459.06" font-size="10.9" text-anchor="end" fill="#1A1A1A" letter-spacing="0.55">30</text>
<line x1="32.40" y1="429.08" x2="35.40" y2="429.08" stroke="#333333" stroke-width="1.0" />
<text x="29.80" y="432.48" font-size="10.9" text-anchor="end" fill="#1A1A1A" letter-spacing="0.55">40</text>
<line x1="32.40" y1="402.50" x2="35.40" y2="402.50" stroke="#333333" stroke-width="1.0" />
<text x="29.80" y="405.90" font-size="10.9" text-anchor="end" fill="#1A1A1A" letter-spacing="0.55">50</text>
<line x1="50.09" y1="542.30" x2="50.09" y2="545.30" stroke="#333333" stroke-width="1.0" />
<text transform="translate(49.39,545.30) rotate(-45)" font-size="11.0" text-anchor="end" fill="#1A1A1A" dy="7.8">rB-LP</text>
<line x1="74.56" y1="542.30" x2="74.56" y2="545.30" stroke="#333333" stroke-width="1.0" />
<text transform="translate(73.86,545.30) rotate(-45)" font-size="11.0" text-anchor="end" fill="#1A1A1A" dy="7.8">pcMZL</text>
<line x1="99.04" y1="542.30" x2="99.04" y2="545.30" stroke="#333333" stroke-width="1.0" />
<text transform="translate(98.34,545.30) rotate(-45)" font-size="11.0" text-anchor="end" fill="#1A1A1A" dy="7.8">pcFCL</text>
<line x1="123.51" y1="542.30" x2="123.51" y2="545.30" stroke="#333333" stroke-width="1.0" />
<text transform="translate(122.81,545.30) rotate(-45)" font-size="11.0" text-anchor="end" fill="#1A1A1A" dy="7.8">pcDLBCL-LT</text>
<rect x="163.90" y="372.20" width="102.80" height="16.30" fill="#CCCCCC" />
<text x="215.30" y="384.20" font-size="11.6" text-anchor="middle" fill="#1A1A1A" >mem B</text>
<line x1="178.59" y1="488.60" x2="178.59" y2="500.30" stroke="#555" stroke-width="1.0" />
<line x1="178.59" y1="514.30" x2="178.59" y2="516.30" stroke="#555" stroke-width="1.0" />
<rect x="169.41" y="500.30" width="18.36" height="14.00" fill="none" stroke="#444" stroke-width="1.0"/>
<line x1="169.41" y1="508.40" x2="187.76" y2="508.40" stroke="#333" stroke-width="2.2" />
<line x1="203.06" y1="454.50" x2="203.06" y2="484.30" stroke="#555" stroke-width="1.0" />
<line x1="203.06" y1="511.40" x2="203.06" y2="527.40" stroke="#555" stroke-width="1.0" />
<rect x="193.88" y="484.30" width="18.36" height="27.10" fill="none" stroke="#444" stroke-width="1.0"/>
<line x1="193.88" y1="499.70" x2="212.24" y2="499.70" stroke="#333" stroke-width="2.2" />
<line x1="227.54" y1="470.60" x2="227.54" y2="488.90" stroke="#555" stroke-width="1.0" />
<line x1="227.54" y1="509.30" x2="227.54" y2="521.60" stroke="#555" stroke-width="1.0" />
<rect x="218.36" y="488.90" width="18.36" height="20.40" fill="none" stroke="#444" stroke-width="1.0"/>
<line x1="218.36" y1="499.70" x2="236.72" y2="499.70" stroke="#333" stroke-width="2.2" />
<line x1="252.01" y1="469.10" x2="252.01" y2="488.00" stroke="#555" stroke-width="1.0" />
<line x1="252.01" y1="532.30" x2="252.01" y2="534.70" stroke="#555" stroke-width="1.0" />
<rect x="242.84" y="488.00" width="18.36" height="44.30" fill="none" stroke="#444" stroke-width="1.0"/>
<line x1="242.84" y1="531.80" x2="261.19" y2="531.80" stroke="#333" stroke-width="2.2" />
<circle cx="177.90" cy="488.60" r="3.3" fill="#7CC8D8"/>
<circle cx="175.00" cy="504.00" r="3.3" fill="#7CC8D8"/>
<circle cx="174.40" cy="513.40" r="3.3" fill="#7CC8D8"/>
<circle cx="182.30" cy="516.30" r="3.3" fill="#7CC8D8"/>
<circle cx="207.60" cy="454.50" r="3.3" fill="#8CB864"/>
<circle cx="203.50" cy="462.70" r="3.3" fill="#8CB864"/>
<circle cx="202.10" cy="472.00" r="3.3" fill="#8CB864"/>
<circle cx="203.20" cy="476.40" r="3.3" fill="#8CB864"/>
<circle cx="205.60" cy="486.60" r="3.3" fill="#8CB864"/>
<circle cx="199.70" cy="499.70" r="3.3" fill="#8CB864"/>
<circle cx="204.70" cy="496.80" r="3.3" fill="#8CB864"/>
<circle cx="207.00" cy="498.20" r="3.3" fill="#8CB864"/>
<circle cx="202.70" cy="507.00" r="3.3" fill="#8CB864"/>
<circle cx="198.30" cy="509.90" r="3.3" fill="#8CB864"/>
<circle cx="201.20" cy="512.80" r="3.3" fill="#8CB864"/>
<circle cx="207.00" cy="513.40" r="3.3" fill="#8CB864"/>
<circle cx="207.90" cy="520.70" r="3.3" fill="#8CB864"/>
<circle cx="205.60" cy="528.00" r="3.3" fill="#8CB864"/>
<circle cx="200.50" cy="500.00" r="3.3" fill="#8CB864"/>
<circle cx="203.00" cy="505.00" r="3.3" fill="#8CB864"/>
<circle cx="224.00" cy="471.40" r="3.3" fill="#F08C00"/>
<circle cx="229.80" cy="477.30" r="3.3" fill="#F08C00"/>
<circle cx="230.40" cy="484.30" r="3.3" fill="#F08C00"/>
<circle cx="228.90" cy="490.10" r="3.3" fill="#F08C00"/>
<circle cx="224.50" cy="499.70" r="3.3" fill="#F08C00"/>
<circle cx="232.10" cy="498.20" r="3.3" fill="#F08C00"/>
<circle cx="227.40" cy="506.40" r="3.3" fill="#F08C00"/>
<circle cx="223.90" cy="509.30" r="3.3" fill="#F08C00"/>
<circle cx="228.90" cy="512.80" r="3.3" fill="#F08C00"/>
<circle cx="231.80" cy="515.70" r="3.3" fill="#F08C00"/>
<circle cx="224.50" cy="521.60" r="3.3" fill="#F08C00"/>
<circle cx="253.10" cy="395.60" r="3.3" fill="#BC4850"/>
<circle cx="252.20" cy="469.10" r="3.3" fill="#BC4850"/>
<circle cx="251.60" cy="508.40" r="3.3" fill="#BC4850"/>
<circle cx="249.30" cy="531.80" r="3.3" fill="#BC4850"/>
<circle cx="253.70" cy="534.70" r="3.3" fill="#BC4850"/>
<circle cx="251.50" cy="533.50" r="3.3" fill="#BC4850"/>
<line x1="163.90" y1="388.40" x2="163.90" y2="542.80" stroke="#333333" stroke-width="1.0" />
<line x1="163.40" y1="542.30" x2="266.70" y2="542.30" stroke="#333333" stroke-width="1.0" />
<line x1="160.90" y1="537.60" x2="163.90" y2="537.60" stroke="#333333" stroke-width="1.0" />
<text x="158.30" y="541.00" font-size="10.9" text-anchor="end" fill="#1A1A1A" letter-spacing="0.55">0</text>
<line x1="160.90" y1="497.80" x2="163.90" y2="497.80" stroke="#333333" stroke-width="1.0" />
<text x="158.30" y="501.20" font-size="10.9" text-anchor="end" fill="#1A1A1A" letter-spacing="0.55">20</text>
<line x1="160.90" y1="458.00" x2="163.90" y2="458.00" stroke="#333333" stroke-width="1.0" />
<text x="158.30" y="461.40" font-size="10.9" text-anchor="end" fill="#1A1A1A" letter-spacing="0.55">40</text>
<line x1="160.90" y1="418.20" x2="163.90" y2="418.20" stroke="#333333" stroke-width="1.0" />
<text x="158.30" y="421.60" font-size="10.9" text-anchor="end" fill="#1A1A1A" letter-spacing="0.55">60</text>
<line x1="178.59" y1="542.30" x2="178.59" y2="545.30" stroke="#333333" stroke-width="1.0" />
<text transform="translate(177.89,545.30) rotate(-45)" font-size="11.0" text-anchor="end" fill="#1A1A1A" dy="7.8">rB-LP</text>
<line x1="203.06" y1="542.30" x2="203.06" y2="545.30" stroke="#333333" stroke-width="1.0" />
<text transform="translate(202.36,545.30) rotate(-45)" font-size="11.0" text-anchor="end" fill="#1A1A1A" dy="7.8">pcMZL</text>
<line x1="227.54" y1="542.30" x2="227.54" y2="545.30" stroke="#333333" stroke-width="1.0" />
<text transform="translate(226.84,545.30) rotate(-45)" font-size="11.0" text-anchor="end" fill="#1A1A1A" dy="7.8">pcFCL</text>
<line x1="252.01" y1="542.30" x2="252.01" y2="545.30" stroke="#333333" stroke-width="1.0" />
<text transform="translate(251.31,545.30) rotate(-45)" font-size="11.0" text-anchor="end" fill="#1A1A1A" dy="7.8">pcDLBCL-LT</text>
<rect x="292.80" y="372.20" width="102.20" height="16.30" fill="#CCCCCC" />
<text x="343.90" y="384.20" font-size="11.6" text-anchor="middle" fill="#1A1A1A" >GC B</text>
<line x1="307.40" y1="437.00" x2="307.40" y2="452.50" stroke="#555" stroke-width="1.0" />
<line x1="307.40" y1="505.00" x2="307.40" y2="523.90" stroke="#555" stroke-width="1.0" />
<rect x="298.28" y="452.50" width="18.25" height="52.50" fill="none" stroke="#444" stroke-width="1.0"/>
<line x1="298.28" y1="477.80" x2="316.53" y2="477.80" stroke="#333" stroke-width="2.2" />
<line x1="331.73" y1="456.00" x2="331.73" y2="475.50" stroke="#555" stroke-width="1.0" />
<line x1="331.73" y1="502.60" x2="331.73" y2="529.70" stroke="#555" stroke-width="1.0" />
<rect x="322.61" y="475.50" width="18.25" height="27.10" fill="none" stroke="#444" stroke-width="1.0"/>
<line x1="322.61" y1="491.80" x2="340.86" y2="491.80" stroke="#333" stroke-width="2.2" />
<line x1="356.07" y1="395.60" x2="356.07" y2="417.20" stroke="#555" stroke-width="1.0" />
<line x1="356.07" y1="490.10" x2="356.07" y2="519.20" stroke="#555" stroke-width="1.0" />
<rect x="346.94" y="417.20" width="18.25" height="72.90" fill="none" stroke="#444" stroke-width="1.0"/>
<line x1="346.94" y1="434.10" x2="365.19" y2="434.10" stroke="#333" stroke-width="2.2" />
<line x1="380.40" y1="468.20" x2="380.40" y2="482.20" stroke="#555" stroke-width="1.0" />
<line x1="380.40" y1="512.00" x2="380.40" y2="535.30" stroke="#555" stroke-width="1.0" />
<rect x="371.27" y="482.20" width="18.25" height="29.80" fill="none" stroke="#444" stroke-width="1.0"/>
<line x1="371.27" y1="501.70" x2="389.52" y2="501.70" stroke="#333" stroke-width="2.2" />
<circle cx="311.60" cy="437.00" r="3.3" fill="#7CC8D8"/>
<circle cx="308.70" cy="457.40" r="3.3" fill="#7CC8D8"/>
<circle cx="311.00" cy="498.20" r="3.3" fill="#7CC8D8"/>
<circle cx="311.60" cy="523.90" r="3.3" fill="#7CC8D8"/>
<circle cx="332.00" cy="415.80" r="3.3" fill="#8CB864"/>
<circle cx="329.70" cy="433.20" r="3.3" fill="#8CB864"/>
<circle cx="328.50" cy="456.00" r="3.3" fill="#8CB864"/>
<circle cx="333.50" cy="468.50" r="3.3" fill="#8CB864"/>
<circle cx="335.50" cy="477.30" r="3.3" fill="#8CB864"/>
<circle cx="336.40" cy="480.80" r="3.3" fill="#8CB864"/>
<circle cx="334.00" cy="484.50" r="3.3" fill="#8CB864"/>
<circle cx="332.60" cy="488.90" r="3.3" fill="#8CB864"/>
<circle cx="336.40" cy="493.90" r="3.3" fill="#8CB864"/>
<circle cx="327.70" cy="494.70" r="3.3" fill="#8CB864"/>
<circle cx="334.40" cy="501.70" r="3.3" fill="#8CB864"/>
<circle cx="326.20" cy="504.70" r="3.3" fill="#8CB864"/>
<circle cx="329.70" cy="506.40" r="3.3" fill="#8CB864"/>
<circle cx="331.50" cy="527.40" r="3.3" fill="#8CB864"/>
<circle cx="329.70" cy="529.70" r="3.3" fill="#8CB864"/>
<circle cx="331.00" cy="490.00" r="3.3" fill="#8CB864"/>
<circle cx="360.30" cy="395.60" r="3.3" fill="#F08C00"/>
<circle cx="354.80" cy="410.80" r="3.3" fill="#F08C00"/>
<circle cx="360.30" cy="414.30" r="3.3" fill="#F08C00"/>
<circle cx="355.40" cy="419.00" r="3.3" fill="#F08C00"/>
<circle cx="353.90" cy="422.50" r="3.3" fill="#F08C00"/>
<circle cx="353.00" cy="426.80" r="3.3" fill="#F08C00"/>
<circle cx="358.30" cy="433.50" r="3.3" fill="#F08C00"/>
<circle cx="354.80" cy="460.40" r="3.3" fill="#F08C00"/>
<circle cx="357.70" cy="482.20" r="3.3" fill="#F08C00"/>
<circle cx="353.00" cy="490.40" r="3.3" fill="#F08C00"/>
<circle cx="358.80" cy="490.40" r="3.3" fill="#F08C00"/>
<circle cx="359.70" cy="505.00" r="3.3" fill="#F08C00"/>
<circle cx="360.30" cy="519.20" r="3.3" fill="#F08C00"/>
<circle cx="379.50" cy="468.20" r="3.3" fill="#BC4850"/>
<circle cx="383.00" cy="471.10" r="3.3" fill="#BC4850"/>
<circle cx="381.00" cy="493.00" r="3.3" fill="#BC4850"/>
<circle cx="380.70" cy="501.20" r="3.3" fill="#BC4850"/>
<circle cx="380.70" cy="505.00" r="3.3" fill="#BC4850"/>
<circle cx="380.70" cy="519.20" r="3.3" fill="#BC4850"/>
<circle cx="381.00" cy="535.30" r="3.3" fill="#BC4850"/>
<line x1="292.80" y1="388.40" x2="292.80" y2="542.80" stroke="#333333" stroke-width="1.0" />
<line x1="292.30" y1="542.30" x2="395.00" y2="542.30" stroke="#333333" stroke-width="1.0" />
<line x1="289.80" y1="537.10" x2="292.80" y2="537.10" stroke="#333333" stroke-width="1.0" />
<text x="287.20" y="540.50" font-size="10.9" text-anchor="end" fill="#1A1A1A" letter-spacing="0.55">0</text>
<line x1="289.80" y1="499.20" x2="292.80" y2="499.20" stroke="#333333" stroke-width="1.0" />
<text x="287.20" y="502.60" font-size="10.9" text-anchor="end" fill="#1A1A1A" letter-spacing="0.55">5</text>
<line x1="289.80" y1="461.30" x2="292.80" y2="461.30" stroke="#333333" stroke-width="1.0" />
<text x="287.20" y="464.70" font-size="10.9" text-anchor="end" fill="#1A1A1A" letter-spacing="0.55">10</text>
<line x1="289.80" y1="423.40" x2="292.80" y2="423.40" stroke="#333333" stroke-width="1.0" />
<text x="287.20" y="426.80" font-size="10.9" text-anchor="end" fill="#1A1A1A" letter-spacing="0.55">15</text>
<line x1="307.40" y1="542.30" x2="307.40" y2="545.30" stroke="#333333" stroke-width="1.0" />
<text transform="translate(306.70,545.30) rotate(-45)" font-size="11.0" text-anchor="end" fill="#1A1A1A" dy="7.8">rB-LP</text>
<line x1="331.73" y1="542.30" x2="331.73" y2="545.30" stroke="#333333" stroke-width="1.0" />
<text transform="translate(331.03,545.30) rotate(-45)" font-size="11.0" text-anchor="end" fill="#1A1A1A" dy="7.8">pcMZL</text>
<line x1="356.07" y1="542.30" x2="356.07" y2="545.30" stroke="#333333" stroke-width="1.0" />
<text transform="translate(355.37,545.30) rotate(-45)" font-size="11.0" text-anchor="end" fill="#1A1A1A" dy="7.8">pcFCL</text>
<line x1="380.40" y1="542.30" x2="380.40" y2="545.30" stroke="#333333" stroke-width="1.0" />
<text transform="translate(379.70,545.30) rotate(-45)" font-size="11.0" text-anchor="end" fill="#1A1A1A" dy="7.8">pcDLBCL-LT</text>
<rect x="428.10" y="372.20" width="102.50" height="16.30" fill="#CCCCCC" />
<text x="479.35" y="384.20" font-size="11.6" text-anchor="middle" fill="#1A1A1A" >naive B</text>
<line x1="442.74" y1="466.50" x2="442.74" y2="466.50" stroke="#555" stroke-width="1.0" />
<line x1="442.74" y1="476.50" x2="442.74" y2="477.30" stroke="#555" stroke-width="1.0" />
<rect x="433.59" y="466.50" width="18.30" height="10.00" fill="none" stroke="#444" stroke-width="1.0"/>
<line x1="433.59" y1="474.40" x2="451.89" y2="474.40" stroke="#333" stroke-width="2.2" />
<line x1="467.15" y1="431.20" x2="467.15" y2="451.70" stroke="#555" stroke-width="1.0" />
<line x1="467.15" y1="501.20" x2="467.15" y2="522.30" stroke="#555" stroke-width="1.0" />
<rect x="458.00" y="451.70" width="18.30" height="49.50" fill="none" stroke="#444" stroke-width="1.0"/>
<line x1="458.00" y1="481.10" x2="476.30" y2="481.10" stroke="#333" stroke-width="2.2" />
<line x1="491.55" y1="423.10" x2="491.55" y2="443.80" stroke="#555" stroke-width="1.0" />
<line x1="491.55" y1="463.30" x2="491.55" y2="483.70" stroke="#555" stroke-width="1.0" />
<rect x="482.40" y="443.80" width="18.30" height="19.50" fill="none" stroke="#444" stroke-width="1.0"/>
<line x1="482.40" y1="448.70" x2="500.70" y2="448.70" stroke="#333" stroke-width="2.2" />
<line x1="515.96" y1="395.70" x2="515.96" y2="404.40" stroke="#555" stroke-width="1.0" />
<line x1="515.96" y1="456.90" x2="515.96" y2="534.80" stroke="#555" stroke-width="1.0" />
<rect x="506.81" y="404.40" width="18.30" height="52.50" fill="none" stroke="#444" stroke-width="1.0"/>
<line x1="506.81" y1="407.30" x2="525.11" y2="407.30" stroke="#333" stroke-width="2.2" />
<circle cx="441.90" cy="449.00" r="1.9" fill="#222"/>
<circle cx="446.90" cy="449.00" r="3.3" fill="#7CC8D8"/>
<circle cx="440.20" cy="472.70" r="3.3" fill="#7CC8D8"/>
<circle cx="442.50" cy="477.30" r="3.3" fill="#7CC8D8"/>
<circle cx="444.50" cy="475.60" r="3.3" fill="#7CC8D8"/>
<circle cx="464.40" cy="431.20" r="3.3" fill="#8CB864"/>
<circle cx="465.80" cy="435.60" r="3.3" fill="#8CB864"/>
<circle cx="464.40" cy="450.20" r="3.3" fill="#8CB864"/>
<circle cx="468.80" cy="450.20" r="3.3" fill="#8CB864"/>
<circle cx="467.30" cy="458.10" r="3.3" fill="#8CB864"/>
<circle cx="472.20" cy="467.70" r="3.3" fill="#8CB864"/>
<circle cx="465.20" cy="481.40" r="3.3" fill="#8CB864"/>
<circle cx="466.40" cy="496.00" r="3.3" fill="#8CB864"/>
<circle cx="470.20" cy="496.00" r="3.3" fill="#8CB864"/>
<circle cx="468.20" cy="500.70" r="3.3" fill="#8CB864"/>
<circle cx="467.30" cy="505.60" r="3.3" fill="#8CB864"/>
<circle cx="465.20" cy="507.70" r="3.3" fill="#8CB864"/>
<circle cx="466.40" cy="513.50" r="3.3" fill="#8CB864"/>
<circle cx="468.20" cy="522.30" r="3.3" fill="#8CB864"/>
<circle cx="463.50" cy="480.50" r="3.3" fill="#8CB864"/>
<circle cx="469.00" cy="451.00" r="3.3" fill="#8CB864"/>
<circle cx="492.10" cy="423.10" r="3.3" fill="#F08C00"/>
<circle cx="492.10" cy="433.00" r="3.3" fill="#F08C00"/>
<circle cx="494.40" cy="443.80" r="3.3" fill="#F08C00"/>
<circle cx="490.60" cy="446.40" r="3.3" fill="#F08C00"/>
<circle cx="488.60" cy="449.30" r="3.3" fill="#F08C00"/>
<circle cx="495.50" cy="446.00" r="3.3" fill="#F08C00"/>
<circle cx="492.10" cy="458.10" r="3.3" fill="#F08C00"/>
<circle cx="491.50" cy="462.70" r="3.3" fill="#F08C00"/>
<circle cx="491.50" cy="469.20" r="3.3" fill="#F08C00"/>
<circle cx="490.60" cy="483.70" r="3.3" fill="#F08C00"/>
<circle cx="492.70" cy="484.30" r="3.3" fill="#F08C00"/>
<circle cx="516.00" cy="395.70" r="3.3" fill="#BC4850"/>
<circle cx="518.30" cy="401.50" r="3.3" fill="#BC4850"/>
<circle cx="518.30" cy="407.90" r="3.3" fill="#BC4850"/>
<circle cx="517.70" cy="428.30" r="3.3" fill="#BC4850"/>
<circle cx="515.40" cy="486.10" r="3.3" fill="#BC4850"/>
<circle cx="520.40" cy="534.80" r="3.3" fill="#BC4850"/>
<line x1="428.10" y1="388.40" x2="428.10" y2="542.80" stroke="#333333" stroke-width="1.0" />
<line x1="427.60" y1="542.30" x2="530.60" y2="542.30" stroke="#333333" stroke-width="1.0" />
<line x1="425.10" y1="533.00" x2="428.10" y2="533.00" stroke="#333333" stroke-width="1.0" />
<text x="422.50" y="536.40" font-size="10.9" text-anchor="end" fill="#1A1A1A" letter-spacing="0.55">20</text>
<line x1="425.10" y1="498.00" x2="428.10" y2="498.00" stroke="#333333" stroke-width="1.0" />
<text x="422.50" y="501.40" font-size="10.9" text-anchor="end" fill="#1A1A1A" letter-spacing="0.55">40</text>
<line x1="425.10" y1="463.00" x2="428.10" y2="463.00" stroke="#333333" stroke-width="1.0" />
<text x="422.50" y="466.40" font-size="10.9" text-anchor="end" fill="#1A1A1A" letter-spacing="0.55">60</text>
<line x1="425.10" y1="428.00" x2="428.10" y2="428.00" stroke="#333333" stroke-width="1.0" />
<text x="422.50" y="431.40" font-size="10.9" text-anchor="end" fill="#1A1A1A" letter-spacing="0.55">80</text>
<line x1="425.10" y1="393.00" x2="428.10" y2="393.00" stroke="#333333" stroke-width="1.0" />
<text x="422.50" y="396.40" font-size="10.9" text-anchor="end" fill="#1A1A1A" letter-spacing="0.55">100</text>
<line x1="442.74" y1="542.30" x2="442.74" y2="545.30" stroke="#333333" stroke-width="1.0" />
<text transform="translate(442.04,545.30) rotate(-45)" font-size="11.0" text-anchor="end" fill="#1A1A1A" dy="7.8">rB-LP</text>
<line x1="467.15" y1="542.30" x2="467.15" y2="545.30" stroke="#333333" stroke-width="1.0" />
<text transform="translate(466.45,545.30) rotate(-45)" font-size="11.0" text-anchor="end" fill="#1A1A1A" dy="7.8">pcMZL</text>
<line x1="491.55" y1="542.30" x2="491.55" y2="545.30" stroke="#333333" stroke-width="1.0" />
<text transform="translate(490.85,545.30) rotate(-45)" font-size="11.0" text-anchor="end" fill="#1A1A1A" dy="7.8">pcFCL</text>
<line x1="515.96" y1="542.30" x2="515.96" y2="545.30" stroke="#333333" stroke-width="1.0" />
<text transform="translate(515.26,545.30) rotate(-45)" font-size="11.0" text-anchor="end" fill="#1A1A1A" dy="7.8">pcDLBCL-LT</text>
<text x="533.20" y="368.10" font-size="19" text-anchor="start" fill="#000" >d)</text>
<line x1="587.33" y1="408.00" x2="587.33" y2="412.40" stroke="#555" stroke-width="1.0" />
<line x1="587.33" y1="425.00" x2="587.33" y2="425.00" stroke="#555" stroke-width="1.0" />
<rect x="578.19" y="412.40" width="18.29" height="12.60" fill="none" stroke="#444" stroke-width="1.0"/>
<line x1="578.19" y1="416.50" x2="596.47" y2="416.50" stroke="#333" stroke-width="2.2" />
<line x1="611.71" y1="391.90" x2="611.71" y2="407.90" stroke="#555" stroke-width="1.0" />
<line x1="611.71" y1="441.00" x2="611.71" y2="462.50" stroke="#555" stroke-width="1.0" />
<rect x="602.57" y="407.90" width="18.29" height="33.10" fill="none" stroke="#444" stroke-width="1.0"/>
<line x1="602.57" y1="430.80" x2="620.85" y2="430.80" stroke="#333" stroke-width="2.2" />
<line x1="636.09" y1="415.80" x2="636.09" y2="426.00" stroke="#555" stroke-width="1.0" />
<line x1="636.09" y1="449.90" x2="636.09" y2="477.20" stroke="#555" stroke-width="1.0" />
<rect x="626.95" y="426.00" width="18.29" height="23.90" fill="none" stroke="#444" stroke-width="1.0"/>
<line x1="626.95" y1="437.60" x2="645.23" y2="437.60" stroke="#333" stroke-width="2.2" />
<line x1="660.47" y1="412.40" x2="660.47" y2="463.60" stroke="#555" stroke-width="1.0" />
<line x1="660.47" y1="514.80" x2="660.47" y2="539.40" stroke="#555" stroke-width="1.0" />
<rect x="651.33" y="463.60" width="18.29" height="51.20" fill="none" stroke="#444" stroke-width="1.0"/>
<line x1="651.33" y1="508.60" x2="669.61" y2="508.60" stroke="#333" stroke-width="2.2" />
<circle cx="586.30" cy="444.50" r="1.9" fill="#222"/>
<circle cx="588.70" cy="406.90" r="3.3" fill="#7CC8D8"/>
<circle cx="588.70" cy="413.70" r="3.3" fill="#7CC8D8"/>
<circle cx="591.50" cy="418.20" r="3.3" fill="#7CC8D8"/>
<circle cx="591.50" cy="444.50" r="3.3" fill="#7CC8D8"/>
<circle cx="612.60" cy="391.90" r="3.3" fill="#8CB864"/>
<circle cx="617.10" cy="398.00" r="3.3" fill="#8CB864"/>
<circle cx="610.20" cy="402.80" r="3.3" fill="#8CB864"/>
<circle cx="615.40" cy="402.80" r="3.3" fill="#8CB864"/>
<circle cx="608.50" cy="423.30" r="3.3" fill="#8CB864"/>
<circle cx="611.90" cy="428.40" r="3.3" fill="#8CB864"/>
<circle cx="613.50" cy="432.00" r="3.3" fill="#8CB864"/>
<circle cx="608.50" cy="436.30" r="3.3" fill="#8CB864"/>
<circle cx="611.90" cy="438.60" r="3.3" fill="#8CB864"/>
<circle cx="614.70" cy="442.10" r="3.3" fill="#8CB864"/>
<circle cx="613.60" cy="446.50" r="3.3" fill="#8CB864"/>
<circle cx="608.50" cy="456.70" r="3.3" fill="#8CB864"/>
<circle cx="611.30" cy="462.50" r="3.3" fill="#8CB864"/>
<circle cx="616.00" cy="431.00" r="3.3" fill="#8CB864"/>
<circle cx="632.40" cy="415.80" r="3.3" fill="#F08C00"/>
<circle cx="633.10" cy="419.20" r="3.3" fill="#F08C00"/>
<circle cx="638.60" cy="420.60" r="3.3" fill="#F08C00"/>
<circle cx="640.00" cy="426.70" r="3.3" fill="#F08C00"/>
<circle cx="636.50" cy="436.90" r="3.3" fill="#F08C00"/>
<circle cx="634.10" cy="442.10" r="3.3" fill="#F08C00"/>
<circle cx="635.20" cy="447.20" r="3.3" fill="#F08C00"/>
<circle cx="634.10" cy="452.30" r="3.3" fill="#F08C00"/>
<circle cx="641.00" cy="463.60" r="3.3" fill="#F08C00"/>
<circle cx="637.50" cy="477.20" r="3.3" fill="#F08C00"/>
<circle cx="656.30" cy="412.40" r="3.3" fill="#BC4850"/>
<circle cx="663.80" cy="454.00" r="3.3" fill="#BC4850"/>
<circle cx="658.00" cy="472.80" r="3.3" fill="#BC4850"/>
<circle cx="657.00" cy="508.00" r="3.3" fill="#BC4850"/>
<circle cx="661.40" cy="510.30" r="3.3" fill="#BC4850"/>
<circle cx="662.50" cy="519.00" r="3.3" fill="#BC4850"/>
<circle cx="664.90" cy="539.40" r="3.3" fill="#BC4850"/>
<line x1="572.70" y1="385.00" x2="572.70" y2="548.40" stroke="#333333" stroke-width="1.0" />
<line x1="572.20" y1="547.90" x2="675.10" y2="547.90" stroke="#333333" stroke-width="1.0" />
<line x1="569.70" y1="490.20" x2="572.70" y2="490.20" stroke="#333333" stroke-width="1.0" />
<text x="567.10" y="493.60" font-size="10.9" text-anchor="end" fill="#1A1A1A" letter-spacing="0.55">0.5</text>
<line x1="569.70" y1="431.00" x2="572.70" y2="431.00" stroke="#333333" stroke-width="1.0" />
<text x="567.10" y="434.40" font-size="10.9" text-anchor="end" fill="#1A1A1A" letter-spacing="0.55">1.0</text>
<line x1="587.33" y1="547.90" x2="587.33" y2="550.90" stroke="#333333" stroke-width="1.0" />
<text transform="translate(586.63,550.90) rotate(-45)" font-size="11.0" text-anchor="end" fill="#1A1A1A" dy="7.8">rB-LP</text>
<line x1="611.71" y1="547.90" x2="611.71" y2="550.90" stroke="#333333" stroke-width="1.0" />
<text transform="translate(611.01,550.90) rotate(-45)" font-size="11.0" text-anchor="end" fill="#1A1A1A" dy="7.8">pcMZL</text>
<line x1="636.09" y1="547.90" x2="636.09" y2="550.90" stroke="#333333" stroke-width="1.0" />
<text transform="translate(635.39,550.90) rotate(-45)" font-size="11.0" text-anchor="end" fill="#1A1A1A" dy="7.8">pcFCL</text>
<line x1="660.47" y1="547.90" x2="660.47" y2="550.90" stroke="#333333" stroke-width="1.0" />
<text transform="translate(659.77,550.90) rotate(-45)" font-size="11.0" text-anchor="end" fill="#1A1A1A" dy="7.8">pcDLBCL-LT</text>
<text transform="translate(544.6,466) rotate(-90)" font-size="13.3" text-anchor="middle" fill="#000">Shannon Entropy</text>
</svg>
</body></html>
